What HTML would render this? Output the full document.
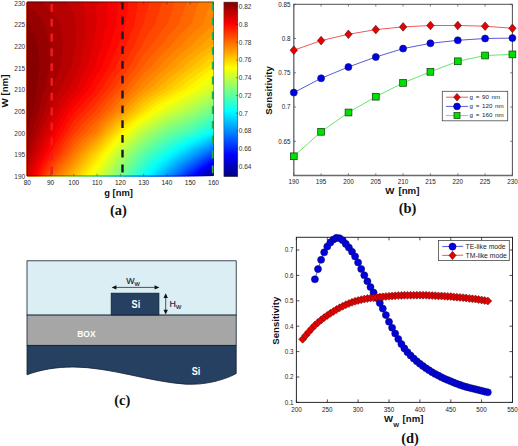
<!DOCTYPE html>
<html><head><meta charset="utf-8"><title>Figure</title>
<style>html,body{margin:0;padding:0;background:#fff}svg{display:block}</style>
</head><body>
<svg width="518" height="446" viewBox="0 0 518 446">
<rect width="518" height="446" fill="#fff"/>
<g shape-rendering="geometricPrecision">
<rect x="27.3" y="2.4" width="186.2" height="173.3" fill="#000080"/>
<path d="M27.3 175.7L32.0 175.7L36.6 175.7L41.3 175.7L45.9 175.7L50.6 175.7L55.2 175.7L59.9 175.7L64.5 175.7L69.2 175.7L73.8 175.7L78.5 175.7L83.2 175.7L87.8 175.7L92.5 175.7L97.1 175.7L101.8 175.7L106.4 175.7L111.1 175.7L115.7 175.7L120.4 175.7L125.1 175.7L129.7 175.7L134.4 175.7L139.0 175.7L143.7 175.7L148.3 175.7L153.0 175.7L157.6 175.7L162.3 175.7L166.9 175.7L171.6 175.7L176.3 175.7L180.9 175.7L185.6 175.7L190.2 175.7L194.9 175.7L199.5 175.7L204.2 175.7L208.8 175.7L213.5 175.7L213.5 175.7L213.5 171.4L213.5 167.0L213.5 162.7L213.5 158.4L213.5 154.0L213.5 149.7L213.5 145.4L213.5 141.0L213.5 136.7L213.5 132.4L213.5 128.0L213.5 123.7L213.5 119.4L213.5 115.0L213.5 110.7L213.5 106.4L213.5 102.0L213.5 97.7L213.5 93.4L213.5 89.0L213.5 84.7L213.5 80.4L213.5 76.1L213.5 71.7L213.5 67.4L213.5 63.1L213.5 58.7L213.5 54.4L213.5 50.1L213.5 45.7L213.5 41.4L213.5 37.1L213.5 32.7L213.5 28.4L213.5 24.1L213.5 19.7L213.5 15.4L213.5 11.1L213.5 6.7L213.5 2.4L208.8 2.4L204.2 2.4L199.5 2.4L194.9 2.4L190.2 2.4L185.6 2.4L180.9 2.4L176.3 2.4L171.6 2.4L166.9 2.4L162.3 2.4L157.6 2.4L153.0 2.4L148.3 2.4L143.7 2.4L139.0 2.4L134.4 2.4L129.7 2.4L125.1 2.4L120.4 2.4L115.7 2.4L111.1 2.4L106.4 2.4L101.8 2.4L97.1 2.4L92.5 2.4L87.8 2.4L83.2 2.4L78.5 2.4L73.8 2.4L69.2 2.4L64.5 2.4L59.9 2.4L55.2 2.4L50.6 2.4L45.9 2.4L41.3 2.4L36.6 2.4L32.0 2.4L27.3 2.4L27.3 6.7L27.3 11.1L27.3 15.4L27.3 19.7L27.3 24.1L27.3 28.4L27.3 32.7L27.3 37.1L27.3 41.4L27.3 45.7L27.3 50.1L27.3 54.4L27.3 58.7L27.3 63.1L27.3 67.4L27.3 71.7L27.3 76.1L27.3 80.4L27.3 84.7L27.3 89.0L27.3 93.4L27.3 97.7L27.3 102.0L27.3 106.4L27.3 110.7L27.3 115.0L27.3 119.4L27.3 123.7L27.3 128.0L27.3 132.4L27.3 136.7L27.3 141.0L27.3 145.4L27.3 149.7L27.3 154.0L27.3 158.4L27.3 162.7L27.3 167.0L27.3 171.4Z" fill="#000087" stroke="#000087" stroke-width="0.4"/>
<path d="M27.3 175.7L32.0 175.7L36.6 175.7L41.3 175.7L45.9 175.7L50.6 175.7L55.2 175.7L59.9 175.7L64.5 175.7L69.2 175.7L73.8 175.7L78.5 175.7L83.2 175.7L87.8 175.7L92.5 175.7L97.1 175.7L101.8 175.7L106.4 175.7L111.1 175.7L115.7 175.7L120.4 175.7L125.1 175.7L129.7 175.7L134.4 175.7L139.0 175.7L143.7 175.7L148.3 175.7L153.0 175.7L157.6 175.7L162.3 175.7L166.9 175.7L171.6 175.7L176.3 175.7L180.9 175.7L185.6 175.7L190.2 175.7L194.9 175.7L199.5 175.7L204.2 175.7L208.8 175.7L211.0 175.7L213.5 174.0L213.5 171.4L213.5 167.0L213.5 162.7L213.5 158.4L213.5 154.0L213.5 149.7L213.5 145.4L213.5 141.0L213.5 136.7L213.5 132.4L213.5 128.0L213.5 123.7L213.5 119.4L213.5 115.0L213.5 110.7L213.5 106.4L213.5 102.0L213.5 97.7L213.5 93.4L213.5 89.0L213.5 84.7L213.5 80.4L213.5 76.1L213.5 71.7L213.5 67.4L213.5 63.1L213.5 58.7L213.5 54.4L213.5 50.1L213.5 45.7L213.5 41.4L213.5 37.1L213.5 32.7L213.5 28.4L213.5 24.1L213.5 19.7L213.5 15.4L213.5 11.1L213.5 6.7L213.5 2.4L208.8 2.4L204.2 2.4L199.5 2.4L194.9 2.4L190.2 2.4L185.6 2.4L180.9 2.4L176.3 2.4L171.6 2.4L166.9 2.4L162.3 2.4L157.6 2.4L153.0 2.4L148.3 2.4L143.7 2.4L139.0 2.4L134.4 2.4L129.7 2.4L125.1 2.4L120.4 2.4L115.7 2.4L111.1 2.4L106.4 2.4L101.8 2.4L97.1 2.4L92.5 2.4L87.8 2.4L83.2 2.4L78.5 2.4L73.8 2.4L69.2 2.4L64.5 2.4L59.9 2.4L55.2 2.4L50.6 2.4L45.9 2.4L41.3 2.4L36.6 2.4L32.0 2.4L27.3 2.4L27.3 6.7L27.3 11.1L27.3 15.4L27.3 19.7L27.3 24.1L27.3 28.4L27.3 32.7L27.3 37.1L27.3 41.4L27.3 45.7L27.3 50.1L27.3 54.4L27.3 58.7L27.3 63.1L27.3 67.4L27.3 71.7L27.3 76.1L27.3 80.4L27.3 84.7L27.3 89.0L27.3 93.4L27.3 97.7L27.3 102.0L27.3 106.4L27.3 110.7L27.3 115.0L27.3 119.4L27.3 123.7L27.3 128.0L27.3 132.4L27.3 136.7L27.3 141.0L27.3 145.4L27.3 149.7L27.3 154.0L27.3 158.4L27.3 162.7L27.3 167.0L27.3 171.4Z" fill="#000097" stroke="#000097" stroke-width="0.4"/>
<path d="M27.3 175.7L32.0 175.7L36.6 175.7L41.3 175.7L45.9 175.7L50.6 175.7L55.2 175.7L59.9 175.7L64.5 175.7L69.2 175.7L73.8 175.7L78.5 175.7L83.2 175.7L87.8 175.7L92.5 175.7L97.1 175.7L101.8 175.7L106.4 175.7L111.1 175.7L115.7 175.7L120.4 175.7L125.1 175.7L129.7 175.7L134.4 175.7L139.0 175.7L143.7 175.7L148.3 175.7L153.0 175.7L157.6 175.7L162.3 175.7L166.9 175.7L171.6 175.7L176.3 175.7L180.9 175.7L185.6 175.7L190.2 175.7L194.9 175.7L199.5 175.7L204.2 175.7L208.5 175.7L208.8 175.5L213.5 172.2L213.5 171.4L213.5 167.0L213.5 162.7L213.5 158.4L213.5 154.0L213.5 149.7L213.5 145.4L213.5 141.0L213.5 136.7L213.5 132.4L213.5 128.0L213.5 123.7L213.5 119.4L213.5 115.0L213.5 110.7L213.5 106.4L213.5 102.0L213.5 97.7L213.5 93.4L213.5 89.0L213.5 84.7L213.5 80.4L213.5 76.1L213.5 71.7L213.5 67.4L213.5 63.1L213.5 58.7L213.5 54.4L213.5 50.1L213.5 45.7L213.5 41.4L213.5 37.1L213.5 32.7L213.5 28.4L213.5 24.1L213.5 19.7L213.5 15.4L213.5 11.1L213.5 6.7L213.5 2.4L208.8 2.4L204.2 2.4L199.5 2.4L194.9 2.4L190.2 2.4L185.6 2.4L180.9 2.4L176.3 2.4L171.6 2.4L166.9 2.4L162.3 2.4L157.6 2.4L153.0 2.4L148.3 2.4L143.7 2.4L139.0 2.4L134.4 2.4L129.7 2.4L125.1 2.4L120.4 2.4L115.7 2.4L111.1 2.4L106.4 2.4L101.8 2.4L97.1 2.4L92.5 2.4L87.8 2.4L83.2 2.4L78.5 2.4L73.8 2.4L69.2 2.4L64.5 2.4L59.9 2.4L55.2 2.4L50.6 2.4L45.9 2.4L41.3 2.4L36.6 2.4L32.0 2.4L27.3 2.4L27.3 6.7L27.3 11.1L27.3 15.4L27.3 19.7L27.3 24.1L27.3 28.4L27.3 32.7L27.3 37.1L27.3 41.4L27.3 45.7L27.3 50.1L27.3 54.4L27.3 58.7L27.3 63.1L27.3 67.4L27.3 71.7L27.3 76.1L27.3 80.4L27.3 84.7L27.3 89.0L27.3 93.4L27.3 97.7L27.3 102.0L27.3 106.4L27.3 110.7L27.3 115.0L27.3 119.4L27.3 123.7L27.3 128.0L27.3 132.4L27.3 136.7L27.3 141.0L27.3 145.4L27.3 149.7L27.3 154.0L27.3 158.4L27.3 162.7L27.3 167.0L27.3 171.4Z" fill="#0000a7" stroke="#0000a7" stroke-width="0.4"/>
<path d="M27.3 175.7L32.0 175.7L36.6 175.7L41.3 175.7L45.9 175.7L50.6 175.7L55.2 175.7L59.9 175.7L64.5 175.7L69.2 175.7L73.8 175.7L78.5 175.7L83.2 175.7L87.8 175.7L92.5 175.7L97.1 175.7L101.8 175.7L106.4 175.7L111.1 175.7L115.7 175.7L120.4 175.7L125.1 175.7L129.7 175.7L134.4 175.7L139.0 175.7L143.7 175.7L148.3 175.7L153.0 175.7L157.6 175.7L162.3 175.7L166.9 175.7L171.6 175.7L176.3 175.7L180.9 175.7L185.6 175.7L190.2 175.7L194.9 175.7L199.5 175.7L204.2 175.7L206.1 175.7L208.8 173.7L212.2 171.4L213.5 170.5L213.5 167.0L213.5 162.7L213.5 158.4L213.5 154.0L213.5 149.7L213.5 145.4L213.5 141.0L213.5 136.7L213.5 132.4L213.5 128.0L213.5 123.7L213.5 119.4L213.5 115.0L213.5 110.7L213.5 106.4L213.5 102.0L213.5 97.7L213.5 93.4L213.5 89.0L213.5 84.7L213.5 80.4L213.5 76.1L213.5 71.7L213.5 67.4L213.5 63.1L213.5 58.7L213.5 54.4L213.5 50.1L213.5 45.7L213.5 41.4L213.5 37.1L213.5 32.7L213.5 28.4L213.5 24.1L213.5 19.7L213.5 15.4L213.5 11.1L213.5 6.7L213.5 2.4L208.8 2.4L204.2 2.4L199.5 2.4L194.9 2.4L190.2 2.4L185.6 2.4L180.9 2.4L176.3 2.4L171.6 2.4L166.9 2.4L162.3 2.4L157.6 2.4L153.0 2.4L148.3 2.4L143.7 2.4L139.0 2.4L134.4 2.4L129.7 2.4L125.1 2.4L120.4 2.4L115.7 2.4L111.1 2.4L106.4 2.4L101.8 2.4L97.1 2.4L92.5 2.4L87.8 2.4L83.2 2.4L78.5 2.4L73.8 2.4L69.2 2.4L64.5 2.4L59.9 2.4L55.2 2.4L50.6 2.4L45.9 2.4L41.3 2.4L36.6 2.4L32.0 2.4L27.3 2.4L27.3 6.7L27.3 11.1L27.3 15.4L27.3 19.7L27.3 24.1L27.3 28.4L27.3 32.7L27.3 37.1L27.3 41.4L27.3 45.7L27.3 50.1L27.3 54.4L27.3 58.7L27.3 63.1L27.3 67.4L27.3 71.7L27.3 76.1L27.3 80.4L27.3 84.7L27.3 89.0L27.3 93.4L27.3 97.7L27.3 102.0L27.3 106.4L27.3 110.7L27.3 115.0L27.3 119.4L27.3 123.7L27.3 128.0L27.3 132.4L27.3 136.7L27.3 141.0L27.3 145.4L27.3 149.7L27.3 154.0L27.3 158.4L27.3 162.7L27.3 167.0L27.3 171.4Z" fill="#0000b7" stroke="#0000b7" stroke-width="0.4"/>
<path d="M27.3 175.7L32.0 175.7L36.6 175.7L41.3 175.7L45.9 175.7L50.6 175.7L55.2 175.7L59.9 175.7L64.5 175.7L69.2 175.7L73.8 175.7L78.5 175.7L83.2 175.7L87.8 175.7L92.5 175.7L97.1 175.7L101.8 175.7L106.4 175.7L111.1 175.7L115.7 175.7L120.4 175.7L125.1 175.7L129.7 175.7L134.4 175.7L139.0 175.7L143.7 175.7L148.3 175.7L153.0 175.7L157.6 175.7L162.3 175.7L166.9 175.7L171.6 175.7L176.3 175.7L180.9 175.7L185.6 175.7L190.2 175.7L194.9 175.7L199.5 175.7L203.6 175.7L204.2 175.2L208.8 171.8L209.5 171.4L213.5 168.7L213.5 167.0L213.5 162.7L213.5 158.4L213.5 154.0L213.5 149.7L213.5 145.4L213.5 141.0L213.5 136.7L213.5 132.4L213.5 128.0L213.5 123.7L213.5 119.4L213.5 115.0L213.5 110.7L213.5 106.4L213.5 102.0L213.5 97.7L213.5 93.4L213.5 89.0L213.5 84.7L213.5 80.4L213.5 76.1L213.5 71.7L213.5 67.4L213.5 63.1L213.5 58.7L213.5 54.4L213.5 50.1L213.5 45.7L213.5 41.4L213.5 37.1L213.5 32.7L213.5 28.4L213.5 24.1L213.5 19.7L213.5 15.4L213.5 11.1L213.5 6.7L213.5 2.4L208.8 2.4L204.2 2.4L199.5 2.4L194.9 2.4L190.2 2.4L185.6 2.4L180.9 2.4L176.3 2.4L171.6 2.4L166.9 2.4L162.3 2.4L157.6 2.4L153.0 2.4L148.3 2.4L143.7 2.4L139.0 2.4L134.4 2.4L129.7 2.4L125.1 2.4L120.4 2.4L115.7 2.4L111.1 2.4L106.4 2.4L101.8 2.4L97.1 2.4L92.5 2.4L87.8 2.4L83.2 2.4L78.5 2.4L73.8 2.4L69.2 2.4L64.5 2.4L59.9 2.4L55.2 2.4L50.6 2.4L45.9 2.4L41.3 2.4L36.6 2.4L32.0 2.4L27.3 2.4L27.3 6.7L27.3 11.1L27.3 15.4L27.3 19.7L27.3 24.1L27.3 28.4L27.3 32.7L27.3 37.1L27.3 41.4L27.3 45.7L27.3 50.1L27.3 54.4L27.3 58.7L27.3 63.1L27.3 67.4L27.3 71.7L27.3 76.1L27.3 80.4L27.3 84.7L27.3 89.0L27.3 93.4L27.3 97.7L27.3 102.0L27.3 106.4L27.3 110.7L27.3 115.0L27.3 119.4L27.3 123.7L27.3 128.0L27.3 132.4L27.3 136.7L27.3 141.0L27.3 145.4L27.3 149.7L27.3 154.0L27.3 158.4L27.3 162.7L27.3 167.0L27.3 171.4Z" fill="#0000c7" stroke="#0000c7" stroke-width="0.4"/>
<path d="M27.3 175.7L32.0 175.7L36.6 175.7L41.3 175.7L45.9 175.7L50.6 175.7L55.2 175.7L59.9 175.7L64.5 175.7L69.2 175.7L73.8 175.7L78.5 175.7L83.2 175.7L87.8 175.7L92.5 175.7L97.1 175.7L101.8 175.7L106.4 175.7L111.1 175.7L115.7 175.7L120.4 175.7L125.1 175.7L129.7 175.7L134.4 175.7L139.0 175.7L143.7 175.7L148.3 175.7L153.0 175.7L157.6 175.7L162.3 175.7L166.9 175.7L171.6 175.7L176.3 175.7L180.9 175.7L185.6 175.7L190.2 175.7L194.9 175.7L199.5 175.7L201.1 175.7L204.2 173.3L206.9 171.4L208.8 170.0L213.4 167.0L213.5 167.0L213.5 162.7L213.5 158.4L213.5 154.0L213.5 149.7L213.5 145.4L213.5 141.0L213.5 136.7L213.5 132.4L213.5 128.0L213.5 123.7L213.5 119.4L213.5 115.0L213.5 110.7L213.5 106.4L213.5 102.0L213.5 97.7L213.5 93.4L213.5 89.0L213.5 84.7L213.5 80.4L213.5 76.1L213.5 71.7L213.5 67.4L213.5 63.1L213.5 58.7L213.5 54.4L213.5 50.1L213.5 45.7L213.5 41.4L213.5 37.1L213.5 32.7L213.5 28.4L213.5 24.1L213.5 19.7L213.5 15.4L213.5 11.1L213.5 6.7L213.5 2.4L208.8 2.4L204.2 2.4L199.5 2.4L194.9 2.4L190.2 2.4L185.6 2.4L180.9 2.4L176.3 2.4L171.6 2.4L166.9 2.4L162.3 2.4L157.6 2.4L153.0 2.4L148.3 2.4L143.7 2.4L139.0 2.4L134.4 2.4L129.7 2.4L125.1 2.4L120.4 2.4L115.7 2.4L111.1 2.4L106.4 2.4L101.8 2.4L97.1 2.4L92.5 2.4L87.8 2.4L83.2 2.4L78.5 2.4L73.8 2.4L69.2 2.4L64.5 2.4L59.9 2.4L55.2 2.4L50.6 2.4L45.9 2.4L41.3 2.4L36.6 2.4L32.0 2.4L27.3 2.4L27.3 6.7L27.3 11.1L27.3 15.4L27.3 19.7L27.3 24.1L27.3 28.4L27.3 32.7L27.3 37.1L27.3 41.4L27.3 45.7L27.3 50.1L27.3 54.4L27.3 58.7L27.3 63.1L27.3 67.4L27.3 71.7L27.3 76.1L27.3 80.4L27.3 84.7L27.3 89.0L27.3 93.4L27.3 97.7L27.3 102.0L27.3 106.4L27.3 110.7L27.3 115.0L27.3 119.4L27.3 123.7L27.3 128.0L27.3 132.4L27.3 136.7L27.3 141.0L27.3 145.4L27.3 149.7L27.3 154.0L27.3 158.4L27.3 162.7L27.3 167.0L27.3 171.4Z" fill="#0000d7" stroke="#0000d7" stroke-width="0.4"/>
<path d="M27.3 175.7L32.0 175.7L36.6 175.7L41.3 175.7L45.9 175.7L50.6 175.7L55.2 175.7L59.9 175.7L64.5 175.7L69.2 175.7L73.8 175.7L78.5 175.7L83.2 175.7L87.8 175.7L92.5 175.7L97.1 175.7L101.8 175.7L106.4 175.7L111.1 175.7L115.7 175.7L120.4 175.7L125.1 175.7L129.7 175.7L134.4 175.7L139.0 175.7L143.7 175.7L148.3 175.7L153.0 175.7L157.6 175.7L162.3 175.7L166.9 175.7L171.6 175.7L176.3 175.7L180.9 175.7L185.6 175.7L190.2 175.7L194.9 175.7L198.6 175.7L199.5 175.0L204.2 171.4L204.3 171.4L208.8 168.2L210.6 167.0L213.5 165.3L213.5 162.7L213.5 158.4L213.5 154.0L213.5 149.7L213.5 145.4L213.5 141.0L213.5 136.7L213.5 132.4L213.5 128.0L213.5 123.7L213.5 119.4L213.5 115.0L213.5 110.7L213.5 106.4L213.5 102.0L213.5 97.7L213.5 93.4L213.5 89.0L213.5 84.7L213.5 80.4L213.5 76.1L213.5 71.7L213.5 67.4L213.5 63.1L213.5 58.7L213.5 54.4L213.5 50.1L213.5 45.7L213.5 41.4L213.5 37.1L213.5 32.7L213.5 28.4L213.5 24.1L213.5 19.7L213.5 15.4L213.5 11.1L213.5 6.7L213.5 2.4L208.8 2.4L204.2 2.4L199.5 2.4L194.9 2.4L190.2 2.4L185.6 2.4L180.9 2.4L176.3 2.4L171.6 2.4L166.9 2.4L162.3 2.4L157.6 2.4L153.0 2.4L148.3 2.4L143.7 2.4L139.0 2.4L134.4 2.4L129.7 2.4L125.1 2.4L120.4 2.4L115.7 2.4L111.1 2.4L106.4 2.4L101.8 2.4L97.1 2.4L92.5 2.4L87.8 2.4L83.2 2.4L78.5 2.4L73.8 2.4L69.2 2.4L64.5 2.4L59.9 2.4L55.2 2.4L50.6 2.4L45.9 2.4L41.3 2.4L36.6 2.4L32.0 2.4L27.3 2.4L27.3 6.7L27.3 11.1L27.3 15.4L27.3 19.7L27.3 24.1L27.3 28.4L27.3 32.7L27.3 37.1L27.3 41.4L27.3 45.7L27.3 50.1L27.3 54.4L27.3 58.7L27.3 63.1L27.3 67.4L27.3 71.7L27.3 76.1L27.3 80.4L27.3 84.7L27.3 89.0L27.3 93.4L27.3 97.7L27.3 102.0L27.3 106.4L27.3 110.7L27.3 115.0L27.3 119.4L27.3 123.7L27.3 128.0L27.3 132.4L27.3 136.7L27.3 141.0L27.3 145.4L27.3 149.7L27.3 154.0L27.3 158.4L27.3 162.7L27.3 167.0L27.3 171.4Z" fill="#0000e7" stroke="#0000e7" stroke-width="0.4"/>
<path d="M27.3 175.7L32.0 175.7L36.6 175.7L41.3 175.7L45.9 175.7L50.6 175.7L55.2 175.7L59.9 175.7L64.5 175.7L69.2 175.7L73.8 175.7L78.5 175.7L83.2 175.7L87.8 175.7L92.5 175.7L97.1 175.7L101.8 175.7L106.4 175.7L111.1 175.7L115.7 175.7L120.4 175.7L125.1 175.7L129.7 175.7L134.4 175.7L139.0 175.7L143.7 175.7L148.3 175.7L153.0 175.7L157.6 175.7L162.3 175.7L166.9 175.7L171.6 175.7L176.3 175.7L180.9 175.7L185.6 175.7L190.2 175.7L194.9 175.7L196.2 175.7L199.5 173.0L201.7 171.4L204.2 169.5L207.8 167.0L208.8 166.4L213.5 163.5L213.5 162.7L213.5 158.4L213.5 154.0L213.5 149.7L213.5 145.4L213.5 141.0L213.5 136.7L213.5 132.4L213.5 128.0L213.5 123.7L213.5 119.4L213.5 115.0L213.5 110.7L213.5 106.4L213.5 102.0L213.5 97.7L213.5 93.4L213.5 89.0L213.5 84.7L213.5 80.4L213.5 76.1L213.5 71.7L213.5 67.4L213.5 63.1L213.5 58.7L213.5 54.4L213.5 50.1L213.5 45.7L213.5 41.4L213.5 37.1L213.5 32.7L213.5 28.4L213.5 24.1L213.5 19.7L213.5 15.4L213.5 11.1L213.5 6.7L213.5 2.4L208.8 2.4L204.2 2.4L199.5 2.4L194.9 2.4L190.2 2.4L185.6 2.4L180.9 2.4L176.3 2.4L171.6 2.4L166.9 2.4L162.3 2.4L157.6 2.4L153.0 2.4L148.3 2.4L143.7 2.4L139.0 2.4L134.4 2.4L129.7 2.4L125.1 2.4L120.4 2.4L115.7 2.4L111.1 2.4L106.4 2.4L101.8 2.4L97.1 2.4L92.5 2.4L87.8 2.4L83.2 2.4L78.5 2.4L73.8 2.4L69.2 2.4L64.5 2.4L59.9 2.4L55.2 2.4L50.6 2.4L45.9 2.4L41.3 2.4L36.6 2.4L32.0 2.4L27.3 2.4L27.3 6.7L27.3 11.1L27.3 15.4L27.3 19.7L27.3 24.1L27.3 28.4L27.3 32.7L27.3 37.1L27.3 41.4L27.3 45.7L27.3 50.1L27.3 54.4L27.3 58.7L27.3 63.1L27.3 67.4L27.3 71.7L27.3 76.1L27.3 80.4L27.3 84.7L27.3 89.0L27.3 93.4L27.3 97.7L27.3 102.0L27.3 106.4L27.3 110.7L27.3 115.0L27.3 119.4L27.3 123.7L27.3 128.0L27.3 132.4L27.3 136.7L27.3 141.0L27.3 145.4L27.3 149.7L27.3 154.0L27.3 158.4L27.3 162.7L27.3 167.0L27.3 171.4Z" fill="#0000f7" stroke="#0000f7" stroke-width="0.4"/>
<path d="M27.3 175.7L32.0 175.7L36.6 175.7L41.3 175.7L45.9 175.7L50.6 175.7L55.2 175.7L59.9 175.7L64.5 175.7L69.2 175.7L73.8 175.7L78.5 175.7L83.2 175.7L87.8 175.7L92.5 175.7L97.1 175.7L101.8 175.7L106.4 175.7L111.1 175.7L115.7 175.7L120.4 175.7L125.1 175.7L129.7 175.7L134.4 175.7L139.0 175.7L143.7 175.7L148.3 175.7L153.0 175.7L157.6 175.7L162.3 175.7L166.9 175.7L171.6 175.7L176.3 175.7L180.9 175.7L185.6 175.7L190.2 175.7L193.7 175.7L194.9 174.7L199.0 171.4L199.5 171.0L204.2 167.6L205.0 167.0L208.8 164.6L211.9 162.7L213.5 161.8L213.5 158.4L213.5 154.0L213.5 149.7L213.5 145.4L213.5 141.0L213.5 136.7L213.5 132.4L213.5 128.0L213.5 123.7L213.5 119.4L213.5 115.0L213.5 110.7L213.5 106.4L213.5 102.0L213.5 97.7L213.5 93.4L213.5 89.0L213.5 84.7L213.5 80.4L213.5 76.1L213.5 71.7L213.5 67.4L213.5 63.1L213.5 58.7L213.5 54.4L213.5 50.1L213.5 45.7L213.5 41.4L213.5 37.1L213.5 32.7L213.5 28.4L213.5 24.1L213.5 19.7L213.5 15.4L213.5 11.1L213.5 6.7L213.5 2.4L208.8 2.4L204.2 2.4L199.5 2.4L194.9 2.4L190.2 2.4L185.6 2.4L180.9 2.4L176.3 2.4L171.6 2.4L166.9 2.4L162.3 2.4L157.6 2.4L153.0 2.4L148.3 2.4L143.7 2.4L139.0 2.4L134.4 2.4L129.7 2.4L125.1 2.4L120.4 2.4L115.7 2.4L111.1 2.4L106.4 2.4L101.8 2.4L97.1 2.4L92.5 2.4L87.8 2.4L83.2 2.4L78.5 2.4L73.8 2.4L69.2 2.4L64.5 2.4L59.9 2.4L55.2 2.4L50.6 2.4L45.9 2.4L41.3 2.4L36.6 2.4L32.0 2.4L27.3 2.4L27.3 6.7L27.3 11.1L27.3 15.4L27.3 19.7L27.3 24.1L27.3 28.4L27.3 32.7L27.3 37.1L27.3 41.4L27.3 45.7L27.3 50.1L27.3 54.4L27.3 58.7L27.3 63.1L27.3 67.4L27.3 71.7L27.3 76.1L27.3 80.4L27.3 84.7L27.3 89.0L27.3 93.4L27.3 97.7L27.3 102.0L27.3 106.4L27.3 110.7L27.3 115.0L27.3 119.4L27.3 123.7L27.3 128.0L27.3 132.4L27.3 136.7L27.3 141.0L27.3 145.4L27.3 149.7L27.3 154.0L27.3 158.4L27.3 162.7L27.3 167.0L27.3 171.4Z" fill="#0008ff" stroke="#0008ff" stroke-width="0.4"/>
<path d="M27.3 175.7L32.0 175.7L36.6 175.7L41.3 175.7L45.9 175.7L50.6 175.7L55.2 175.7L59.9 175.7L64.5 175.7L69.2 175.7L73.8 175.7L78.5 175.7L83.2 175.7L87.8 175.7L92.5 175.7L97.1 175.7L101.8 175.7L106.4 175.7L111.1 175.7L115.7 175.7L120.4 175.7L125.1 175.7L129.7 175.7L134.4 175.7L139.0 175.7L143.7 175.7L148.3 175.7L153.0 175.7L157.6 175.7L162.3 175.7L166.9 175.7L171.6 175.7L176.3 175.7L180.9 175.7L185.6 175.7L190.2 175.7L191.2 175.7L194.9 172.6L196.4 171.4L199.5 169.0L202.3 167.0L204.2 165.7L208.8 162.7L208.9 162.7L213.5 160.0L213.5 158.4L213.5 154.0L213.5 149.7L213.5 145.4L213.5 141.0L213.5 136.7L213.5 132.4L213.5 128.0L213.5 123.7L213.5 119.4L213.5 115.0L213.5 110.7L213.5 106.4L213.5 102.0L213.5 97.7L213.5 93.4L213.5 89.0L213.5 84.7L213.5 80.4L213.5 76.1L213.5 71.7L213.5 67.4L213.5 63.1L213.5 58.7L213.5 54.4L213.5 50.1L213.5 45.7L213.5 41.4L213.5 37.1L213.5 32.7L213.5 28.4L213.5 24.1L213.5 19.7L213.5 15.4L213.5 11.1L213.5 6.7L213.5 2.4L208.8 2.4L204.2 2.4L199.5 2.4L194.9 2.4L190.2 2.4L185.6 2.4L180.9 2.4L176.3 2.4L171.6 2.4L166.9 2.4L162.3 2.4L157.6 2.4L153.0 2.4L148.3 2.4L143.7 2.4L139.0 2.4L134.4 2.4L129.7 2.4L125.1 2.4L120.4 2.4L115.7 2.4L111.1 2.4L106.4 2.4L101.8 2.4L97.1 2.4L92.5 2.4L87.8 2.4L83.2 2.4L78.5 2.4L73.8 2.4L69.2 2.4L64.5 2.4L59.9 2.4L55.2 2.4L50.6 2.4L45.9 2.4L41.3 2.4L36.6 2.4L32.0 2.4L27.3 2.4L27.3 6.7L27.3 11.1L27.3 15.4L27.3 19.7L27.3 24.1L27.3 28.4L27.3 32.7L27.3 37.1L27.3 41.4L27.3 45.7L27.3 50.1L27.3 54.4L27.3 58.7L27.3 63.1L27.3 67.4L27.3 71.7L27.3 76.1L27.3 80.4L27.3 84.7L27.3 89.0L27.3 93.4L27.3 97.7L27.3 102.0L27.3 106.4L27.3 110.7L27.3 115.0L27.3 119.4L27.3 123.7L27.3 128.0L27.3 132.4L27.3 136.7L27.3 141.0L27.3 145.4L27.3 149.7L27.3 154.0L27.3 158.4L27.3 162.7L27.3 167.0L27.3 171.4Z" fill="#0018ff" stroke="#0018ff" stroke-width="0.4"/>
<path d="M27.3 175.7L32.0 175.7L36.6 175.7L41.3 175.7L45.9 175.7L50.6 175.7L55.2 175.7L59.9 175.7L64.5 175.7L69.2 175.7L73.8 175.7L78.5 175.7L83.2 175.7L87.8 175.7L92.5 175.7L97.1 175.7L101.8 175.7L106.4 175.7L111.1 175.7L115.7 175.7L120.4 175.7L125.1 175.7L129.7 175.7L134.4 175.7L139.0 175.7L143.7 175.7L148.3 175.7L153.0 175.7L157.6 175.7L162.3 175.7L166.9 175.7L171.6 175.7L176.3 175.7L180.9 175.7L185.6 175.7L188.6 175.7L190.2 174.4L193.8 171.4L194.9 170.5L199.5 167.0L199.5 167.0L204.2 163.8L205.9 162.7L208.8 160.9L213.4 158.4L213.5 158.3L213.5 154.0L213.5 149.7L213.5 145.4L213.5 141.0L213.5 136.7L213.5 132.4L213.5 128.0L213.5 123.7L213.5 119.4L213.5 115.0L213.5 110.7L213.5 106.4L213.5 102.0L213.5 97.7L213.5 93.4L213.5 89.0L213.5 84.7L213.5 80.4L213.5 76.1L213.5 71.7L213.5 67.4L213.5 63.1L213.5 58.7L213.5 54.4L213.5 50.1L213.5 45.7L213.5 41.4L213.5 37.1L213.5 32.7L213.5 28.4L213.5 24.1L213.5 19.7L213.5 15.4L213.5 11.1L213.5 6.7L213.5 2.4L208.8 2.4L204.2 2.4L199.5 2.4L194.9 2.4L190.2 2.4L185.6 2.4L180.9 2.4L176.3 2.4L171.6 2.4L166.9 2.4L162.3 2.4L157.6 2.4L153.0 2.4L148.3 2.4L143.7 2.4L139.0 2.4L134.4 2.4L129.7 2.4L125.1 2.4L120.4 2.4L115.7 2.4L111.1 2.4L106.4 2.4L101.8 2.4L97.1 2.4L92.5 2.4L87.8 2.4L83.2 2.4L78.5 2.4L73.8 2.4L69.2 2.4L64.5 2.4L59.9 2.4L55.2 2.4L50.6 2.4L45.9 2.4L41.3 2.4L36.6 2.4L32.0 2.4L27.3 2.4L27.3 6.7L27.3 11.1L27.3 15.4L27.3 19.7L27.3 24.1L27.3 28.4L27.3 32.7L27.3 37.1L27.3 41.4L27.3 45.7L27.3 50.1L27.3 54.4L27.3 58.7L27.3 63.1L27.3 67.4L27.3 71.7L27.3 76.1L27.3 80.4L27.3 84.7L27.3 89.0L27.3 93.4L27.3 97.7L27.3 102.0L27.3 106.4L27.3 110.7L27.3 115.0L27.3 119.4L27.3 123.7L27.3 128.0L27.3 132.4L27.3 136.7L27.3 141.0L27.3 145.4L27.3 149.7L27.3 154.0L27.3 158.4L27.3 162.7L27.3 167.0L27.3 171.4Z" fill="#0028ff" stroke="#0028ff" stroke-width="0.4"/>
<path d="M27.3 175.7L32.0 175.7L36.6 175.7L41.3 175.7L45.9 175.7L50.6 175.7L55.2 175.7L59.9 175.7L64.5 175.7L69.2 175.7L73.8 175.7L78.5 175.7L83.2 175.7L87.8 175.7L92.5 175.7L97.1 175.7L101.8 175.7L106.4 175.7L111.1 175.7L115.7 175.7L120.4 175.7L125.1 175.7L129.7 175.7L134.4 175.7L139.0 175.7L143.7 175.7L148.3 175.7L153.0 175.7L157.6 175.7L162.3 175.7L166.9 175.7L171.6 175.7L176.3 175.7L180.9 175.7L185.6 175.7L185.8 175.7L190.2 172.1L191.1 171.4L194.9 168.4L196.7 167.0L199.5 165.0L202.9 162.7L204.2 161.9L208.8 159.1L210.1 158.4L213.5 156.6L213.5 154.0L213.5 149.7L213.5 145.4L213.5 141.0L213.5 136.7L213.5 132.4L213.5 128.0L213.5 123.7L213.5 119.4L213.5 115.0L213.5 110.7L213.5 106.4L213.5 102.0L213.5 97.7L213.5 93.4L213.5 89.0L213.5 84.7L213.5 80.4L213.5 76.1L213.5 71.7L213.5 67.4L213.5 63.1L213.5 58.7L213.5 54.4L213.5 50.1L213.5 45.7L213.5 41.4L213.5 37.1L213.5 32.7L213.5 28.4L213.5 24.1L213.5 19.7L213.5 15.4L213.5 11.1L213.5 6.7L213.5 2.4L208.8 2.4L204.2 2.4L199.5 2.4L194.9 2.4L190.2 2.4L185.6 2.4L180.9 2.4L176.3 2.4L171.6 2.4L166.9 2.4L162.3 2.4L157.6 2.4L153.0 2.4L148.3 2.4L143.7 2.4L139.0 2.4L134.4 2.4L129.7 2.4L125.1 2.4L120.4 2.4L115.7 2.4L111.1 2.4L106.4 2.4L101.8 2.4L97.1 2.4L92.5 2.4L87.8 2.4L83.2 2.4L78.5 2.4L73.8 2.4L69.2 2.4L64.5 2.4L59.9 2.4L55.2 2.4L50.6 2.4L45.9 2.4L41.3 2.4L36.6 2.4L32.0 2.4L27.3 2.4L27.3 6.7L27.3 11.1L27.3 15.4L27.3 19.7L27.3 24.1L27.3 28.4L27.3 32.7L27.3 37.1L27.3 41.4L27.3 45.7L27.3 50.1L27.3 54.4L27.3 58.7L27.3 63.1L27.3 67.4L27.3 71.7L27.3 76.1L27.3 80.4L27.3 84.7L27.3 89.0L27.3 93.4L27.3 97.7L27.3 102.0L27.3 106.4L27.3 110.7L27.3 115.0L27.3 119.4L27.3 123.7L27.3 128.0L27.3 132.4L27.3 136.7L27.3 141.0L27.3 145.4L27.3 149.7L27.3 154.0L27.3 158.4L27.3 162.7L27.3 167.0L27.3 171.4Z" fill="#0038ff" stroke="#0038ff" stroke-width="0.4"/>
<path d="M27.3 175.7L32.0 175.7L36.6 175.7L41.3 175.7L45.9 175.7L50.6 175.7L55.2 175.7L59.9 175.7L64.5 175.7L69.2 175.7L73.8 175.7L78.5 175.7L83.2 175.7L87.8 175.7L92.5 175.7L97.1 175.7L101.8 175.7L106.4 175.7L111.1 175.7L115.7 175.7L120.4 175.7L125.1 175.7L129.7 175.7L134.4 175.7L139.0 175.7L143.7 175.7L148.3 175.7L153.0 175.7L157.6 175.7L162.3 175.7L166.9 175.7L171.6 175.7L176.3 175.7L180.9 175.7L183.0 175.7L185.6 173.5L188.3 171.4L190.2 169.9L193.9 167.0L194.9 166.3L199.5 163.0L199.9 162.7L204.2 160.0L206.9 158.4L208.8 157.3L213.5 154.8L213.5 154.0L213.5 149.7L213.5 145.4L213.5 141.0L213.5 136.7L213.5 132.4L213.5 128.0L213.5 123.7L213.5 119.4L213.5 115.0L213.5 110.7L213.5 106.4L213.5 102.0L213.5 97.7L213.5 93.4L213.5 89.0L213.5 84.7L213.5 80.4L213.5 76.1L213.5 71.7L213.5 67.4L213.5 63.1L213.5 58.7L213.5 54.4L213.5 50.1L213.5 45.7L213.5 41.4L213.5 37.1L213.5 32.7L213.5 28.4L213.5 24.1L213.5 19.7L213.5 15.4L213.5 11.1L213.5 6.7L213.5 2.4L208.8 2.4L204.2 2.4L199.5 2.4L194.9 2.4L190.2 2.4L185.6 2.4L180.9 2.4L176.3 2.4L171.6 2.4L166.9 2.4L162.3 2.4L157.6 2.4L153.0 2.4L148.3 2.4L143.7 2.4L139.0 2.4L134.4 2.4L129.7 2.4L125.1 2.4L120.4 2.4L115.7 2.4L111.1 2.4L106.4 2.4L101.8 2.4L97.1 2.4L92.5 2.4L87.8 2.4L83.2 2.4L78.5 2.4L73.8 2.4L69.2 2.4L64.5 2.4L59.9 2.4L55.2 2.4L50.6 2.4L45.9 2.4L41.3 2.4L36.6 2.4L32.0 2.4L27.3 2.4L27.3 6.7L27.3 11.1L27.3 15.4L27.3 19.7L27.3 24.1L27.3 28.4L27.3 32.7L27.3 37.1L27.3 41.4L27.3 45.7L27.3 50.1L27.3 54.4L27.3 58.7L27.3 63.1L27.3 67.4L27.3 71.7L27.3 76.1L27.3 80.4L27.3 84.7L27.3 89.0L27.3 93.4L27.3 97.7L27.3 102.0L27.3 106.4L27.3 110.7L27.3 115.0L27.3 119.4L27.3 123.7L27.3 128.0L27.3 132.4L27.3 136.7L27.3 141.0L27.3 145.4L27.3 149.7L27.3 154.0L27.3 158.4L27.3 162.7L27.3 167.0L27.3 171.4Z" fill="#0048ff" stroke="#0048ff" stroke-width="0.4"/>
<path d="M27.3 175.7L32.0 175.7L36.6 175.7L41.3 175.7L45.9 175.7L50.6 175.7L55.2 175.7L59.9 175.7L64.5 175.7L69.2 175.7L73.8 175.7L78.5 175.7L83.2 175.7L87.8 175.7L92.5 175.7L97.1 175.7L101.8 175.7L106.4 175.7L111.1 175.7L115.7 175.7L120.4 175.7L125.1 175.7L129.7 175.7L134.4 175.7L139.0 175.7L143.7 175.7L148.3 175.7L153.0 175.7L157.6 175.7L162.3 175.7L166.9 175.7L171.6 175.7L176.3 175.7L180.2 175.7L180.9 175.1L185.3 171.4L185.6 171.2L190.2 167.7L191.1 167.0L194.9 164.2L196.9 162.7L199.5 161.0L203.7 158.4L204.2 158.1L208.8 155.5L211.6 154.0L213.5 153.0L213.5 149.7L213.5 145.4L213.5 141.0L213.5 136.7L213.5 132.4L213.5 128.0L213.5 123.7L213.5 119.4L213.5 115.0L213.5 110.7L213.5 106.4L213.5 102.0L213.5 97.7L213.5 93.4L213.5 89.0L213.5 84.7L213.5 80.4L213.5 76.1L213.5 71.7L213.5 67.4L213.5 63.1L213.5 58.7L213.5 54.4L213.5 50.1L213.5 45.7L213.5 41.4L213.5 37.1L213.5 32.7L213.5 28.4L213.5 24.1L213.5 19.7L213.5 15.4L213.5 11.1L213.5 6.7L213.5 2.4L208.8 2.4L204.2 2.4L199.5 2.4L194.9 2.4L190.2 2.4L185.6 2.4L180.9 2.4L176.3 2.4L171.6 2.4L166.9 2.4L162.3 2.4L157.6 2.4L153.0 2.4L148.3 2.4L143.7 2.4L139.0 2.4L134.4 2.4L129.7 2.4L125.1 2.4L120.4 2.4L115.7 2.4L111.1 2.4L106.4 2.4L101.8 2.4L97.1 2.4L92.5 2.4L87.8 2.4L83.2 2.4L78.5 2.4L73.8 2.4L69.2 2.4L64.5 2.4L59.9 2.4L55.2 2.4L50.6 2.4L45.9 2.4L41.3 2.4L36.6 2.4L32.0 2.4L27.3 2.4L27.3 6.7L27.3 11.1L27.3 15.4L27.3 19.7L27.3 24.1L27.3 28.4L27.3 32.7L27.3 37.1L27.3 41.4L27.3 45.7L27.3 50.1L27.3 54.4L27.3 58.7L27.3 63.1L27.3 67.4L27.3 71.7L27.3 76.1L27.3 80.4L27.3 84.7L27.3 89.0L27.3 93.4L27.3 97.7L27.3 102.0L27.3 106.4L27.3 110.7L27.3 115.0L27.3 119.4L27.3 123.7L27.3 128.0L27.3 132.4L27.3 136.7L27.3 141.0L27.3 145.4L27.3 149.7L27.3 154.0L27.3 158.4L27.3 162.7L27.3 167.0L27.3 171.4Z" fill="#0058ff" stroke="#0058ff" stroke-width="0.4"/>
<path d="M27.3 175.7L32.0 175.7L36.6 175.7L41.3 175.7L45.9 175.7L50.6 175.7L55.2 175.7L59.9 175.7L64.5 175.7L69.2 175.7L73.8 175.7L78.5 175.7L83.2 175.7L87.8 175.7L92.5 175.7L97.1 175.7L101.8 175.7L106.4 175.7L111.1 175.7L115.7 175.7L120.4 175.7L125.1 175.7L129.7 175.7L134.4 175.7L139.0 175.7L143.7 175.7L148.3 175.7L153.0 175.7L157.6 175.7L162.3 175.7L166.9 175.7L171.6 175.7L176.3 175.7L177.4 175.7L180.9 172.6L182.3 171.4L185.6 168.8L188.0 167.0L190.2 165.5L194.0 162.7L194.9 162.1L199.5 159.0L200.5 158.4L204.2 156.2L208.1 154.0L208.8 153.6L213.5 151.1L213.5 149.7L213.5 145.4L213.5 141.0L213.5 136.7L213.5 132.4L213.5 128.0L213.5 123.7L213.5 119.4L213.5 115.0L213.5 110.7L213.5 106.4L213.5 102.0L213.5 97.7L213.5 93.4L213.5 89.0L213.5 84.7L213.5 80.4L213.5 76.1L213.5 71.7L213.5 67.4L213.5 63.1L213.5 58.7L213.5 54.4L213.5 50.1L213.5 45.7L213.5 41.4L213.5 37.1L213.5 32.7L213.5 28.4L213.5 24.1L213.5 19.7L213.5 15.4L213.5 11.1L213.5 6.7L213.5 2.4L208.8 2.4L204.2 2.4L199.5 2.4L194.9 2.4L190.2 2.4L185.6 2.4L180.9 2.4L176.3 2.4L171.6 2.4L166.9 2.4L162.3 2.4L157.6 2.4L153.0 2.4L148.3 2.4L143.7 2.4L139.0 2.4L134.4 2.4L129.7 2.4L125.1 2.4L120.4 2.4L115.7 2.4L111.1 2.4L106.4 2.4L101.8 2.4L97.1 2.4L92.5 2.4L87.8 2.4L83.2 2.4L78.5 2.4L73.8 2.4L69.2 2.4L64.5 2.4L59.9 2.4L55.2 2.4L50.6 2.4L45.9 2.4L41.3 2.4L36.6 2.4L32.0 2.4L27.3 2.4L27.3 6.7L27.3 11.1L27.3 15.4L27.3 19.7L27.3 24.1L27.3 28.4L27.3 32.7L27.3 37.1L27.3 41.4L27.3 45.7L27.3 50.1L27.3 54.4L27.3 58.7L27.3 63.1L27.3 67.4L27.3 71.7L27.3 76.1L27.3 80.4L27.3 84.7L27.3 89.0L27.3 93.4L27.3 97.7L27.3 102.0L27.3 106.4L27.3 110.7L27.3 115.0L27.3 119.4L27.3 123.7L27.3 128.0L27.3 132.4L27.3 136.7L27.3 141.0L27.3 145.4L27.3 149.7L27.3 154.0L27.3 158.4L27.3 162.7L27.3 167.0L27.3 171.4Z" fill="#0068ff" stroke="#0068ff" stroke-width="0.4"/>
<path d="M27.3 175.7L32.0 175.7L36.6 175.7L41.3 175.7L45.9 175.7L50.6 175.7L55.2 175.7L59.9 175.7L64.5 175.7L69.2 175.7L73.8 175.7L78.5 175.7L83.2 175.7L87.8 175.7L92.5 175.7L97.1 175.7L101.8 175.7L106.4 175.7L111.1 175.7L115.7 175.7L120.4 175.7L125.1 175.7L129.7 175.7L134.4 175.7L139.0 175.7L143.7 175.7L148.3 175.7L153.0 175.7L157.6 175.7L162.3 175.7L166.9 175.7L171.6 175.7L174.6 175.7L176.3 174.1L179.4 171.4L180.9 170.1L184.8 167.0L185.6 166.5L190.2 163.2L191.0 162.7L194.9 159.9L197.3 158.4L199.5 157.0L204.2 154.3L204.6 154.0L208.8 151.6L212.5 149.7L213.5 149.2L213.5 145.4L213.5 141.0L213.5 136.7L213.5 132.4L213.5 128.0L213.5 123.7L213.5 119.4L213.5 115.0L213.5 110.7L213.5 106.4L213.5 102.0L213.5 97.7L213.5 93.4L213.5 89.0L213.5 84.7L213.5 80.4L213.5 76.1L213.5 71.7L213.5 67.4L213.5 63.1L213.5 58.7L213.5 54.4L213.5 50.1L213.5 45.7L213.5 41.4L213.5 37.1L213.5 32.7L213.5 28.4L213.5 24.1L213.5 19.7L213.5 15.4L213.5 11.1L213.5 6.7L213.5 2.4L208.8 2.4L204.2 2.4L199.5 2.4L194.9 2.4L190.2 2.4L185.6 2.4L180.9 2.4L176.3 2.4L171.6 2.4L166.9 2.4L162.3 2.4L157.6 2.4L153.0 2.4L148.3 2.4L143.7 2.4L139.0 2.4L134.4 2.4L129.7 2.4L125.1 2.4L120.4 2.4L115.7 2.4L111.1 2.4L106.4 2.4L101.8 2.4L97.1 2.4L92.5 2.4L87.8 2.4L83.2 2.4L78.5 2.4L73.8 2.4L69.2 2.4L64.5 2.4L59.9 2.4L55.2 2.4L50.6 2.4L45.9 2.4L41.3 2.4L36.6 2.4L32.0 2.4L27.3 2.4L27.3 6.7L27.3 11.1L27.3 15.4L27.3 19.7L27.3 24.1L27.3 28.4L27.3 32.7L27.3 37.1L27.3 41.4L27.3 45.7L27.3 50.1L27.3 54.4L27.3 58.7L27.3 63.1L27.3 67.4L27.3 71.7L27.3 76.1L27.3 80.4L27.3 84.7L27.3 89.0L27.3 93.4L27.3 97.7L27.3 102.0L27.3 106.4L27.3 110.7L27.3 115.0L27.3 119.4L27.3 123.7L27.3 128.0L27.3 132.4L27.3 136.7L27.3 141.0L27.3 145.4L27.3 149.7L27.3 154.0L27.3 158.4L27.3 162.7L27.3 167.0L27.3 171.4Z" fill="#0078ff" stroke="#0078ff" stroke-width="0.4"/>
<path d="M27.3 175.7L32.0 175.7L36.6 175.7L41.3 175.7L45.9 175.7L50.6 175.7L55.2 175.7L59.9 175.7L64.5 175.7L69.2 175.7L73.8 175.7L78.5 175.7L83.2 175.7L87.8 175.7L92.5 175.7L97.1 175.7L101.8 175.7L106.4 175.7L111.1 175.7L115.7 175.7L120.4 175.7L125.1 175.7L129.7 175.7L134.4 175.7L139.0 175.7L143.7 175.7L148.3 175.7L153.0 175.7L157.6 175.7L162.3 175.7L166.9 175.7L171.6 175.7L171.8 175.7L176.3 171.5L176.4 171.4L180.9 167.6L181.6 167.0L185.6 164.1L187.6 162.7L190.2 161.0L194.1 158.4L194.9 157.8L199.5 155.0L201.1 154.0L204.2 152.2L208.8 149.7L208.8 149.7L213.5 147.3L213.5 145.4L213.5 141.0L213.5 136.7L213.5 132.4L213.5 128.0L213.5 123.7L213.5 119.4L213.5 115.0L213.5 110.7L213.5 106.4L213.5 102.0L213.5 97.7L213.5 93.4L213.5 89.0L213.5 84.7L213.5 80.4L213.5 76.1L213.5 71.7L213.5 67.4L213.5 63.1L213.5 58.7L213.5 54.4L213.5 50.1L213.5 45.7L213.5 41.4L213.5 37.1L213.5 32.7L213.5 28.4L213.5 24.1L213.5 19.7L213.5 15.4L213.5 11.1L213.5 6.7L213.5 2.4L208.8 2.4L204.2 2.4L199.5 2.4L194.9 2.4L190.2 2.4L185.6 2.4L180.9 2.4L176.3 2.4L171.6 2.4L166.9 2.4L162.3 2.4L157.6 2.4L153.0 2.4L148.3 2.4L143.7 2.4L139.0 2.4L134.4 2.4L129.7 2.4L125.1 2.4L120.4 2.4L115.7 2.4L111.1 2.4L106.4 2.4L101.8 2.4L97.1 2.4L92.5 2.4L87.8 2.4L83.2 2.4L78.5 2.4L73.8 2.4L69.2 2.4L64.5 2.4L59.9 2.4L55.2 2.4L50.6 2.4L45.9 2.4L41.3 2.4L36.6 2.4L32.0 2.4L27.3 2.4L27.3 6.7L27.3 11.1L27.3 15.4L27.3 19.7L27.3 24.1L27.3 28.4L27.3 32.7L27.3 37.1L27.3 41.4L27.3 45.7L27.3 50.1L27.3 54.4L27.3 58.7L27.3 63.1L27.3 67.4L27.3 71.7L27.3 76.1L27.3 80.4L27.3 84.7L27.3 89.0L27.3 93.4L27.3 97.7L27.3 102.0L27.3 106.4L27.3 110.7L27.3 115.0L27.3 119.4L27.3 123.7L27.3 128.0L27.3 132.4L27.3 136.7L27.3 141.0L27.3 145.4L27.3 149.7L27.3 154.0L27.3 158.4L27.3 162.7L27.3 167.0L27.3 171.4Z" fill="#0087ff" stroke="#0087ff" stroke-width="0.4"/>
<path d="M27.3 175.7L32.0 175.7L36.6 175.7L41.3 175.7L45.9 175.7L50.6 175.7L55.2 175.7L59.9 175.7L64.5 175.7L69.2 175.7L73.8 175.7L78.5 175.7L83.2 175.7L87.8 175.7L92.5 175.7L97.1 175.7L101.8 175.7L106.4 175.7L111.1 175.7L115.7 175.7L120.4 175.7L125.1 175.7L129.7 175.7L134.4 175.7L139.0 175.7L143.7 175.7L148.3 175.7L153.0 175.7L157.6 175.7L162.3 175.7L166.9 175.7L169.1 175.7L171.6 173.1L173.4 171.4L176.3 168.8L178.4 167.0L180.9 165.1L184.2 162.7L185.6 161.8L190.2 158.8L190.8 158.4L194.9 155.7L197.7 154.0L199.5 152.9L204.2 150.2L205.0 149.7L208.8 147.7L213.5 145.5L213.5 145.4L213.5 141.0L213.5 136.7L213.5 132.4L213.5 128.0L213.5 123.7L213.5 119.4L213.5 115.0L213.5 110.7L213.5 106.4L213.5 102.0L213.5 97.7L213.5 93.4L213.5 89.0L213.5 84.7L213.5 80.4L213.5 76.1L213.5 71.7L213.5 67.4L213.5 63.1L213.5 58.7L213.5 54.4L213.5 50.1L213.5 45.7L213.5 41.4L213.5 37.1L213.5 32.7L213.5 28.4L213.5 24.1L213.5 19.7L213.5 15.4L213.5 11.1L213.5 6.7L213.5 2.4L208.8 2.4L204.2 2.4L199.5 2.4L194.9 2.4L190.2 2.4L185.6 2.4L180.9 2.4L176.3 2.4L171.6 2.4L166.9 2.4L162.3 2.4L157.6 2.4L153.0 2.4L148.3 2.4L143.7 2.4L139.0 2.4L134.4 2.4L129.7 2.4L125.1 2.4L120.4 2.4L115.7 2.4L111.1 2.4L106.4 2.4L101.8 2.4L97.1 2.4L92.5 2.4L87.8 2.4L83.2 2.4L78.5 2.4L73.8 2.4L69.2 2.4L64.5 2.4L59.9 2.4L55.2 2.4L50.6 2.4L45.9 2.4L41.3 2.4L36.6 2.4L32.0 2.4L27.3 2.4L27.3 6.7L27.3 11.1L27.3 15.4L27.3 19.7L27.3 24.1L27.3 28.4L27.3 32.7L27.3 37.1L27.3 41.4L27.3 45.7L27.3 50.1L27.3 54.4L27.3 58.7L27.3 63.1L27.3 67.4L27.3 71.7L27.3 76.1L27.3 80.4L27.3 84.7L27.3 89.0L27.3 93.4L27.3 97.7L27.3 102.0L27.3 106.4L27.3 110.7L27.3 115.0L27.3 119.4L27.3 123.7L27.3 128.0L27.3 132.4L27.3 136.7L27.3 141.0L27.3 145.4L27.3 149.7L27.3 154.0L27.3 158.4L27.3 162.7L27.3 167.0L27.3 171.4Z" fill="#0097ff" stroke="#0097ff" stroke-width="0.4"/>
<path d="M27.3 175.7L32.0 175.7L36.6 175.7L41.3 175.7L45.9 175.7L50.6 175.7L55.2 175.7L59.9 175.7L64.5 175.7L69.2 175.7L73.8 175.7L78.5 175.7L83.2 175.7L87.8 175.7L92.5 175.7L97.1 175.7L101.8 175.7L106.4 175.7L111.1 175.7L115.7 175.7L120.4 175.7L125.1 175.7L129.7 175.7L134.4 175.7L139.0 175.7L143.7 175.7L148.3 175.7L153.0 175.7L157.6 175.7L162.3 175.7L166.2 175.7L166.9 175.0L170.4 171.4L171.6 170.2L175.2 167.0L176.3 166.2L180.7 162.7L180.9 162.6L185.6 159.4L187.2 158.4L190.2 156.6L194.2 154.0L194.9 153.6L199.5 150.7L201.3 149.7L204.2 148.1L208.8 145.7L209.6 145.4L213.5 143.6L213.5 141.0L213.5 136.7L213.5 132.4L213.5 128.0L213.5 123.7L213.5 119.4L213.5 115.0L213.5 110.7L213.5 106.4L213.5 102.0L213.5 97.7L213.5 93.4L213.5 89.0L213.5 84.7L213.5 80.4L213.5 76.1L213.5 71.7L213.5 67.4L213.5 63.1L213.5 58.7L213.5 54.4L213.5 50.1L213.5 45.7L213.5 41.4L213.5 37.1L213.5 32.7L213.5 28.4L213.5 24.1L213.5 19.7L213.5 15.4L213.5 11.1L213.5 6.7L213.5 2.4L208.8 2.4L204.2 2.4L199.5 2.4L194.9 2.4L190.2 2.4L185.6 2.4L180.9 2.4L176.3 2.4L171.6 2.4L166.9 2.4L162.3 2.4L157.6 2.4L153.0 2.4L148.3 2.4L143.7 2.4L139.0 2.4L134.4 2.4L129.7 2.4L125.1 2.4L120.4 2.4L115.7 2.4L111.1 2.4L106.4 2.4L101.8 2.4L97.1 2.4L92.5 2.4L87.8 2.4L83.2 2.4L78.5 2.4L73.8 2.4L69.2 2.4L64.5 2.4L59.9 2.4L55.2 2.4L50.6 2.4L45.9 2.4L41.3 2.4L36.6 2.4L32.0 2.4L27.3 2.4L27.3 6.7L27.3 11.1L27.3 15.4L27.3 19.7L27.3 24.1L27.3 28.4L27.3 32.7L27.3 37.1L27.3 41.4L27.3 45.7L27.3 50.1L27.3 54.4L27.3 58.7L27.3 63.1L27.3 67.4L27.3 71.7L27.3 76.1L27.3 80.4L27.3 84.7L27.3 89.0L27.3 93.4L27.3 97.7L27.3 102.0L27.3 106.4L27.3 110.7L27.3 115.0L27.3 119.4L27.3 123.7L27.3 128.0L27.3 132.4L27.3 136.7L27.3 141.0L27.3 145.4L27.3 149.7L27.3 154.0L27.3 158.4L27.3 162.7L27.3 167.0L27.3 171.4Z" fill="#00a7ff" stroke="#00a7ff" stroke-width="0.4"/>
<path d="M27.3 175.7L32.0 175.7L36.6 175.7L41.3 175.7L45.9 175.7L50.6 175.7L55.2 175.7L59.9 175.7L64.5 175.7L69.2 175.7L73.8 175.7L78.5 175.7L83.2 175.7L87.8 175.7L92.5 175.7L97.1 175.7L101.8 175.7L106.4 175.7L111.1 175.7L115.7 175.7L120.4 175.7L125.1 175.7L129.7 175.7L134.4 175.7L139.0 175.7L143.7 175.7L148.3 175.7L153.0 175.7L157.6 175.7L162.3 175.7L162.9 175.7L166.9 171.9L167.5 171.4L171.6 167.4L172.0 167.0L176.3 163.5L177.3 162.7L180.9 160.1L183.5 158.4L185.6 157.0L190.2 154.4L190.7 154.0L194.9 151.3L197.5 149.7L199.5 148.5L204.2 146.0L205.5 145.4L208.8 143.8L213.5 141.7L213.5 141.0L213.5 136.7L213.5 132.4L213.5 128.0L213.5 123.7L213.5 119.4L213.5 115.0L213.5 110.7L213.5 106.4L213.5 102.0L213.5 97.7L213.5 93.4L213.5 89.0L213.5 84.7L213.5 80.4L213.5 76.1L213.5 71.7L213.5 67.4L213.5 63.1L213.5 58.7L213.5 54.4L213.5 50.1L213.5 45.7L213.5 41.4L213.5 37.1L213.5 32.7L213.5 28.4L213.5 24.1L213.5 19.7L213.5 15.4L213.5 11.1L213.5 6.7L213.5 2.4L208.8 2.4L204.2 2.4L199.5 2.4L194.9 2.4L190.2 2.4L185.6 2.4L180.9 2.4L176.3 2.4L171.6 2.4L166.9 2.4L162.3 2.4L157.6 2.4L153.0 2.4L148.3 2.4L143.7 2.4L139.0 2.4L134.4 2.4L129.7 2.4L125.1 2.4L120.4 2.4L115.7 2.4L111.1 2.4L106.4 2.4L101.8 2.4L97.1 2.4L92.5 2.4L87.8 2.4L83.2 2.4L78.5 2.4L73.8 2.4L69.2 2.4L64.5 2.4L59.9 2.4L55.2 2.4L50.6 2.4L45.9 2.4L41.3 2.4L36.6 2.4L32.0 2.4L27.3 2.4L27.3 6.7L27.3 11.1L27.3 15.4L27.3 19.7L27.3 24.1L27.3 28.4L27.3 32.7L27.3 37.1L27.3 41.4L27.3 45.7L27.3 50.1L27.3 54.4L27.3 58.7L27.3 63.1L27.3 67.4L27.3 71.7L27.3 76.1L27.3 80.4L27.3 84.7L27.3 89.0L27.3 93.4L27.3 97.7L27.3 102.0L27.3 106.4L27.3 110.7L27.3 115.0L27.3 119.4L27.3 123.7L27.3 128.0L27.3 132.4L27.3 136.7L27.3 141.0L27.3 145.4L27.3 149.7L27.3 154.0L27.3 158.4L27.3 162.7L27.3 167.0L27.3 171.4Z" fill="#00b7ff" stroke="#00b7ff" stroke-width="0.4"/>
<path d="M27.3 175.7L32.0 175.7L36.6 175.7L41.3 175.7L45.9 175.7L50.6 175.7L55.2 175.7L59.9 175.7L64.5 175.7L69.2 175.7L73.8 175.7L78.5 175.7L83.2 175.7L87.8 175.7L92.5 175.7L97.1 175.7L101.8 175.7L106.4 175.7L111.1 175.7L115.7 175.7L120.4 175.7L125.1 175.7L129.7 175.7L134.4 175.7L139.0 175.7L143.7 175.7L148.3 175.7L153.0 175.7L157.6 175.7L159.6 175.7L162.3 173.0L164.0 171.4L166.9 168.8L168.8 167.0L171.6 164.5L173.8 162.7L176.3 160.8L179.7 158.4L180.9 157.6L185.6 154.7L186.7 154.0L190.2 152.0L193.7 149.7L194.9 149.0L199.5 146.4L201.4 145.4L204.2 144.0L208.8 141.8L210.5 141.0L213.5 139.8L213.5 136.7L213.5 132.4L213.5 128.0L213.5 123.7L213.5 119.4L213.5 115.0L213.5 110.7L213.5 106.4L213.5 102.0L213.5 97.7L213.5 93.4L213.5 89.0L213.5 84.7L213.5 80.4L213.5 76.1L213.5 71.7L213.5 67.4L213.5 63.1L213.5 58.7L213.5 54.4L213.5 50.1L213.5 45.7L213.5 41.4L213.5 37.1L213.5 32.7L213.5 28.4L213.5 24.1L213.5 19.7L213.5 15.4L213.5 11.1L213.5 6.7L213.5 2.4L208.8 2.4L204.2 2.4L199.5 2.4L194.9 2.4L190.2 2.4L185.6 2.4L180.9 2.4L176.3 2.4L171.6 2.4L166.9 2.4L162.3 2.4L157.6 2.4L153.0 2.4L148.3 2.4L143.7 2.4L139.0 2.4L134.4 2.4L129.7 2.4L125.1 2.4L120.4 2.4L115.7 2.4L111.1 2.4L106.4 2.4L101.8 2.4L97.1 2.4L92.5 2.4L87.8 2.4L83.2 2.4L78.5 2.4L73.8 2.4L69.2 2.4L64.5 2.4L59.9 2.4L55.2 2.4L50.6 2.4L45.9 2.4L41.3 2.4L36.6 2.4L32.0 2.4L27.3 2.4L27.3 6.7L27.3 11.1L27.3 15.4L27.3 19.7L27.3 24.1L27.3 28.4L27.3 32.7L27.3 37.1L27.3 41.4L27.3 45.7L27.3 50.1L27.3 54.4L27.3 58.7L27.3 63.1L27.3 67.4L27.3 71.7L27.3 76.1L27.3 80.4L27.3 84.7L27.3 89.0L27.3 93.4L27.3 97.7L27.3 102.0L27.3 106.4L27.3 110.7L27.3 115.0L27.3 119.4L27.3 123.7L27.3 128.0L27.3 132.4L27.3 136.7L27.3 141.0L27.3 145.4L27.3 149.7L27.3 154.0L27.3 158.4L27.3 162.7L27.3 167.0L27.3 171.4Z" fill="#00c7ff" stroke="#00c7ff" stroke-width="0.4"/>
<path d="M27.3 175.7L32.0 175.7L36.6 175.7L41.3 175.7L45.9 175.7L50.6 175.7L55.2 175.7L59.9 175.7L64.5 175.7L69.2 175.7L73.8 175.7L78.5 175.7L83.2 175.7L87.8 175.7L92.5 175.7L97.1 175.7L101.8 175.7L106.4 175.7L111.1 175.7L115.7 175.7L120.4 175.7L125.1 175.7L129.7 175.7L134.4 175.7L139.0 175.7L143.7 175.7L148.3 175.7L153.0 175.7L156.4 175.7L157.6 174.3L160.5 171.4L162.3 169.7L165.4 167.0L166.9 165.8L170.4 162.7L171.6 161.7L176.0 158.4L176.3 158.2L180.9 155.1L182.6 154.0L185.6 152.2L189.9 149.7L190.2 149.5L194.9 146.7L197.3 145.4L199.5 144.2L204.2 141.9L206.0 141.0L208.8 139.8L213.5 137.9L213.5 136.7L213.5 132.4L213.5 128.0L213.5 123.7L213.5 119.4L213.5 115.0L213.5 110.7L213.5 106.4L213.5 102.0L213.5 97.7L213.5 93.4L213.5 89.0L213.5 84.7L213.5 80.4L213.5 76.1L213.5 71.7L213.5 67.4L213.5 63.1L213.5 58.7L213.5 54.4L213.5 50.1L213.5 45.7L213.5 41.4L213.5 37.1L213.5 32.7L213.5 28.4L213.5 24.1L213.5 19.7L213.5 15.4L213.5 11.1L213.5 6.7L213.5 2.4L208.8 2.4L204.2 2.4L199.5 2.4L194.9 2.4L190.2 2.4L185.6 2.4L180.9 2.4L176.3 2.4L171.6 2.4L166.9 2.4L162.3 2.4L157.6 2.4L153.0 2.4L148.3 2.4L143.7 2.4L139.0 2.4L134.4 2.4L129.7 2.4L125.1 2.4L120.4 2.4L115.7 2.4L111.1 2.4L106.4 2.4L101.8 2.4L97.1 2.4L92.5 2.4L87.8 2.4L83.2 2.4L78.5 2.4L73.8 2.4L69.2 2.4L64.5 2.4L59.9 2.4L55.2 2.4L50.6 2.4L45.9 2.4L41.3 2.4L36.6 2.4L32.0 2.4L27.3 2.4L27.3 6.7L27.3 11.1L27.3 15.4L27.3 19.7L27.3 24.1L27.3 28.4L27.3 32.7L27.3 37.1L27.3 41.4L27.3 45.7L27.3 50.1L27.3 54.4L27.3 58.7L27.3 63.1L27.3 67.4L27.3 71.7L27.3 76.1L27.3 80.4L27.3 84.7L27.3 89.0L27.3 93.4L27.3 97.7L27.3 102.0L27.3 106.4L27.3 110.7L27.3 115.0L27.3 119.4L27.3 123.7L27.3 128.0L27.3 132.4L27.3 136.7L27.3 141.0L27.3 145.4L27.3 149.7L27.3 154.0L27.3 158.4L27.3 162.7L27.3 167.0L27.3 171.4Z" fill="#00d7ff" stroke="#00d7ff" stroke-width="0.4"/>
<path d="M27.3 175.7L32.0 175.7L36.6 175.7L41.3 175.7L45.9 175.7L50.6 175.7L55.2 175.7L59.9 175.7L64.5 175.7L69.2 175.7L73.8 175.7L78.5 175.7L83.2 175.7L87.8 175.7L92.5 175.7L97.1 175.7L101.8 175.7L106.4 175.7L111.1 175.7L115.7 175.7L120.4 175.7L125.1 175.7L129.7 175.7L134.4 175.7L139.0 175.7L143.7 175.7L148.3 175.7L153.0 175.7L153.1 175.7L157.0 171.4L157.6 170.7L161.6 167.0L162.3 166.4L166.9 162.7L166.9 162.7L171.6 158.8L172.2 158.4L176.3 155.5L178.5 154.0L180.9 152.4L185.4 149.7L185.6 149.6L190.2 147.1L193.2 145.4L194.9 144.4L199.5 142.0L201.5 141.0L204.2 139.8L208.8 137.8L211.7 136.7L213.5 136.0L213.5 132.4L213.5 128.0L213.5 123.7L213.5 119.4L213.5 115.0L213.5 110.7L213.5 106.4L213.5 102.0L213.5 97.7L213.5 93.4L213.5 89.0L213.5 84.7L213.5 80.4L213.5 76.1L213.5 71.7L213.5 67.4L213.5 63.1L213.5 58.7L213.5 54.4L213.5 50.1L213.5 45.7L213.5 41.4L213.5 37.1L213.5 32.7L213.5 28.4L213.5 24.1L213.5 19.7L213.5 15.4L213.5 11.1L213.5 6.7L213.5 2.4L208.8 2.4L204.2 2.4L199.5 2.4L194.9 2.4L190.2 2.4L185.6 2.4L180.9 2.4L176.3 2.4L171.6 2.4L166.9 2.4L162.3 2.4L157.6 2.4L153.0 2.4L148.3 2.4L143.7 2.4L139.0 2.4L134.4 2.4L129.7 2.4L125.1 2.4L120.4 2.4L115.7 2.4L111.1 2.4L106.4 2.4L101.8 2.4L97.1 2.4L92.5 2.4L87.8 2.4L83.2 2.4L78.5 2.4L73.8 2.4L69.2 2.4L64.5 2.4L59.9 2.4L55.2 2.4L50.6 2.4L45.9 2.4L41.3 2.4L36.6 2.4L32.0 2.4L27.3 2.4L27.3 6.7L27.3 11.1L27.3 15.4L27.3 19.7L27.3 24.1L27.3 28.4L27.3 32.7L27.3 37.1L27.3 41.4L27.3 45.7L27.3 50.1L27.3 54.4L27.3 58.7L27.3 63.1L27.3 67.4L27.3 71.7L27.3 76.1L27.3 80.4L27.3 84.7L27.3 89.0L27.3 93.4L27.3 97.7L27.3 102.0L27.3 106.4L27.3 110.7L27.3 115.0L27.3 119.4L27.3 123.7L27.3 128.0L27.3 132.4L27.3 136.7L27.3 141.0L27.3 145.4L27.3 149.7L27.3 154.0L27.3 158.4L27.3 162.7L27.3 167.0L27.3 171.4Z" fill="#00e7ff" stroke="#00e7ff" stroke-width="0.4"/>
<path d="M27.3 175.7L32.0 175.7L36.6 175.7L41.3 175.7L45.9 175.7L50.6 175.7L55.2 175.7L59.9 175.7L64.5 175.7L69.2 175.7L73.8 175.7L78.5 175.7L83.2 175.7L87.8 175.7L92.5 175.7L97.1 175.7L101.8 175.7L106.4 175.7L111.1 175.7L115.7 175.7L120.4 175.7L125.1 175.7L129.7 175.7L134.4 175.7L139.0 175.7L143.7 175.7L148.3 175.7L149.9 175.7L153.0 172.0L153.5 171.4L157.6 167.2L157.8 167.0L162.3 163.1L162.8 162.7L166.9 159.6L168.5 158.4L171.6 156.0L174.4 154.0L176.3 152.7L180.9 149.7L180.9 149.7L185.6 147.0L188.8 145.4L190.2 144.7L194.9 142.1L197.0 141.0L199.5 139.8L204.2 137.8L206.7 136.7L208.8 135.9L213.5 134.1L213.5 132.4L213.5 128.0L213.5 123.7L213.5 119.4L213.5 115.0L213.5 110.7L213.5 106.4L213.5 102.0L213.5 97.7L213.5 93.4L213.5 89.0L213.5 84.7L213.5 80.4L213.5 76.1L213.5 71.7L213.5 67.4L213.5 63.1L213.5 58.7L213.5 54.4L213.5 50.1L213.5 45.7L213.5 41.4L213.5 37.1L213.5 32.7L213.5 28.4L213.5 24.1L213.5 19.7L213.5 15.4L213.5 11.1L213.5 6.7L213.5 2.4L208.8 2.4L204.2 2.4L199.5 2.4L194.9 2.4L190.2 2.4L185.6 2.4L180.9 2.4L176.3 2.4L171.6 2.4L166.9 2.4L162.3 2.4L157.6 2.4L153.0 2.4L148.3 2.4L143.7 2.4L139.0 2.4L134.4 2.4L129.7 2.4L125.1 2.4L120.4 2.4L115.7 2.4L111.1 2.4L106.4 2.4L101.8 2.4L97.1 2.4L92.5 2.4L87.8 2.4L83.2 2.4L78.5 2.4L73.8 2.4L69.2 2.4L64.5 2.4L59.9 2.4L55.2 2.4L50.6 2.4L45.9 2.4L41.3 2.4L36.6 2.4L32.0 2.4L27.3 2.4L27.3 6.7L27.3 11.1L27.3 15.4L27.3 19.7L27.3 24.1L27.3 28.4L27.3 32.7L27.3 37.1L27.3 41.4L27.3 45.7L27.3 50.1L27.3 54.4L27.3 58.7L27.3 63.1L27.3 67.4L27.3 71.7L27.3 76.1L27.3 80.4L27.3 84.7L27.3 89.0L27.3 93.4L27.3 97.7L27.3 102.0L27.3 106.4L27.3 110.7L27.3 115.0L27.3 119.4L27.3 123.7L27.3 128.0L27.3 132.4L27.3 136.7L27.3 141.0L27.3 145.4L27.3 149.7L27.3 154.0L27.3 158.4L27.3 162.7L27.3 167.0L27.3 171.4Z" fill="#00f7ff" stroke="#00f7ff" stroke-width="0.4"/>
<path d="M27.3 175.7L32.0 175.7L36.6 175.7L41.3 175.7L45.9 175.7L50.6 175.7L55.2 175.7L59.9 175.7L64.5 175.7L69.2 175.7L73.8 175.7L78.5 175.7L83.2 175.7L87.8 175.7L92.5 175.7L97.1 175.7L101.8 175.7L106.4 175.7L111.1 175.7L115.7 175.7L120.4 175.7L125.1 175.7L129.7 175.7L134.4 175.7L139.0 175.7L143.7 175.7L146.6 175.7L148.3 173.4L150.0 171.4L153.0 168.1L154.0 167.0L157.6 163.6L158.7 162.7L162.3 159.8L164.3 158.4L166.9 156.6L170.3 154.0L171.6 153.0L176.3 149.8L176.4 149.7L180.9 146.9L183.8 145.4L185.6 144.5L190.2 142.3L192.5 141.0L194.9 139.8L199.5 137.7L201.7 136.7L204.2 135.7L208.8 133.9L213.2 132.4L213.5 132.2L213.5 128.0L213.5 123.7L213.5 119.4L213.5 115.0L213.5 110.7L213.5 106.4L213.5 102.0L213.5 97.7L213.5 93.4L213.5 89.0L213.5 84.7L213.5 80.4L213.5 76.1L213.5 71.7L213.5 67.4L213.5 63.1L213.5 58.7L213.5 54.4L213.5 50.1L213.5 45.7L213.5 41.4L213.5 37.1L213.5 32.7L213.5 28.4L213.5 24.1L213.5 19.7L213.5 15.4L213.5 11.1L213.5 6.7L213.5 2.4L208.8 2.4L204.2 2.4L199.5 2.4L194.9 2.4L190.2 2.4L185.6 2.4L180.9 2.4L176.3 2.4L171.6 2.4L166.9 2.4L162.3 2.4L157.6 2.4L153.0 2.4L148.3 2.4L143.7 2.4L139.0 2.4L134.4 2.4L129.7 2.4L125.1 2.4L120.4 2.4L115.7 2.4L111.1 2.4L106.4 2.4L101.8 2.4L97.1 2.4L92.5 2.4L87.8 2.4L83.2 2.4L78.5 2.4L73.8 2.4L69.2 2.4L64.5 2.4L59.9 2.4L55.2 2.4L50.6 2.4L45.9 2.4L41.3 2.4L36.6 2.4L32.0 2.4L27.3 2.4L27.3 6.7L27.3 11.1L27.3 15.4L27.3 19.7L27.3 24.1L27.3 28.4L27.3 32.7L27.3 37.1L27.3 41.4L27.3 45.7L27.3 50.1L27.3 54.4L27.3 58.7L27.3 63.1L27.3 67.4L27.3 71.7L27.3 76.1L27.3 80.4L27.3 84.7L27.3 89.0L27.3 93.4L27.3 97.7L27.3 102.0L27.3 106.4L27.3 110.7L27.3 115.0L27.3 119.4L27.3 123.7L27.3 128.0L27.3 132.4L27.3 136.7L27.3 141.0L27.3 145.4L27.3 149.7L27.3 154.0L27.3 158.4L27.3 162.7L27.3 167.0L27.3 171.4Z" fill="#08fff7" stroke="#08fff7" stroke-width="0.4"/>
<path d="M27.3 175.7L32.0 175.7L36.6 175.7L41.3 175.7L45.9 175.7L50.6 175.7L55.2 175.7L59.9 175.7L64.5 175.7L69.2 175.7L73.8 175.7L78.5 175.7L83.2 175.7L87.8 175.7L92.5 175.7L97.1 175.7L101.8 175.7L106.4 175.7L111.1 175.7L115.7 175.7L120.4 175.7L125.1 175.7L129.7 175.7L134.4 175.7L139.0 175.7L143.3 175.7L143.7 175.2L146.5 171.4L148.3 169.2L150.2 167.0L153.0 164.2L154.6 162.7L157.6 160.0L159.8 158.4L162.3 156.5L166.0 154.0L166.9 153.4L171.6 149.9L171.8 149.7L176.3 146.8L178.7 145.4L180.9 144.2L185.6 141.9L187.4 141.0L190.2 139.9L194.9 137.6L196.7 136.7L199.5 135.5L204.2 133.6L207.6 132.4L208.8 131.7L213.5 129.1L213.5 128.0L213.5 123.7L213.5 119.4L213.5 115.0L213.5 110.7L213.5 106.4L213.5 102.0L213.5 97.7L213.5 93.4L213.5 89.0L213.5 84.7L213.5 80.4L213.5 76.1L213.5 71.7L213.5 67.4L213.5 63.1L213.5 58.7L213.5 54.4L213.5 50.1L213.5 45.7L213.5 41.4L213.5 37.1L213.5 32.7L213.5 28.4L213.5 24.1L213.5 19.7L213.5 15.4L213.5 11.1L213.5 6.7L213.5 2.4L208.8 2.4L204.2 2.4L199.5 2.4L194.9 2.4L190.2 2.4L185.6 2.4L180.9 2.4L176.3 2.4L171.6 2.4L166.9 2.4L162.3 2.4L157.6 2.4L153.0 2.4L148.3 2.4L143.7 2.4L139.0 2.4L134.4 2.4L129.7 2.4L125.1 2.4L120.4 2.4L115.7 2.4L111.1 2.4L106.4 2.4L101.8 2.4L97.1 2.4L92.5 2.4L87.8 2.4L83.2 2.4L78.5 2.4L73.8 2.4L69.2 2.4L64.5 2.4L59.9 2.4L55.2 2.4L50.6 2.4L45.9 2.4L41.3 2.4L36.6 2.4L32.0 2.4L27.3 2.4L27.3 6.7L27.3 11.1L27.3 15.4L27.3 19.7L27.3 24.1L27.3 28.4L27.3 32.7L27.3 37.1L27.3 41.4L27.3 45.7L27.3 50.1L27.3 54.4L27.3 58.7L27.3 63.1L27.3 67.4L27.3 71.7L27.3 76.1L27.3 80.4L27.3 84.7L27.3 89.0L27.3 93.4L27.3 97.7L27.3 102.0L27.3 106.4L27.3 110.7L27.3 115.0L27.3 119.4L27.3 123.7L27.3 128.0L27.3 132.4L27.3 136.7L27.3 141.0L27.3 145.4L27.3 149.7L27.3 154.0L27.3 158.4L27.3 162.7L27.3 167.0L27.3 171.4Z" fill="#18ffe7" stroke="#18ffe7" stroke-width="0.4"/>
<path d="M27.3 175.7L32.0 175.7L36.6 175.7L41.3 175.7L45.9 175.7L50.6 175.7L55.2 175.7L59.9 175.7L64.5 175.7L69.2 175.7L73.8 175.7L78.5 175.7L83.2 175.7L87.8 175.7L92.5 175.7L97.1 175.7L101.8 175.7L106.4 175.7L111.1 175.7L115.7 175.7L120.4 175.7L125.1 175.7L129.7 175.7L134.4 175.7L139.0 175.7L139.8 175.7L143.0 171.4L143.7 170.5L146.4 167.0L148.3 164.9L150.5 162.7L153.0 160.3L155.2 158.4L157.6 156.5L161.1 154.0L162.3 153.2L166.9 150.0L167.3 149.7L171.6 146.7L173.7 145.4L176.3 143.9L180.9 141.4L181.8 141.0L185.6 139.3L190.2 137.4L191.7 136.7L194.9 135.3L199.5 133.3L201.9 132.4L204.2 131.1L208.8 128.5L209.7 128.0L213.5 126.0L213.5 123.7L213.5 119.4L213.5 115.0L213.5 110.7L213.5 106.4L213.5 102.0L213.5 97.7L213.5 93.4L213.5 89.0L213.5 84.7L213.5 80.4L213.5 76.1L213.5 71.7L213.5 67.4L213.5 63.1L213.5 58.7L213.5 54.4L213.5 50.1L213.5 45.7L213.5 41.4L213.5 37.1L213.5 32.7L213.5 28.4L213.5 24.1L213.5 19.7L213.5 15.4L213.5 11.1L213.5 6.7L213.5 2.4L208.8 2.4L204.2 2.4L199.5 2.4L194.9 2.4L190.2 2.4L185.6 2.4L180.9 2.4L176.3 2.4L171.6 2.4L166.9 2.4L162.3 2.4L157.6 2.4L153.0 2.4L148.3 2.4L143.7 2.4L139.0 2.4L134.4 2.4L129.7 2.4L125.1 2.4L120.4 2.4L115.7 2.4L111.1 2.4L106.4 2.4L101.8 2.4L97.1 2.4L92.5 2.4L87.8 2.4L83.2 2.4L78.5 2.4L73.8 2.4L69.2 2.4L64.5 2.4L59.9 2.4L55.2 2.4L50.6 2.4L45.9 2.4L41.3 2.4L36.6 2.4L32.0 2.4L27.3 2.4L27.3 6.7L27.3 11.1L27.3 15.4L27.3 19.7L27.3 24.1L27.3 28.4L27.3 32.7L27.3 37.1L27.3 41.4L27.3 45.7L27.3 50.1L27.3 54.4L27.3 58.7L27.3 63.1L27.3 67.4L27.3 71.7L27.3 76.1L27.3 80.4L27.3 84.7L27.3 89.0L27.3 93.4L27.3 97.7L27.3 102.0L27.3 106.4L27.3 110.7L27.3 115.0L27.3 119.4L27.3 123.7L27.3 128.0L27.3 132.4L27.3 136.7L27.3 141.0L27.3 145.4L27.3 149.7L27.3 154.0L27.3 158.4L27.3 162.7L27.3 167.0L27.3 171.4Z" fill="#28ffd7" stroke="#28ffd7" stroke-width="0.4"/>
<path d="M27.3 175.7L32.0 175.7L36.6 175.7L41.3 175.7L45.9 175.7L50.6 175.7L55.2 175.7L59.9 175.7L64.5 175.7L69.2 175.7L73.8 175.7L78.5 175.7L83.2 175.7L87.8 175.7L92.5 175.7L97.1 175.7L101.8 175.7L106.4 175.7L111.1 175.7L115.7 175.7L120.4 175.7L125.1 175.7L129.7 175.7L134.4 175.7L136.2 175.7L139.0 171.9L139.4 171.4L142.7 167.0L143.7 165.8L146.3 162.7L148.3 160.6L150.7 158.4L153.0 156.4L156.1 154.0L157.6 152.9L162.3 149.7L162.3 149.7L166.9 146.5L168.7 145.4L171.6 143.5L176.1 141.0L176.3 140.9L180.9 138.7L185.6 136.7L185.7 136.7L190.2 135.0L194.9 133.0L196.3 132.4L199.5 130.5L204.0 128.0L204.2 127.9L208.8 125.4L212.0 123.7L213.5 122.9L213.5 119.4L213.5 115.0L213.5 110.7L213.5 106.4L213.5 102.0L213.5 97.7L213.5 93.4L213.5 89.0L213.5 84.7L213.5 80.4L213.5 76.1L213.5 71.7L213.5 67.4L213.5 63.1L213.5 58.7L213.5 54.4L213.5 50.1L213.5 45.7L213.5 41.4L213.5 37.1L213.5 32.7L213.5 28.4L213.5 24.1L213.5 19.7L213.5 15.4L213.5 11.1L213.5 6.7L213.5 2.4L208.8 2.4L204.2 2.4L199.5 2.4L194.9 2.4L190.2 2.4L185.6 2.4L180.9 2.4L176.3 2.4L171.6 2.4L166.9 2.4L162.3 2.4L157.6 2.4L153.0 2.4L148.3 2.4L143.7 2.4L139.0 2.4L134.4 2.4L129.7 2.4L125.1 2.4L120.4 2.4L115.7 2.4L111.1 2.4L106.4 2.4L101.8 2.4L97.1 2.4L92.5 2.4L87.8 2.4L83.2 2.4L78.5 2.4L73.8 2.4L69.2 2.4L64.5 2.4L59.9 2.4L55.2 2.4L50.6 2.4L45.9 2.4L41.3 2.4L36.6 2.4L32.0 2.4L27.3 2.4L27.3 6.7L27.3 11.1L27.3 15.4L27.3 19.7L27.3 24.1L27.3 28.4L27.3 32.7L27.3 37.1L27.3 41.4L27.3 45.7L27.3 50.1L27.3 54.4L27.3 58.7L27.3 63.1L27.3 67.4L27.3 71.7L27.3 76.1L27.3 80.4L27.3 84.7L27.3 89.0L27.3 93.4L27.3 97.7L27.3 102.0L27.3 106.4L27.3 110.7L27.3 115.0L27.3 119.4L27.3 123.7L27.3 128.0L27.3 132.4L27.3 136.7L27.3 141.0L27.3 145.4L27.3 149.7L27.3 154.0L27.3 158.4L27.3 162.7L27.3 167.0L27.3 171.4Z" fill="#38ffc7" stroke="#38ffc7" stroke-width="0.4"/>
<path d="M27.3 175.7L32.0 175.7L36.6 175.7L41.3 175.7L45.9 175.7L50.6 175.7L55.2 175.7L59.9 175.7L64.5 175.7L69.2 175.7L73.8 175.7L78.5 175.7L83.2 175.7L87.8 175.7L92.5 175.7L97.1 175.7L101.8 175.7L106.4 175.7L111.1 175.7L115.7 175.7L120.4 175.7L125.1 175.7L129.7 175.7L132.7 175.7L134.4 173.3L135.8 171.4L139.0 167.0L139.0 167.0L142.4 162.7L143.7 161.0L146.2 158.4L148.3 156.4L151.1 154.0L153.0 152.7L157.2 149.7L157.6 149.4L162.3 146.2L163.5 145.4L166.9 143.1L170.4 141.0L171.6 140.4L176.3 138.0L179.1 136.7L180.9 136.0L185.6 134.2L190.2 132.6L190.7 132.4L194.9 130.0L198.2 128.0L199.5 127.3L204.2 124.8L206.1 123.7L208.8 122.3L213.5 119.8L213.5 119.4L213.5 115.0L213.5 110.7L213.5 106.4L213.5 102.0L213.5 97.7L213.5 93.4L213.5 89.0L213.5 84.7L213.5 80.4L213.5 76.1L213.5 71.7L213.5 67.4L213.5 63.1L213.5 58.7L213.5 54.4L213.5 50.1L213.5 45.7L213.5 41.4L213.5 37.1L213.5 32.7L213.5 28.4L213.5 24.1L213.5 19.7L213.5 15.4L213.5 11.1L213.5 6.7L213.5 2.4L208.8 2.4L204.2 2.4L199.5 2.4L194.9 2.4L190.2 2.4L185.6 2.4L180.9 2.4L176.3 2.4L171.6 2.4L166.9 2.4L162.3 2.4L157.6 2.4L153.0 2.4L148.3 2.4L143.7 2.4L139.0 2.4L134.4 2.4L129.7 2.4L125.1 2.4L120.4 2.4L115.7 2.4L111.1 2.4L106.4 2.4L101.8 2.4L97.1 2.4L92.5 2.4L87.8 2.4L83.2 2.4L78.5 2.4L73.8 2.4L69.2 2.4L64.5 2.4L59.9 2.4L55.2 2.4L50.6 2.4L45.9 2.4L41.3 2.4L36.6 2.4L32.0 2.4L27.3 2.4L27.3 6.7L27.3 11.1L27.3 15.4L27.3 19.7L27.3 24.1L27.3 28.4L27.3 32.7L27.3 37.1L27.3 41.4L27.3 45.7L27.3 50.1L27.3 54.4L27.3 58.7L27.3 63.1L27.3 67.4L27.3 71.7L27.3 76.1L27.3 80.4L27.3 84.7L27.3 89.0L27.3 93.4L27.3 97.7L27.3 102.0L27.3 106.4L27.3 110.7L27.3 115.0L27.3 119.4L27.3 123.7L27.3 128.0L27.3 132.4L27.3 136.7L27.3 141.0L27.3 145.4L27.3 149.7L27.3 154.0L27.3 158.4L27.3 162.7L27.3 167.0L27.3 171.4Z" fill="#48ffb7" stroke="#48ffb7" stroke-width="0.4"/>
<path d="M27.3 175.7L32.0 175.7L36.6 175.7L41.3 175.7L45.9 175.7L50.6 175.7L55.2 175.7L59.9 175.7L64.5 175.7L69.2 175.7L73.8 175.7L78.5 175.7L83.2 175.7L87.8 175.7L92.5 175.7L97.1 175.7L101.8 175.7L106.4 175.7L111.1 175.7L115.7 175.7L120.4 175.7L125.1 175.7L129.2 175.7L129.7 174.9L132.2 171.4L134.4 168.3L135.3 167.0L138.6 162.7L139.0 162.1L142.0 158.4L143.7 156.3L146.1 154.0L148.3 152.4L152.1 149.7L153.0 149.1L157.6 145.8L158.3 145.4L162.3 142.7L164.8 141.0L166.9 139.7L171.6 137.2L172.6 136.7L176.3 135.1L180.9 133.2L183.2 132.4L185.6 131.4L190.2 129.4L192.5 128.0L194.9 126.7L199.5 124.1L200.3 123.7L204.2 121.6L208.4 119.4L208.8 119.1L213.5 116.8L213.5 115.0L213.5 110.7L213.5 106.4L213.5 102.0L213.5 97.7L213.5 93.4L213.5 89.0L213.5 84.7L213.5 80.4L213.5 76.1L213.5 71.7L213.5 67.4L213.5 63.1L213.5 58.7L213.5 54.4L213.5 50.1L213.5 45.7L213.5 41.4L213.5 37.1L213.5 32.7L213.5 28.4L213.5 24.1L213.5 19.7L213.5 15.4L213.5 11.1L213.5 6.7L213.5 2.4L208.8 2.4L204.2 2.4L199.5 2.4L194.9 2.4L190.2 2.4L185.6 2.4L180.9 2.4L176.3 2.4L171.6 2.4L166.9 2.4L162.3 2.4L157.6 2.4L153.0 2.4L148.3 2.4L143.7 2.4L139.0 2.4L134.4 2.4L129.7 2.4L125.1 2.4L120.4 2.4L115.7 2.4L111.1 2.4L106.4 2.4L101.8 2.4L97.1 2.4L92.5 2.4L87.8 2.4L83.2 2.4L78.5 2.4L73.8 2.4L69.2 2.4L64.5 2.4L59.9 2.4L55.2 2.4L50.6 2.4L45.9 2.4L41.3 2.4L36.6 2.4L32.0 2.4L27.3 2.4L27.3 6.7L27.3 11.1L27.3 15.4L27.3 19.7L27.3 24.1L27.3 28.4L27.3 32.7L27.3 37.1L27.3 41.4L27.3 45.7L27.3 50.1L27.3 54.4L27.3 58.7L27.3 63.1L27.3 67.4L27.3 71.7L27.3 76.1L27.3 80.4L27.3 84.7L27.3 89.0L27.3 93.4L27.3 97.7L27.3 102.0L27.3 106.4L27.3 110.7L27.3 115.0L27.3 119.4L27.3 123.7L27.3 128.0L27.3 132.4L27.3 136.7L27.3 141.0L27.3 145.4L27.3 149.7L27.3 154.0L27.3 158.4L27.3 162.7L27.3 167.0L27.3 171.4Z" fill="#58ffa7" stroke="#58ffa7" stroke-width="0.4"/>
<path d="M27.3 175.7L32.0 175.7L36.6 175.7L41.3 175.7L45.9 175.7L50.6 175.7L55.2 175.7L59.9 175.7L64.5 175.7L69.2 175.7L73.8 175.7L78.5 175.7L83.2 175.7L87.8 175.7L92.5 175.7L97.1 175.7L101.8 175.7L106.4 175.7L111.1 175.7L115.7 175.7L120.4 175.7L125.1 175.7L125.6 175.7L128.6 171.4L129.7 169.7L131.6 167.0L134.4 163.3L134.8 162.7L138.2 158.4L139.0 157.3L141.6 154.0L143.7 152.1L147.0 149.7L148.3 148.7L153.0 145.5L153.1 145.4L157.6 142.3L159.5 141.0L162.3 139.2L166.2 136.7L166.9 136.2L171.6 134.0L175.6 132.4L176.3 132.1L180.9 130.1L185.6 128.1L185.6 128.0L190.2 126.0L194.4 123.7L194.9 123.4L199.5 120.9L202.4 119.4L204.2 118.4L208.8 116.0L210.8 115.0L213.5 113.7L213.5 110.7L213.5 106.4L213.5 102.0L213.5 97.7L213.5 93.4L213.5 89.0L213.5 84.7L213.5 80.4L213.5 76.1L213.5 71.7L213.5 67.4L213.5 63.1L213.5 58.7L213.5 54.4L213.5 50.1L213.5 45.7L213.5 41.4L213.5 37.1L213.5 32.7L213.5 28.4L213.5 24.1L213.5 19.7L213.5 15.4L213.5 11.1L213.5 6.7L213.5 2.4L208.8 2.4L204.2 2.4L199.5 2.4L194.9 2.4L190.2 2.4L185.6 2.4L180.9 2.4L176.3 2.4L171.6 2.4L166.9 2.4L162.3 2.4L157.6 2.4L153.0 2.4L148.3 2.4L143.7 2.4L139.0 2.4L134.4 2.4L129.7 2.4L125.1 2.4L120.4 2.4L115.7 2.4L111.1 2.4L106.4 2.4L101.8 2.4L97.1 2.4L92.5 2.4L87.8 2.4L83.2 2.4L78.5 2.4L73.8 2.4L69.2 2.4L64.5 2.4L59.9 2.4L55.2 2.4L50.6 2.4L45.9 2.4L41.3 2.4L36.6 2.4L32.0 2.4L27.3 2.4L27.3 6.7L27.3 11.1L27.3 15.4L27.3 19.7L27.3 24.1L27.3 28.4L27.3 32.7L27.3 37.1L27.3 41.4L27.3 45.7L27.3 50.1L27.3 54.4L27.3 58.7L27.3 63.1L27.3 67.4L27.3 71.7L27.3 76.1L27.3 80.4L27.3 84.7L27.3 89.0L27.3 93.4L27.3 97.7L27.3 102.0L27.3 106.4L27.3 110.7L27.3 115.0L27.3 119.4L27.3 123.7L27.3 128.0L27.3 132.4L27.3 136.7L27.3 141.0L27.3 145.4L27.3 149.7L27.3 154.0L27.3 158.4L27.3 162.7L27.3 167.0L27.3 171.4Z" fill="#68ff97" stroke="#68ff97" stroke-width="0.4"/>
<path d="M27.3 175.7L32.0 175.7L36.6 175.7L41.3 175.7L45.9 175.7L50.6 175.7L55.2 175.7L59.9 175.7L64.5 175.7L69.2 175.7L73.8 175.7L78.5 175.7L83.2 175.7L87.8 175.7L92.5 175.7L97.1 175.7L101.8 175.7L106.4 175.7L111.1 175.7L115.7 175.7L120.4 175.7L122.1 175.7L125.0 171.4L125.1 171.2L127.9 167.0L129.7 164.6L131.1 162.7L134.3 158.4L134.4 158.3L137.7 154.0L139.0 152.8L142.3 149.7L143.7 148.4L147.9 145.4L148.3 145.1L153.0 141.9L154.2 141.0L157.6 138.8L160.8 136.7L162.3 135.7L166.9 132.8L167.9 132.4L171.6 130.8L176.3 128.8L178.0 128.0L180.9 126.8L185.6 124.8L188.0 123.7L190.2 122.7L194.9 120.2L196.3 119.4L199.5 117.7L204.2 115.2L204.6 115.0L208.8 112.9L213.3 110.7L213.5 110.6L213.5 106.4L213.5 102.0L213.5 97.7L213.5 93.4L213.5 89.0L213.5 84.7L213.5 80.4L213.5 76.1L213.5 71.7L213.5 67.4L213.5 63.1L213.5 58.7L213.5 54.4L213.5 50.1L213.5 45.7L213.5 41.4L213.5 37.1L213.5 32.7L213.5 28.4L213.5 24.1L213.5 19.7L213.5 15.4L213.5 11.1L213.5 6.7L213.5 2.4L208.8 2.4L204.2 2.4L199.5 2.4L194.9 2.4L190.2 2.4L185.6 2.4L180.9 2.4L176.3 2.4L171.6 2.4L166.9 2.4L162.3 2.4L157.6 2.4L153.0 2.4L148.3 2.4L143.7 2.4L139.0 2.4L134.4 2.4L129.7 2.4L125.1 2.4L120.4 2.4L115.7 2.4L111.1 2.4L106.4 2.4L101.8 2.4L97.1 2.4L92.5 2.4L87.8 2.4L83.2 2.4L78.5 2.4L73.8 2.4L69.2 2.4L64.5 2.4L59.9 2.4L55.2 2.4L50.6 2.4L45.9 2.4L41.3 2.4L36.6 2.4L32.0 2.4L27.3 2.4L27.3 6.7L27.3 11.1L27.3 15.4L27.3 19.7L27.3 24.1L27.3 28.4L27.3 32.7L27.3 37.1L27.3 41.4L27.3 45.7L27.3 50.1L27.3 54.4L27.3 58.7L27.3 63.1L27.3 67.4L27.3 71.7L27.3 76.1L27.3 80.4L27.3 84.7L27.3 89.0L27.3 93.4L27.3 97.7L27.3 102.0L27.3 106.4L27.3 110.7L27.3 115.0L27.3 119.4L27.3 123.7L27.3 128.0L27.3 132.4L27.3 136.7L27.3 141.0L27.3 145.4L27.3 149.7L27.3 154.0L27.3 158.4L27.3 162.7L27.3 167.0L27.3 171.4Z" fill="#78ff87" stroke="#78ff87" stroke-width="0.4"/>
<path d="M27.3 175.7L32.0 175.7L36.6 175.7L41.3 175.7L45.9 175.7L50.6 175.7L55.2 175.7L59.9 175.7L64.5 175.7L69.2 175.7L73.8 175.7L78.5 175.7L83.2 175.7L87.8 175.7L92.5 175.7L97.1 175.7L101.8 175.7L106.4 175.7L111.1 175.7L115.7 175.7L118.5 175.7L120.4 172.8L121.3 171.4L124.3 167.0L125.1 165.9L127.3 162.7L129.7 159.4L130.5 158.4L133.8 154.0L134.4 153.5L138.3 149.7L139.0 149.1L142.9 145.4L143.7 144.7L148.3 141.4L148.9 141.0L153.0 138.3L155.4 136.7L157.6 135.2L162.1 132.4L162.3 132.3L166.9 129.5L170.4 128.0L171.6 127.5L176.3 125.5L180.4 123.7L180.9 123.5L185.6 121.5L190.2 119.4L190.3 119.4L194.9 116.9L198.4 115.0L199.5 114.4L204.2 112.1L206.9 110.7L208.8 109.6L213.5 107.0L213.5 106.4L213.5 102.0L213.5 97.7L213.5 93.4L213.5 89.0L213.5 84.7L213.5 80.4L213.5 76.1L213.5 71.7L213.5 67.4L213.5 63.1L213.5 58.7L213.5 54.4L213.5 50.1L213.5 45.7L213.5 41.4L213.5 37.1L213.5 32.7L213.5 28.4L213.5 24.1L213.5 19.7L213.5 15.4L213.5 11.1L213.5 6.7L213.5 2.4L208.8 2.4L204.2 2.4L199.5 2.4L194.9 2.4L190.2 2.4L185.6 2.4L180.9 2.4L176.3 2.4L171.6 2.4L166.9 2.4L162.3 2.4L157.6 2.4L153.0 2.4L148.3 2.4L143.7 2.4L139.0 2.4L134.4 2.4L129.7 2.4L125.1 2.4L120.4 2.4L115.7 2.4L111.1 2.4L106.4 2.4L101.8 2.4L97.1 2.4L92.5 2.4L87.8 2.4L83.2 2.4L78.5 2.4L73.8 2.4L69.2 2.4L64.5 2.4L59.9 2.4L55.2 2.4L50.6 2.4L45.9 2.4L41.3 2.4L36.6 2.4L32.0 2.4L27.3 2.4L27.3 6.7L27.3 11.1L27.3 15.4L27.3 19.7L27.3 24.1L27.3 28.4L27.3 32.7L27.3 37.1L27.3 41.4L27.3 45.7L27.3 50.1L27.3 54.4L27.3 58.7L27.3 63.1L27.3 67.4L27.3 71.7L27.3 76.1L27.3 80.4L27.3 84.7L27.3 89.0L27.3 93.4L27.3 97.7L27.3 102.0L27.3 106.4L27.3 110.7L27.3 115.0L27.3 119.4L27.3 123.7L27.3 128.0L27.3 132.4L27.3 136.7L27.3 141.0L27.3 145.4L27.3 149.7L27.3 154.0L27.3 158.4L27.3 162.7L27.3 167.0L27.3 171.4Z" fill="#87ff78" stroke="#87ff78" stroke-width="0.4"/>
<path d="M27.3 175.7L32.0 175.7L36.6 175.7L41.3 175.7L45.9 175.7L50.6 175.7L55.2 175.7L59.9 175.7L64.5 175.7L69.2 175.7L73.8 175.7L78.5 175.7L83.2 175.7L87.8 175.7L92.5 175.7L97.1 175.7L101.8 175.7L106.4 175.7L111.1 175.7L114.9 175.7L115.7 174.5L117.8 171.4L120.4 167.3L120.6 167.0L123.5 162.7L125.1 160.6L126.6 158.4L129.7 154.2L129.9 154.0L134.4 149.7L134.4 149.7L139.0 145.4L139.0 145.3L143.6 141.0L143.7 141.0L148.3 137.8L149.9 136.7L153.0 134.7L156.5 132.4L157.6 131.7L162.3 129.0L163.9 128.0L166.9 126.2L171.6 124.2L172.8 123.7L176.3 122.2L180.9 120.2L182.8 119.4L185.6 118.2L190.2 116.1L192.2 115.0L194.9 113.6L199.5 111.2L200.5 110.7L204.2 108.6L208.1 106.4L208.8 106.0L213.5 103.4L213.5 102.0L213.5 97.7L213.5 93.4L213.5 89.0L213.5 84.7L213.5 80.4L213.5 76.1L213.5 71.7L213.5 67.4L213.5 63.1L213.5 58.7L213.5 54.4L213.5 50.1L213.5 45.7L213.5 41.4L213.5 37.1L213.5 32.7L213.5 28.4L213.5 24.1L213.5 19.7L213.5 15.4L213.5 11.1L213.5 6.7L213.5 2.4L208.8 2.4L204.2 2.4L199.5 2.4L194.9 2.4L190.2 2.4L185.6 2.4L180.9 2.4L176.3 2.4L171.6 2.4L166.9 2.4L162.3 2.4L157.6 2.4L153.0 2.4L148.3 2.4L143.7 2.4L139.0 2.4L134.4 2.4L129.7 2.4L125.1 2.4L120.4 2.4L115.7 2.4L111.1 2.4L106.4 2.4L101.8 2.4L97.1 2.4L92.5 2.4L87.8 2.4L83.2 2.4L78.5 2.4L73.8 2.4L69.2 2.4L64.5 2.4L59.9 2.4L55.2 2.4L50.6 2.4L45.9 2.4L41.3 2.4L36.6 2.4L32.0 2.4L27.3 2.4L27.3 6.7L27.3 11.1L27.3 15.4L27.3 19.7L27.3 24.1L27.3 28.4L27.3 32.7L27.3 37.1L27.3 41.4L27.3 45.7L27.3 50.1L27.3 54.4L27.3 58.7L27.3 63.1L27.3 67.4L27.3 71.7L27.3 76.1L27.3 80.4L27.3 84.7L27.3 89.0L27.3 93.4L27.3 97.7L27.3 102.0L27.3 106.4L27.3 110.7L27.3 115.0L27.3 119.4L27.3 123.7L27.3 128.0L27.3 132.4L27.3 136.7L27.3 141.0L27.3 145.4L27.3 149.7L27.3 154.0L27.3 158.4L27.3 162.7L27.3 167.0L27.3 171.4Z" fill="#97ff68" stroke="#97ff68" stroke-width="0.4"/>
<path d="M27.3 175.7L32.0 175.7L36.6 175.7L41.3 175.7L45.9 175.7L50.6 175.7L55.2 175.7L59.9 175.7L64.5 175.7L69.2 175.7L73.8 175.7L78.5 175.7L83.2 175.7L87.8 175.7L92.5 175.7L97.1 175.7L101.8 175.7L106.4 175.7L111.1 175.7L111.4 175.7L114.3 171.4L115.7 169.1L117.1 167.0L119.8 162.7L120.4 161.8L122.8 158.4L125.1 155.2L125.9 154.0L129.7 150.4L130.4 149.7L134.4 145.9L135.0 145.4L139.0 141.6L139.6 141.0L143.7 137.3L144.5 136.7L148.3 134.1L151.0 132.4L153.0 131.2L157.6 128.5L158.4 128.0L162.3 125.7L165.7 123.7L166.9 123.0L171.6 121.0L175.2 119.4L176.3 118.9L180.9 116.9L185.1 115.0L185.6 114.8L190.2 112.8L194.2 110.7L194.9 110.3L199.5 107.6L201.6 106.4L204.2 104.9L208.8 102.4L209.4 102.0L213.5 99.9L213.5 97.7L213.5 93.4L213.5 89.0L213.5 84.7L213.5 80.4L213.5 76.1L213.5 71.7L213.5 67.4L213.5 63.1L213.5 58.7L213.5 54.4L213.5 50.1L213.5 45.7L213.5 41.4L213.5 37.1L213.5 32.7L213.5 28.4L213.5 24.1L213.5 19.7L213.5 15.4L213.5 11.1L213.5 6.7L213.5 2.4L208.8 2.4L204.2 2.4L199.5 2.4L194.9 2.4L190.2 2.4L185.6 2.4L180.9 2.4L176.3 2.4L171.6 2.4L166.9 2.4L162.3 2.4L157.6 2.4L153.0 2.4L148.3 2.4L143.7 2.4L139.0 2.4L134.4 2.4L129.7 2.4L125.1 2.4L120.4 2.4L115.7 2.4L111.1 2.4L106.4 2.4L101.8 2.4L97.1 2.4L92.5 2.4L87.8 2.4L83.2 2.4L78.5 2.4L73.8 2.4L69.2 2.4L64.5 2.4L59.9 2.4L55.2 2.4L50.6 2.4L45.9 2.4L41.3 2.4L36.6 2.4L32.0 2.4L27.3 2.4L27.3 6.7L27.3 11.1L27.3 15.4L27.3 19.7L27.3 24.1L27.3 28.4L27.3 32.7L27.3 37.1L27.3 41.4L27.3 45.7L27.3 50.1L27.3 54.4L27.3 58.7L27.3 63.1L27.3 67.4L27.3 71.7L27.3 76.1L27.3 80.4L27.3 84.7L27.3 89.0L27.3 93.4L27.3 97.7L27.3 102.0L27.3 106.4L27.3 110.7L27.3 115.0L27.3 119.4L27.3 123.7L27.3 128.0L27.3 132.4L27.3 136.7L27.3 141.0L27.3 145.4L27.3 149.7L27.3 154.0L27.3 158.4L27.3 162.7L27.3 167.0L27.3 171.4Z" fill="#a7ff58" stroke="#a7ff58" stroke-width="0.4"/>
<path d="M27.3 175.7L32.0 175.7L36.6 175.7L41.3 175.7L45.9 175.7L50.6 175.7L55.2 175.7L59.9 175.7L64.5 175.7L69.2 175.7L73.8 175.7L78.5 175.7L83.2 175.7L87.8 175.7L92.5 175.7L97.1 175.7L101.8 175.7L106.4 175.7L107.8 175.7L110.7 171.4L111.1 170.8L113.6 167.0L115.7 163.7L116.4 162.7L119.1 158.4L120.4 156.3L122.0 154.0L125.1 151.1L126.5 149.7L129.7 146.6L131.0 145.4L134.4 142.2L135.6 141.0L139.0 137.8L140.2 136.7L143.7 133.6L145.4 132.4L148.3 130.7L152.8 128.0L153.0 127.9L157.6 125.2L160.2 123.7L162.3 122.5L166.9 119.7L167.7 119.4L171.6 117.7L176.3 115.6L177.6 115.0L180.9 113.6L185.6 111.5L187.4 110.7L190.2 109.3L194.9 106.5L195.1 106.4L199.5 103.9L202.8 102.0L204.2 101.3L208.8 98.7L210.8 97.7L213.5 96.3L213.5 93.4L213.5 89.0L213.5 84.7L213.5 80.4L213.5 76.1L213.5 71.7L213.5 67.4L213.5 63.1L213.5 58.7L213.5 54.4L213.5 50.1L213.5 45.7L213.5 41.4L213.5 37.1L213.5 32.7L213.5 28.4L213.5 24.1L213.5 19.7L213.5 15.4L213.5 11.1L213.5 6.7L213.5 2.4L208.8 2.4L204.2 2.4L199.5 2.4L194.9 2.4L190.2 2.4L185.6 2.4L180.9 2.4L176.3 2.4L171.6 2.4L166.9 2.4L162.3 2.4L157.6 2.4L153.0 2.4L148.3 2.4L143.7 2.4L139.0 2.4L134.4 2.4L129.7 2.4L125.1 2.4L120.4 2.4L115.7 2.4L111.1 2.4L106.4 2.4L101.8 2.4L97.1 2.4L92.5 2.4L87.8 2.4L83.2 2.4L78.5 2.4L73.8 2.4L69.2 2.4L64.5 2.4L59.9 2.4L55.2 2.4L50.6 2.4L45.9 2.4L41.3 2.4L36.6 2.4L32.0 2.4L27.3 2.4L27.3 6.7L27.3 11.1L27.3 15.4L27.3 19.7L27.3 24.1L27.3 28.4L27.3 32.7L27.3 37.1L27.3 41.4L27.3 45.7L27.3 50.1L27.3 54.4L27.3 58.7L27.3 63.1L27.3 67.4L27.3 71.7L27.3 76.1L27.3 80.4L27.3 84.7L27.3 89.0L27.3 93.4L27.3 97.7L27.3 102.0L27.3 106.4L27.3 110.7L27.3 115.0L27.3 119.4L27.3 123.7L27.3 128.0L27.3 132.4L27.3 136.7L27.3 141.0L27.3 145.4L27.3 149.7L27.3 154.0L27.3 158.4L27.3 162.7L27.3 167.0L27.3 171.4Z" fill="#b7ff48" stroke="#b7ff48" stroke-width="0.4"/>
<path d="M27.3 175.7L32.0 175.7L36.6 175.7L41.3 175.7L45.9 175.7L50.6 175.7L55.2 175.7L59.9 175.7L64.5 175.7L69.2 175.7L73.8 175.7L78.5 175.7L83.2 175.7L87.8 175.7L92.5 175.7L97.1 175.7L101.8 175.7L104.2 175.7L106.4 172.5L107.2 171.4L110.1 167.0L111.1 165.5L112.9 162.7L115.7 158.4L115.7 158.3L118.4 154.0L120.4 151.8L122.5 149.7L125.1 147.2L127.0 145.4L129.7 142.8L131.5 141.0L134.4 138.4L136.2 136.7L139.0 134.1L140.9 132.4L143.7 130.2L147.3 128.0L148.3 127.4L153.0 124.7L154.6 123.7L157.6 121.9L162.0 119.4L162.3 119.2L166.9 116.4L170.2 115.0L171.6 114.4L176.3 112.4L180.0 110.7L180.9 110.2L185.6 107.9L188.4 106.4L190.2 105.5L194.9 102.8L196.1 102.0L199.5 100.1L204.0 97.7L204.2 97.6L208.8 95.1L212.2 93.4L213.5 92.7L213.5 89.0L213.5 84.7L213.5 80.4L213.5 76.1L213.5 71.7L213.5 67.4L213.5 63.1L213.5 58.7L213.5 54.4L213.5 50.1L213.5 45.7L213.5 41.4L213.5 37.1L213.5 32.7L213.5 28.4L213.5 24.1L213.5 19.7L213.5 15.4L213.5 11.1L213.5 6.7L213.5 2.4L208.8 2.4L204.2 2.4L199.5 2.4L194.9 2.4L190.2 2.4L185.6 2.4L180.9 2.4L176.3 2.4L171.6 2.4L166.9 2.4L162.3 2.4L157.6 2.4L153.0 2.4L148.3 2.4L143.7 2.4L139.0 2.4L134.4 2.4L129.7 2.4L125.1 2.4L120.4 2.4L115.7 2.4L111.1 2.4L106.4 2.4L101.8 2.4L97.1 2.4L92.5 2.4L87.8 2.4L83.2 2.4L78.5 2.4L73.8 2.4L69.2 2.4L64.5 2.4L59.9 2.4L55.2 2.4L50.6 2.4L45.9 2.4L41.3 2.4L36.6 2.4L32.0 2.4L27.3 2.4L27.3 6.7L27.3 11.1L27.3 15.4L27.3 19.7L27.3 24.1L27.3 28.4L27.3 32.7L27.3 37.1L27.3 41.4L27.3 45.7L27.3 50.1L27.3 54.4L27.3 58.7L27.3 63.1L27.3 67.4L27.3 71.7L27.3 76.1L27.3 80.4L27.3 84.7L27.3 89.0L27.3 93.4L27.3 97.7L27.3 102.0L27.3 106.4L27.3 110.7L27.3 115.0L27.3 119.4L27.3 123.7L27.3 128.0L27.3 132.4L27.3 136.7L27.3 141.0L27.3 145.4L27.3 149.7L27.3 154.0L27.3 158.4L27.3 162.7L27.3 167.0L27.3 171.4Z" fill="#c7ff38" stroke="#c7ff38" stroke-width="0.4"/>
<path d="M27.3 175.7L32.0 175.7L36.6 175.7L41.3 175.7L45.9 175.7L50.6 175.7L55.2 175.7L59.9 175.7L64.5 175.7L69.2 175.7L73.8 175.7L78.5 175.7L83.2 175.7L87.8 175.7L92.5 175.7L97.1 175.7L100.6 175.7L101.8 174.1L103.6 171.4L106.4 167.2L106.6 167.0L109.4 162.7L111.1 160.2L112.3 158.4L115.0 154.0L115.7 153.2L118.8 149.7L120.4 147.9L123.0 145.4L125.1 143.4L127.5 141.0L129.7 139.0L132.1 136.7L134.4 134.6L136.8 132.4L139.0 130.6L142.2 128.0L143.7 126.9L148.3 124.2L149.1 123.7L153.0 121.4L156.5 119.4L157.6 118.7L162.3 115.9L163.8 115.0L166.9 113.2L171.6 111.1L172.6 110.7L176.3 108.8L180.9 106.5L181.1 106.4L185.6 104.1L189.4 102.0L190.2 101.6L194.9 99.0L197.2 97.7L199.5 96.4L204.2 93.9L205.2 93.4L208.8 91.5L213.5 89.1L213.5 89.0L213.5 84.7L213.5 80.4L213.5 76.1L213.5 71.7L213.5 67.4L213.5 63.1L213.5 58.7L213.5 54.4L213.5 50.1L213.5 45.7L213.5 41.4L213.5 37.1L213.5 32.7L213.5 28.4L213.5 24.1L213.5 19.7L213.5 15.4L213.5 11.1L213.5 6.7L213.5 2.4L208.8 2.4L204.2 2.4L199.5 2.4L194.9 2.4L190.2 2.4L185.6 2.4L180.9 2.4L176.3 2.4L171.6 2.4L166.9 2.4L162.3 2.4L157.6 2.4L153.0 2.4L148.3 2.4L143.7 2.4L139.0 2.4L134.4 2.4L129.7 2.4L125.1 2.4L120.4 2.4L115.7 2.4L111.1 2.4L106.4 2.4L101.8 2.4L97.1 2.4L92.5 2.4L87.8 2.4L83.2 2.4L78.5 2.4L73.8 2.4L69.2 2.4L64.5 2.4L59.9 2.4L55.2 2.4L50.6 2.4L45.9 2.4L41.3 2.4L36.6 2.4L32.0 2.4L27.3 2.4L27.3 6.7L27.3 11.1L27.3 15.4L27.3 19.7L27.3 24.1L27.3 28.4L27.3 32.7L27.3 37.1L27.3 41.4L27.3 45.7L27.3 50.1L27.3 54.4L27.3 58.7L27.3 63.1L27.3 67.4L27.3 71.7L27.3 76.1L27.3 80.4L27.3 84.7L27.3 89.0L27.3 93.4L27.3 97.7L27.3 102.0L27.3 106.4L27.3 110.7L27.3 115.0L27.3 119.4L27.3 123.7L27.3 128.0L27.3 132.4L27.3 136.7L27.3 141.0L27.3 145.4L27.3 149.7L27.3 154.0L27.3 158.4L27.3 162.7L27.3 167.0L27.3 171.4Z" fill="#d7ff28" stroke="#d7ff28" stroke-width="0.4"/>
<path d="M27.3 175.7L32.0 175.7L36.6 175.7L41.3 175.7L45.9 175.7L50.6 175.7L55.2 175.7L59.9 175.7L64.5 175.7L69.2 175.7L73.8 175.7L78.5 175.7L83.2 175.7L87.8 175.7L92.5 175.7L97.1 175.7L97.1 175.6L100.1 171.4L101.8 168.9L103.1 167.0L106.0 162.7L106.4 162.0L108.8 158.4L111.1 154.9L111.6 154.0L115.4 149.7L115.7 149.3L119.2 145.4L120.4 144.0L123.5 141.0L125.1 139.5L128.0 136.7L129.7 135.2L132.7 132.4L134.4 131.0L138.1 128.0L139.0 127.3L143.6 123.7L143.7 123.7L148.3 120.9L150.9 119.4L153.0 118.2L157.6 115.4L158.3 115.0L162.3 112.7L165.6 110.7L166.9 109.8L171.6 107.4L173.7 106.4L176.3 105.1L180.9 102.7L182.1 102.0L185.6 100.3L190.2 97.8L190.4 97.7L194.9 95.2L198.3 93.4L199.5 92.7L204.2 90.3L206.5 89.1L208.8 87.3L212.4 84.7L213.5 84.0L213.5 80.4L213.5 76.1L213.5 71.7L213.5 67.4L213.5 63.1L213.5 58.7L213.5 54.4L213.5 50.1L213.5 45.7L213.5 41.4L213.5 37.1L213.5 32.7L213.5 28.4L213.5 24.1L213.5 19.7L213.5 15.4L213.5 11.1L213.5 6.7L213.5 2.4L208.8 2.4L204.2 2.4L199.5 2.4L194.9 2.4L190.2 2.4L185.6 2.4L180.9 2.4L176.3 2.4L171.6 2.4L166.9 2.4L162.3 2.4L157.6 2.4L153.0 2.4L148.3 2.4L143.7 2.4L139.0 2.4L134.4 2.4L129.7 2.4L125.1 2.4L120.4 2.4L115.7 2.4L111.1 2.4L106.4 2.4L101.8 2.4L97.1 2.4L92.5 2.4L87.8 2.4L83.2 2.4L78.5 2.4L73.8 2.4L69.2 2.4L64.5 2.4L59.9 2.4L55.2 2.4L50.6 2.4L45.9 2.4L41.3 2.4L36.6 2.4L32.0 2.4L27.3 2.4L27.3 6.7L27.3 11.1L27.3 15.4L27.3 19.7L27.3 24.1L27.3 28.4L27.3 32.7L27.3 37.1L27.3 41.4L27.3 45.7L27.3 50.1L27.3 54.4L27.3 58.7L27.3 63.1L27.3 67.4L27.3 71.7L27.3 76.1L27.3 80.4L27.3 84.7L27.3 89.0L27.3 93.4L27.3 97.7L27.3 102.0L27.3 106.4L27.3 110.7L27.3 115.0L27.3 119.4L27.3 123.7L27.3 128.0L27.3 132.4L27.3 136.7L27.3 141.0L27.3 145.4L27.3 149.7L27.3 154.0L27.3 158.4L27.3 162.7L27.3 167.0L27.3 171.4Z" fill="#e7ff18" stroke="#e7ff18" stroke-width="0.4"/>
<path d="M27.3 175.7L32.0 175.7L36.6 175.7L41.3 175.7L45.9 175.7L50.6 175.7L55.2 175.7L59.9 175.7L64.5 175.7L69.2 175.7L73.8 175.7L78.5 175.7L83.2 175.7L87.8 175.7L92.5 175.7L93.2 175.7L96.5 171.4L97.1 170.6L99.6 167.0L101.8 163.8L102.5 162.7L105.4 158.4L106.4 156.8L108.2 154.0L111.1 150.8L112.0 149.7L115.7 145.4L115.8 145.4L119.6 141.0L120.4 140.1L124.0 136.7L125.1 135.7L128.6 132.4L129.7 131.5L133.9 128.0L134.4 127.7L139.0 124.0L139.4 123.7L143.7 120.4L145.4 119.4L148.3 117.7L152.8 115.0L153.0 114.9L157.6 112.2L160.1 110.7L162.3 109.2L166.5 106.4L166.9 106.1L171.6 103.7L174.8 102.0L176.3 101.3L180.9 98.9L183.2 97.7L185.6 96.4L190.2 94.0L191.3 93.4L194.9 91.4L199.4 89.0L199.5 89.0L204.2 85.4L205.2 84.7L208.8 82.0L211.2 80.4L213.5 78.7L213.5 76.1L213.5 71.7L213.5 67.4L213.5 63.1L213.5 58.7L213.5 54.4L213.5 50.1L213.5 45.7L213.5 41.4L213.5 37.1L213.5 32.7L213.5 28.4L213.5 24.1L213.5 19.7L213.5 15.4L213.5 11.1L213.5 6.7L213.5 2.4L208.8 2.4L204.2 2.4L199.5 2.4L194.9 2.4L190.2 2.4L185.6 2.4L180.9 2.4L176.3 2.4L171.6 2.4L166.9 2.4L162.3 2.4L157.6 2.4L153.0 2.4L148.3 2.4L143.7 2.4L139.0 2.4L134.4 2.4L129.7 2.4L125.1 2.4L120.4 2.4L115.7 2.4L111.1 2.4L106.4 2.4L101.8 2.4L97.1 2.4L92.5 2.4L87.8 2.4L83.2 2.4L78.5 2.4L73.8 2.4L69.2 2.4L64.5 2.4L59.9 2.4L55.2 2.4L50.6 2.4L45.9 2.4L41.3 2.4L36.6 2.4L32.0 2.4L27.3 2.4L27.3 6.7L27.3 11.1L27.3 15.4L27.3 19.7L27.3 24.1L27.3 28.4L27.3 32.7L27.3 37.1L27.3 41.4L27.3 45.7L27.3 50.1L27.3 54.4L27.3 58.7L27.3 63.1L27.3 67.4L27.3 71.7L27.3 76.1L27.3 80.4L27.3 84.7L27.3 89.0L27.3 93.4L27.3 97.7L27.3 102.0L27.3 106.4L27.3 110.7L27.3 115.0L27.3 119.4L27.3 123.7L27.3 128.0L27.3 132.4L27.3 136.7L27.3 141.0L27.3 145.4L27.3 149.7L27.3 154.0L27.3 158.4L27.3 162.7L27.3 167.0L27.3 171.4Z" fill="#f7ff08" stroke="#f7ff08" stroke-width="0.4"/>
<path d="M27.3 175.7L32.0 175.7L36.6 175.7L41.3 175.7L45.9 175.7L50.6 175.7L55.2 175.7L59.9 175.7L64.5 175.7L69.2 175.7L73.8 175.7L78.5 175.7L83.2 175.7L87.8 175.7L89.4 175.7L92.5 171.7L92.7 171.4L96.0 167.0L97.1 165.5L99.1 162.7L101.8 158.7L102.0 158.4L104.8 154.0L106.4 152.2L108.6 149.7L111.1 146.9L112.4 145.4L115.7 141.6L116.2 141.0L120.0 136.7L120.4 136.3L124.5 132.4L125.1 131.9L129.7 128.1L129.8 128.0L134.4 124.4L135.2 123.7L139.0 120.7L140.7 119.4L143.7 117.1L147.2 115.0L148.3 114.4L153.0 111.6L154.6 110.7L157.6 108.5L160.7 106.4L162.3 105.3L166.9 102.3L167.5 102.0L171.6 100.0L175.9 97.7L176.3 97.5L180.9 95.1L184.2 93.4L185.6 92.6L190.2 90.2L192.3 89.0L194.9 87.0L197.9 84.7L199.5 83.5L203.7 80.4L204.2 80.0L208.8 76.7L209.8 76.1L213.5 73.5L213.5 71.7L213.5 67.4L213.5 63.1L213.5 58.7L213.5 54.4L213.5 50.1L213.5 45.7L213.5 41.4L213.5 37.1L213.5 32.7L213.5 28.4L213.5 24.1L213.5 19.7L213.5 15.4L213.5 11.1L213.5 6.7L213.5 2.4L208.8 2.4L204.2 2.4L199.5 2.4L194.9 2.4L190.2 2.4L185.6 2.4L180.9 2.4L176.3 2.4L171.6 2.4L166.9 2.4L162.3 2.4L157.6 2.4L153.0 2.4L148.3 2.4L143.7 2.4L139.0 2.4L134.4 2.4L129.7 2.4L125.1 2.4L120.4 2.4L115.7 2.4L111.1 2.4L106.4 2.4L101.8 2.4L97.1 2.4L92.5 2.4L87.8 2.4L83.2 2.4L78.5 2.4L73.8 2.4L69.2 2.4L64.5 2.4L59.9 2.4L55.2 2.4L50.6 2.4L45.9 2.4L41.3 2.4L36.6 2.4L32.0 2.4L27.3 2.4L27.3 6.7L27.3 11.1L27.3 15.4L27.3 19.7L27.3 24.1L27.3 28.4L27.3 32.7L27.3 37.1L27.3 41.4L27.3 45.7L27.3 50.1L27.3 54.4L27.3 58.7L27.3 63.1L27.3 67.4L27.3 71.7L27.3 76.1L27.3 80.4L27.3 84.7L27.3 89.0L27.3 93.4L27.3 97.7L27.3 102.0L27.3 106.4L27.3 110.7L27.3 115.0L27.3 119.4L27.3 123.7L27.3 128.0L27.3 132.4L27.3 136.7L27.3 141.0L27.3 145.4L27.3 149.7L27.3 154.0L27.3 158.4L27.3 162.7L27.3 167.0L27.3 171.4Z" fill="#fff700" stroke="#fff700" stroke-width="0.4"/>
<path d="M27.3 175.7L32.0 175.7L36.6 175.7L41.3 175.7L45.9 175.7L50.6 175.7L55.2 175.7L59.9 175.7L64.5 175.7L69.2 175.7L73.8 175.7L78.5 175.7L83.2 175.7L85.6 175.7L87.8 172.8L88.9 171.4L92.2 167.0L92.5 166.7L95.5 162.7L97.1 160.5L98.6 158.4L101.5 154.0L101.8 153.7L105.2 149.7L106.4 148.3L109.0 145.4L111.1 143.0L112.8 141.0L115.7 137.7L116.6 136.7L120.4 132.4L120.4 132.4L125.1 128.5L125.6 128.0L129.7 124.7L131.0 123.7L134.4 121.0L136.5 119.4L139.0 117.4L142.1 115.0L143.7 113.9L148.3 111.1L149.1 110.7L153.0 107.8L154.9 106.4L157.6 104.5L161.4 102.0L162.3 101.5L166.9 98.6L168.7 97.7L171.6 96.2L176.3 93.8L177.0 93.4L180.9 91.3L185.2 89.0L185.6 88.7L190.2 85.0L190.6 84.7L194.9 81.4L196.2 80.4L199.5 78.0L202.2 76.1L204.2 74.6L208.4 71.7L208.8 71.4L213.5 68.3L213.5 67.4L213.5 63.1L213.5 58.7L213.5 54.4L213.5 50.1L213.5 45.7L213.5 41.4L213.5 37.1L213.5 32.7L213.5 28.4L213.5 24.1L213.5 19.7L213.5 15.4L213.5 11.1L213.5 6.7L213.5 2.4L208.8 2.4L204.2 2.4L199.5 2.4L194.9 2.4L190.2 2.4L185.6 2.4L180.9 2.4L176.3 2.4L171.6 2.4L166.9 2.4L162.3 2.4L157.6 2.4L153.0 2.4L148.3 2.4L143.7 2.4L139.0 2.4L134.4 2.4L129.7 2.4L125.1 2.4L120.4 2.4L115.7 2.4L111.1 2.4L106.4 2.4L101.8 2.4L97.1 2.4L92.5 2.4L87.8 2.4L83.2 2.4L78.5 2.4L73.8 2.4L69.2 2.4L64.5 2.4L59.9 2.4L55.2 2.4L50.6 2.4L45.9 2.4L41.3 2.4L36.6 2.4L32.0 2.4L27.3 2.4L27.3 6.7L27.3 11.1L27.3 15.4L27.3 19.7L27.3 24.1L27.3 28.4L27.3 32.7L27.3 37.1L27.3 41.4L27.3 45.7L27.3 50.1L27.3 54.4L27.3 58.7L27.3 63.1L27.3 67.4L27.3 71.7L27.3 76.1L27.3 80.4L27.3 84.7L27.3 89.0L27.3 93.4L27.3 97.7L27.3 102.0L27.3 106.4L27.3 110.7L27.3 115.0L27.3 119.4L27.3 123.7L27.3 128.0L27.3 132.4L27.3 136.7L27.3 141.0L27.3 145.4L27.3 149.7L27.3 154.0L27.3 158.4L27.3 162.7L27.3 167.0L27.3 171.4Z" fill="#ffe700" stroke="#ffe700" stroke-width="0.4"/>
<path d="M27.3 175.7L32.0 175.7L36.6 175.7L41.3 175.7L45.9 175.7L50.6 175.7L55.2 175.7L59.9 175.7L64.5 175.7L69.2 175.7L73.8 175.7L78.5 175.7L81.8 175.7L83.2 173.9L85.1 171.4L87.8 167.8L88.4 167.0L91.7 162.7L92.5 161.6L94.9 158.4L97.1 155.4L98.1 154.0L101.8 149.8L101.8 149.7L105.6 145.4L106.4 144.4L109.4 141.0L111.1 139.1L113.2 136.7L115.7 133.8L117.0 132.4L120.4 128.9L121.5 128.0L125.1 125.1L126.8 123.7L129.7 121.4L132.2 119.4L134.4 117.7L137.8 115.0L139.0 114.1L143.6 110.7L143.7 110.6L148.3 107.0L149.2 106.4L153.0 103.7L155.4 102.0L157.6 100.6L162.2 97.7L162.3 97.6L166.9 94.9L169.9 93.4L171.6 92.5L176.3 90.0L178.1 89.0L180.9 86.7L183.3 84.7L185.6 82.9L188.8 80.4L190.2 79.3L194.6 76.1L194.9 75.8L199.5 72.5L200.6 71.7L204.2 69.2L206.9 67.4L208.8 65.8L212.5 63.1L213.5 62.3L213.5 58.7L213.5 54.4L213.5 50.1L213.5 45.7L213.5 41.4L213.5 37.1L213.5 32.7L213.5 28.4L213.5 24.1L213.5 19.7L213.5 15.4L213.5 11.1L213.5 6.7L213.5 2.4L208.8 2.4L204.2 2.4L199.5 2.4L194.9 2.4L190.2 2.4L185.6 2.4L180.9 2.4L176.3 2.4L171.6 2.4L166.9 2.4L162.3 2.4L157.6 2.4L153.0 2.4L148.3 2.4L143.7 2.4L139.0 2.4L134.4 2.4L129.7 2.4L125.1 2.4L120.4 2.4L115.7 2.4L111.1 2.4L106.4 2.4L101.8 2.4L97.1 2.4L92.5 2.4L87.8 2.4L83.2 2.4L78.5 2.4L73.8 2.4L69.2 2.4L64.5 2.4L59.9 2.4L55.2 2.4L50.6 2.4L45.9 2.4L41.3 2.4L36.6 2.4L32.0 2.4L27.3 2.4L27.3 6.7L27.3 11.1L27.3 15.4L27.3 19.7L27.3 24.1L27.3 28.4L27.3 32.7L27.3 37.1L27.3 41.4L27.3 45.7L27.3 50.1L27.3 54.4L27.3 58.7L27.3 63.1L27.3 67.4L27.3 71.7L27.3 76.1L27.3 80.4L27.3 84.7L27.3 89.0L27.3 93.4L27.3 97.7L27.3 102.0L27.3 106.4L27.3 110.7L27.3 115.0L27.3 119.4L27.3 123.7L27.3 128.0L27.3 132.4L27.3 136.7L27.3 141.0L27.3 145.4L27.3 149.7L27.3 154.0L27.3 158.4L27.3 162.7L27.3 167.0L27.3 171.4Z" fill="#ffd700" stroke="#ffd700" stroke-width="0.4"/>
<path d="M27.3 175.7L32.0 175.7L36.6 175.7L41.3 175.7L45.9 175.7L50.6 175.7L55.2 175.7L59.9 175.7L64.5 175.7L69.2 175.7L73.8 175.7L78.0 175.7L78.5 175.0L81.3 171.4L83.2 168.9L84.6 167.0L87.8 162.8L87.9 162.7L91.2 158.4L92.5 156.6L94.4 154.0L97.1 151.2L98.5 149.7L101.8 145.9L102.2 145.4L106.0 141.0L106.4 140.6L109.8 136.7L111.1 135.2L113.6 132.4L115.7 130.0L117.7 128.0L120.4 125.5L122.6 123.7L125.1 121.7L128.0 119.4L129.7 118.0L133.5 115.0L134.4 114.4L139.0 110.8L139.2 110.7L143.5 106.4L143.7 106.2L148.3 102.8L149.3 102.0L153.0 99.6L155.8 97.7L157.6 96.6L162.3 93.8L163.0 93.4L166.9 91.2L171.0 89.0L171.6 88.5L176.1 84.7L176.3 84.5L180.9 80.7L181.4 80.4L185.6 77.1L186.9 76.1L190.2 73.6L192.8 71.7L194.9 70.2L198.9 67.4L199.5 66.9L204.2 63.1L204.2 63.0L208.8 59.5L209.9 58.7L213.5 56.1L213.5 54.4L213.5 50.1L213.5 45.7L213.5 41.4L213.5 37.1L213.5 32.7L213.5 28.4L213.5 24.1L213.5 19.7L213.5 15.4L213.5 11.1L213.5 6.7L213.5 2.4L208.8 2.4L204.2 2.4L199.5 2.4L194.9 2.4L190.2 2.4L185.6 2.4L180.9 2.4L176.3 2.4L171.6 2.4L166.9 2.4L162.3 2.4L157.6 2.4L153.0 2.4L148.3 2.4L143.7 2.4L139.0 2.4L134.4 2.4L129.7 2.4L125.1 2.4L120.4 2.4L115.7 2.4L111.1 2.4L106.4 2.4L101.8 2.4L97.1 2.4L92.5 2.4L87.8 2.4L83.2 2.4L78.5 2.4L73.8 2.4L69.2 2.4L64.5 2.4L59.9 2.4L55.2 2.4L50.6 2.4L45.9 2.4L41.3 2.4L36.6 2.4L32.0 2.4L27.3 2.4L27.3 6.7L27.3 11.1L27.3 15.4L27.3 19.7L27.3 24.1L27.3 28.4L27.3 32.7L27.3 37.1L27.3 41.4L27.3 45.7L27.3 50.1L27.3 54.4L27.3 58.7L27.3 63.1L27.3 67.4L27.3 71.7L27.3 76.1L27.3 80.4L27.3 84.7L27.3 89.0L27.3 93.4L27.3 97.7L27.3 102.0L27.3 106.4L27.3 110.7L27.3 115.0L27.3 119.4L27.3 123.7L27.3 128.0L27.3 132.4L27.3 136.7L27.3 141.0L27.3 145.4L27.3 149.7L27.3 154.0L27.3 158.4L27.3 162.7L27.3 167.0L27.3 171.4Z" fill="#ffc700" stroke="#ffc700" stroke-width="0.4"/>
<path d="M27.3 175.7L32.0 175.7L36.6 175.7L41.3 175.7L45.9 175.7L50.6 175.7L55.2 175.7L59.9 175.7L64.5 175.7L69.2 175.7L73.8 175.7L74.2 175.7L77.5 171.4L78.5 170.1L80.8 167.0L83.2 163.9L84.1 162.7L87.4 158.4L87.8 157.8L90.6 154.0L92.5 152.0L94.7 149.7L97.1 147.3L98.8 145.4L101.8 142.0L102.6 141.0L106.4 136.7L106.4 136.7L110.2 132.4L111.1 131.3L114.0 128.0L115.7 126.3L118.5 123.7L120.4 122.0L123.7 119.4L125.1 118.3L129.2 115.0L129.7 114.6L134.4 111.1L134.8 110.7L138.9 106.4L139.0 106.2L143.4 102.0L143.7 101.8L148.3 98.5L149.5 97.7L153.0 95.4L156.3 93.4L157.6 92.6L162.3 89.9L163.9 89.0L166.9 86.3L168.8 84.7L171.6 82.3L173.9 80.4L176.3 78.5L179.3 76.1L180.9 74.8L185.0 71.7L185.6 71.3L190.2 67.9L190.9 67.4L194.9 63.9L195.9 63.1L199.5 60.1L201.2 58.7L204.2 56.5L207.0 54.4L208.8 53.1L213.3 50.1L213.5 50.0L213.5 45.7L213.5 41.4L213.5 37.1L213.5 32.7L213.5 28.4L213.5 24.1L213.5 19.7L213.5 15.4L213.5 11.1L213.5 6.7L213.5 2.4L208.8 2.4L204.2 2.4L199.5 2.4L194.9 2.4L190.2 2.4L185.6 2.4L180.9 2.4L176.3 2.4L171.6 2.4L166.9 2.4L162.3 2.4L157.6 2.4L153.0 2.4L148.3 2.4L143.7 2.4L139.0 2.4L134.4 2.4L129.7 2.4L125.1 2.4L120.4 2.4L115.7 2.4L111.1 2.4L106.4 2.4L101.8 2.4L97.1 2.4L92.5 2.4L87.8 2.4L83.2 2.4L78.5 2.4L73.8 2.4L69.2 2.4L64.5 2.4L59.9 2.4L55.2 2.4L50.6 2.4L45.9 2.4L41.3 2.4L36.6 2.4L32.0 2.4L27.3 2.4L27.3 6.7L27.3 11.1L27.3 15.4L27.3 19.7L27.3 24.1L27.3 28.4L27.3 32.7L27.3 37.1L27.3 41.4L27.3 45.7L27.3 50.1L27.3 54.4L27.3 58.7L27.3 63.1L27.3 67.4L27.3 71.7L27.3 76.1L27.3 80.4L27.3 84.7L27.3 89.0L27.3 93.4L27.3 97.7L27.3 102.0L27.3 106.4L27.3 110.7L27.3 115.0L27.3 119.4L27.3 123.7L27.3 128.0L27.3 132.4L27.3 136.7L27.3 141.0L27.3 145.4L27.3 149.7L27.3 154.0L27.3 158.4L27.3 162.7L27.3 167.0L27.3 171.4Z" fill="#ffb700" stroke="#ffb700" stroke-width="0.4"/>
<path d="M27.3 175.7L32.0 175.7L36.6 175.7L41.3 175.7L45.9 175.7L50.6 175.7L55.2 175.7L59.9 175.7L64.5 175.7L69.2 175.7L70.4 175.7L73.7 171.4L73.8 171.2L77.0 167.0L78.5 165.1L80.3 162.7L83.2 158.9L83.6 158.4L86.9 154.0L87.8 152.9L90.7 149.7L92.5 147.9L95.0 145.4L97.1 143.4L99.2 141.0L101.8 138.1L103.0 136.7L106.4 132.8L106.8 132.4L110.4 128.0L111.1 127.3L114.5 123.7L115.7 122.6L119.4 119.4L120.4 118.6L124.9 115.0L125.1 114.9L129.7 111.3L130.4 110.7L134.3 106.4L134.4 106.3L138.5 102.0L139.0 101.5L143.3 97.7L143.7 97.4L148.3 94.2L149.7 93.4L153.0 91.3L156.9 89.0L157.6 88.3L161.5 84.7L162.3 84.0L166.5 80.4L166.9 80.0L171.6 76.1L171.6 76.1L176.3 72.4L177.1 71.7L180.9 68.8L182.9 67.4L185.6 64.9L187.5 63.1L190.2 60.7L192.6 58.7L194.9 56.8L198.0 54.4L199.5 53.2L203.9 50.1L204.2 49.9L208.8 46.7L210.4 45.7L213.5 42.9L213.5 41.4L213.5 37.1L213.5 32.7L213.5 28.4L213.5 24.1L213.5 19.7L213.5 15.4L213.5 11.1L213.5 6.7L213.5 2.4L208.8 2.4L204.2 2.4L199.5 2.4L194.9 2.4L190.2 2.4L185.6 2.4L180.9 2.4L176.3 2.4L171.6 2.4L166.9 2.4L162.3 2.4L157.6 2.4L153.0 2.4L148.3 2.4L143.7 2.4L139.0 2.4L134.4 2.4L129.7 2.4L125.1 2.4L120.4 2.4L115.7 2.4L111.1 2.4L106.4 2.4L101.8 2.4L97.1 2.4L92.5 2.4L87.8 2.4L83.2 2.4L78.5 2.4L73.8 2.4L69.2 2.4L64.5 2.4L59.9 2.4L55.2 2.4L50.6 2.4L45.9 2.4L41.3 2.4L36.6 2.4L32.0 2.4L27.3 2.4L27.3 6.7L27.3 11.1L27.3 15.4L27.3 19.7L27.3 24.1L27.3 28.4L27.3 32.7L27.3 37.1L27.3 41.4L27.3 45.7L27.3 50.1L27.3 54.4L27.3 58.7L27.3 63.1L27.3 67.4L27.3 71.7L27.3 76.1L27.3 80.4L27.3 84.7L27.3 89.0L27.3 93.4L27.3 97.7L27.3 102.0L27.3 106.4L27.3 110.7L27.3 115.0L27.3 119.4L27.3 123.7L27.3 128.0L27.3 132.4L27.3 136.7L27.3 141.0L27.3 145.4L27.3 149.7L27.3 154.0L27.3 158.4L27.3 162.7L27.3 167.0L27.3 171.4Z" fill="#ffa700" stroke="#ffa700" stroke-width="0.4"/>
<path d="M27.3 175.7L32.0 175.7L36.6 175.7L41.3 175.7L45.9 175.7L50.6 175.7L55.2 175.7L59.9 175.7L64.5 175.7L66.5 175.7L69.2 172.3L69.9 171.4L73.2 167.0L73.8 166.2L76.5 162.7L78.5 160.1L79.8 158.4L83.1 154.0L83.2 154.0L86.7 149.7L87.8 148.5L90.8 145.4L92.5 143.7L95.4 141.0L97.1 139.6L99.6 136.7L101.8 134.2L103.4 132.4L106.4 128.4L106.7 128.0L110.6 123.7L111.1 123.2L115.1 119.4L115.7 118.8L120.4 115.2L120.5 115.0L125.1 111.5L126.1 110.7L129.6 106.4L129.7 106.3L133.6 102.0L134.4 101.3L138.1 97.7L139.0 96.9L143.1 93.4L143.7 92.9L148.3 90.0L149.9 89.0L153.0 86.0L154.3 84.7L157.6 81.6L159.0 80.4L162.3 77.5L164.0 76.1L166.9 73.6L169.3 71.7L171.6 69.9L174.8 67.4L176.3 65.9L179.2 63.1L180.9 61.4L183.9 58.7L185.6 57.3L189.0 54.4L190.2 53.4L194.5 50.1L194.9 49.8L199.5 46.4L200.6 45.7L204.2 42.2L205.0 41.4L208.8 37.9L209.7 37.1L213.5 33.8L213.5 32.7L213.5 28.4L213.5 24.1L213.5 19.7L213.5 15.4L213.5 11.1L213.5 6.7L213.5 2.4L208.8 2.4L204.2 2.4L199.5 2.4L194.9 2.4L190.2 2.4L185.6 2.4L180.9 2.4L176.3 2.4L171.6 2.4L166.9 2.4L162.3 2.4L157.6 2.4L153.0 2.4L148.3 2.4L143.7 2.4L139.0 2.4L134.4 2.4L129.7 2.4L125.1 2.4L120.4 2.4L115.7 2.4L111.1 2.4L106.4 2.4L101.8 2.4L97.1 2.4L92.5 2.4L87.8 2.4L83.2 2.4L78.5 2.4L73.8 2.4L69.2 2.4L64.5 2.4L59.9 2.4L55.2 2.4L50.6 2.4L45.9 2.4L41.3 2.4L36.6 2.4L32.0 2.4L27.3 2.4L27.3 6.7L27.3 11.1L27.3 15.4L27.3 19.7L27.3 24.1L27.3 28.4L27.3 32.7L27.3 37.1L27.3 41.4L27.3 45.7L27.3 50.1L27.3 54.4L27.3 58.7L27.3 63.1L27.3 67.4L27.3 71.7L27.3 76.1L27.3 80.4L27.3 84.7L27.3 89.0L27.3 93.4L27.3 97.7L27.3 102.0L27.3 106.4L27.3 110.7L27.3 115.0L27.3 119.4L27.3 123.7L27.3 128.0L27.3 132.4L27.3 136.7L27.3 141.0L27.3 145.4L27.3 149.7L27.3 154.0L27.3 158.4L27.3 162.7L27.3 167.0L27.3 171.4Z" fill="#ff9700" stroke="#ff9700" stroke-width="0.4"/>
<path d="M27.3 175.7L32.0 175.7L36.6 175.7L41.3 175.7L45.9 175.7L50.6 175.7L55.2 175.7L59.9 175.7L62.7 175.7L64.5 173.3L66.1 171.4L69.2 167.4L69.4 167.0L72.8 162.7L73.8 161.3L76.0 158.4L78.5 155.1L79.3 154.0L82.7 149.7L83.2 149.2L86.5 145.4L87.8 144.0L90.9 141.0L92.5 139.6L95.8 136.7L97.1 135.7L100.0 132.4L101.8 129.8L103.1 128.0L106.4 123.9L106.6 123.7L110.8 119.4L111.1 119.1L115.7 115.1L115.8 115.0L120.4 111.7L121.7 110.7L125.0 106.4L125.1 106.4L128.8 102.0L129.7 101.0L132.9 97.7L134.4 96.3L137.6 93.4L139.0 92.2L143.0 89.0L143.7 88.2L147.1 84.7L148.3 83.5L151.6 80.4L153.0 79.1L156.3 76.1L157.6 74.9L161.4 71.7L162.3 71.0L166.7 67.4L166.9 67.2L170.8 63.1L171.6 62.2L175.2 58.7L176.3 57.7L179.9 54.4L180.9 53.5L185.1 50.1L185.6 49.7L190.2 46.1L190.7 45.7L194.8 41.4L194.9 41.3L199.2 37.1L199.5 36.7L203.9 32.7L204.2 32.5L208.8 28.5L209.0 28.4L213.5 24.8L213.5 24.1L213.5 19.7L213.5 15.4L213.5 11.1L213.5 6.7L213.5 2.4L208.8 2.4L204.2 2.4L199.5 2.4L194.9 2.4L190.2 2.4L185.6 2.4L180.9 2.4L176.3 2.4L171.6 2.4L166.9 2.4L162.3 2.4L157.6 2.4L153.0 2.4L148.3 2.4L143.7 2.4L139.0 2.4L134.4 2.4L129.7 2.4L125.1 2.4L120.4 2.4L115.7 2.4L111.1 2.4L106.4 2.4L101.8 2.4L97.1 2.4L92.5 2.4L87.8 2.4L83.2 2.4L78.5 2.4L73.8 2.4L69.2 2.4L64.5 2.4L59.9 2.4L55.2 2.4L50.6 2.4L45.9 2.4L41.3 2.4L36.6 2.4L32.0 2.4L27.3 2.4L27.3 6.7L27.3 11.1L27.3 15.4L27.3 19.7L27.3 24.1L27.3 28.4L27.3 32.7L27.3 37.1L27.3 41.4L27.3 45.7L27.3 50.1L27.3 54.4L27.3 58.7L27.3 63.1L27.3 67.4L27.3 71.7L27.3 76.1L27.3 80.4L27.3 84.7L27.3 89.0L27.3 93.4L27.3 97.7L27.3 102.0L27.3 106.4L27.3 110.7L27.3 115.0L27.3 119.4L27.3 123.7L27.3 128.0L27.3 132.4L27.3 136.7L27.3 141.0L27.3 145.4L27.3 149.7L27.3 154.0L27.3 158.4L27.3 162.7L27.3 167.0L27.3 171.4Z" fill="#ff8700" stroke="#ff8700" stroke-width="0.4"/>
<path d="M27.3 175.7L32.0 175.7L36.6 175.7L41.3 175.7L45.9 175.7L50.6 175.7L55.2 175.7L58.9 175.7L59.9 174.4L62.3 171.4L64.5 168.5L65.7 167.0L69.0 162.7L69.2 162.4L72.3 158.4L73.8 156.3L75.6 154.0L78.5 150.0L78.7 149.7L82.3 145.4L83.2 144.4L86.3 141.0L87.8 139.6L90.9 136.7L92.5 135.4L96.3 132.4L97.1 131.5L99.4 128.0L101.8 124.8L102.7 123.7L106.4 119.5L106.5 119.4L111.1 115.1L111.1 115.0L115.7 111.4L116.7 110.7L120.4 106.4L120.4 106.4L123.9 102.0L125.1 100.7L127.8 97.7L129.7 95.7L132.2 93.4L134.4 91.4L137.1 89.1L139.0 86.6L140.5 84.7L143.7 80.8L144.1 80.4L148.3 76.4L148.7 76.1L153.0 72.2L153.5 71.7L157.6 68.2L158.6 67.4L162.3 63.2L162.4 63.1L166.5 58.7L166.9 58.2L170.8 54.4L171.6 53.7L175.6 50.1L176.3 49.5L180.8 45.7L180.9 45.6L184.6 41.4L185.6 40.3L188.6 37.1L190.2 35.4L193.0 32.7L194.9 30.9L197.6 28.4L199.5 26.7L202.6 24.1L204.2 19.7L204.2 19.7L205.7 15.4L207.2 11.1L208.7 6.7L208.8 6.3L210.2 2.4L208.8 2.4L204.2 2.4L199.5 2.4L194.9 2.4L190.2 2.4L185.6 2.4L180.9 2.4L176.3 2.4L171.6 2.4L166.9 2.4L162.3 2.4L157.6 2.4L153.0 2.4L148.3 2.4L143.7 2.4L139.0 2.4L134.4 2.4L129.7 2.4L125.1 2.4L120.4 2.4L115.7 2.4L111.1 2.4L106.4 2.4L101.8 2.4L97.1 2.4L92.5 2.4L87.8 2.4L83.2 2.4L78.5 2.4L73.8 2.4L69.2 2.4L64.5 2.4L59.9 2.4L55.2 2.4L50.6 2.4L45.9 2.4L41.3 2.4L36.6 2.4L32.0 2.4L27.3 2.4L27.3 6.7L27.3 11.1L27.3 15.4L27.3 19.7L27.3 24.1L27.3 28.4L27.3 32.7L27.3 37.1L27.3 41.4L27.3 45.7L27.3 50.1L27.3 54.4L27.3 58.7L27.3 63.1L27.3 67.4L27.3 71.7L27.3 76.1L27.3 80.4L27.3 84.7L27.3 89.0L27.3 93.4L27.3 97.7L27.3 102.0L27.3 106.4L27.3 110.7L27.3 115.0L27.3 119.4L27.3 123.7L27.3 128.0L27.3 132.4L27.3 136.7L27.3 141.0L27.3 145.4L27.3 149.7L27.3 154.0L27.3 158.4L27.3 162.7L27.3 167.0L27.3 171.4Z" fill="#ff7800" stroke="#ff7800" stroke-width="0.4"/>
<path d="M27.3 175.7L32.0 175.7L36.6 175.7L41.3 175.7L45.9 175.7L50.6 175.7L55.0 175.7L55.2 175.4L58.5 171.4L59.9 169.6L61.9 167.0L64.5 163.6L65.2 162.7L68.5 158.4L69.2 157.5L71.8 154.0L73.8 150.9L74.7 149.7L78.0 145.4L78.5 144.8L81.8 141.0L83.2 139.6L86.1 136.7L87.8 135.1L91.1 132.4L92.5 130.8L95.1 128.0L97.1 126.0L98.7 123.7L101.8 119.9L102.2 119.4L106.4 115.0L106.4 115.0L111.1 111.0L111.5 110.7L115.1 106.4L115.7 105.6L118.8 102.0L120.4 100.3L122.6 97.7L125.1 95.1L126.7 93.4L129.7 90.5L131.3 89.0L134.4 84.9L134.5 84.7L137.9 80.4L139.0 79.0L141.5 76.1L143.7 73.5L145.6 71.7L148.3 69.3L150.5 67.4L153.0 64.2L153.9 63.1L157.6 58.8L157.7 58.7L161.7 54.4L162.3 53.8L166.1 50.1L166.9 49.3L170.9 45.7L171.6 44.8L174.3 41.4L176.3 39.1L178.0 37.1L180.9 33.9L182.0 32.7L185.6 29.1L186.2 28.4L190.2 24.6L190.8 24.1L192.4 19.7L193.9 15.4L194.9 12.7L195.5 11.1L197.0 6.7L198.5 2.4L194.9 2.4L190.2 2.4L185.6 2.4L180.9 2.4L176.3 2.4L171.6 2.4L166.9 2.4L162.3 2.4L157.6 2.4L153.0 2.4L148.3 2.4L143.7 2.4L139.0 2.4L134.4 2.4L129.7 2.4L125.1 2.4L120.4 2.4L115.7 2.4L111.1 2.4L106.4 2.4L101.8 2.4L97.1 2.4L92.5 2.4L87.8 2.4L83.2 2.4L78.5 2.4L73.8 2.4L69.2 2.4L64.5 2.4L59.9 2.4L55.2 2.4L50.6 2.4L45.9 2.4L41.3 2.4L36.6 2.4L32.0 2.4L27.3 2.4L27.3 6.7L27.3 11.1L27.3 15.4L27.3 19.7L27.3 24.1L27.3 28.4L27.3 32.7L27.3 37.1L27.3 41.4L27.3 45.7L27.3 50.1L27.3 54.4L27.3 58.7L27.3 63.1L27.3 67.4L27.3 71.7L27.3 76.1L27.3 80.4L27.3 84.7L27.3 89.0L27.3 93.4L27.3 97.7L27.3 102.0L27.3 106.4L27.3 110.7L27.3 115.0L27.3 119.4L27.3 123.7L27.3 128.0L27.3 132.4L27.3 136.7L27.3 141.0L27.3 145.4L27.3 149.7L27.3 154.0L27.3 158.4L27.3 162.7L27.3 167.0L27.3 171.4Z" fill="#ff6800" stroke="#ff6800" stroke-width="0.4"/>
<path d="M27.3 175.7L32.0 175.7L36.6 175.7L41.3 175.7L45.9 175.7L50.6 175.7L51.2 175.7L54.7 171.4L55.2 170.6L58.1 167.0L59.9 164.7L61.5 162.7L64.5 158.7L64.8 158.4L68.1 154.0L69.2 152.3L70.9 149.7L73.8 145.4L73.8 145.3L77.2 141.0L78.5 139.6L81.2 136.7L83.2 134.8L85.8 132.4L87.8 130.0L89.6 128.0L92.5 125.0L93.7 123.7L97.1 120.4L97.9 119.4L101.7 115.0L101.8 114.9L106.2 110.7L106.4 110.5L109.7 106.4L111.1 104.7L113.3 102.0L115.7 99.3L117.2 97.7L120.4 94.3L121.2 93.4L125.1 89.4L125.4 89.0L128.5 84.7L129.7 83.1L131.7 80.4L134.4 77.0L135.2 76.1L138.8 71.7L139.0 71.4L142.6 67.4L143.7 65.5L145.5 63.1L148.3 59.4L148.9 58.7L152.6 54.4L153.0 54.0L156.6 50.1L157.6 49.0L161.0 45.7L162.3 43.9L164.1 41.4L166.9 37.7L167.4 37.1L171.0 32.7L171.6 32.0L174.8 28.4L176.3 26.9L179.0 24.1L180.5 19.7L180.9 18.5L182.0 15.4L183.5 11.1L185.1 6.7L185.6 5.4L186.7 2.4L185.6 2.4L180.9 2.4L176.3 2.4L171.6 2.4L166.9 2.4L162.3 2.4L157.6 2.4L153.0 2.4L148.3 2.4L143.7 2.4L139.0 2.4L134.4 2.4L129.7 2.4L125.1 2.4L120.4 2.4L115.7 2.4L111.1 2.4L106.4 2.4L101.8 2.4L97.1 2.4L92.5 2.4L87.8 2.4L83.2 2.4L78.5 2.4L73.8 2.4L69.2 2.4L64.5 2.4L59.9 2.4L55.2 2.4L50.6 2.4L45.9 2.4L41.3 2.4L36.6 2.4L32.0 2.4L27.3 2.4L27.3 6.7L27.3 11.1L27.3 15.4L27.3 19.7L27.3 24.1L27.3 28.4L27.3 32.7L27.3 37.1L27.3 41.4L27.3 45.7L27.3 50.1L27.3 54.4L27.3 58.7L27.3 63.1L27.3 67.4L27.3 71.7L27.3 76.1L27.3 80.4L27.3 84.7L27.3 89.0L27.3 93.4L27.3 97.7L27.3 102.0L27.3 106.4L27.3 110.7L27.3 115.0L27.3 119.4L27.3 123.7L27.3 128.0L27.3 132.4L27.3 136.7L27.3 141.0L27.3 145.4L27.3 149.7L27.3 154.0L27.3 158.4L27.3 162.7L27.3 167.0L27.3 171.4Z" fill="#ff5800" stroke="#ff5800" stroke-width="0.4"/>
<path d="M27.3 175.7L32.0 175.7L36.6 175.7L41.3 175.7L45.9 175.7L48.3 175.7L50.6 171.7L50.8 171.4L54.3 167.0L55.2 165.8L57.7 162.7L59.9 159.9L61.1 158.4L64.4 154.0L64.5 153.8L67.0 149.7L69.2 146.4L69.9 145.4L72.8 141.0L73.8 139.6L76.3 136.7L78.5 134.4L80.5 132.4L83.2 129.2L84.2 128.0L87.8 124.0L88.1 123.7L92.3 119.4L92.5 119.2L96.9 115.0L97.1 114.9L101.0 110.7L101.8 109.7L104.3 106.4L106.4 103.7L107.8 102.0L111.1 98.1L111.5 97.7L115.4 93.4L115.7 93.0L119.5 89.0L120.4 87.8L122.5 84.7L125.1 81.1L125.6 80.4L128.8 76.1L129.7 74.9L132.3 71.7L134.4 69.2L135.9 67.4L138.3 63.1L139.0 61.8L140.8 58.7L143.5 54.4L143.7 54.1L147.1 50.1L148.3 48.7L151.0 45.7L153.0 42.6L153.8 41.4L156.8 37.1L157.6 35.8L160.0 32.7L162.3 29.7L163.4 28.4L166.9 24.2L167.1 24.1L168.5 19.7L170.0 15.4L171.4 11.1L171.6 10.6L172.9 6.7L174.4 2.4L171.6 2.4L166.9 2.4L162.3 2.4L157.6 2.4L153.0 2.4L148.3 2.4L143.7 2.4L139.0 2.4L134.4 2.4L129.7 2.4L125.1 2.4L120.4 2.4L115.7 2.4L111.1 2.4L106.4 2.4L101.8 2.4L97.1 2.4L92.5 2.4L87.8 2.4L83.2 2.4L78.5 2.4L73.8 2.4L69.2 2.4L64.5 2.4L59.9 2.4L55.2 2.4L50.6 2.4L45.9 2.4L41.3 2.4L36.6 2.4L32.0 2.4L27.3 2.4L27.3 6.7L27.3 11.1L27.3 15.4L27.3 19.7L27.3 24.1L27.3 28.4L27.3 32.7L27.3 37.1L27.3 41.4L27.3 45.7L27.3 50.1L27.3 54.4L27.3 58.7L27.3 63.1L27.3 67.4L27.3 71.7L27.3 76.1L27.3 80.4L27.3 84.7L27.3 89.0L27.3 93.4L27.3 97.7L27.3 102.0L27.3 106.4L27.3 110.7L27.3 115.0L27.3 119.4L27.3 123.7L27.3 128.0L27.3 132.4L27.3 136.7L27.3 141.0L27.3 145.4L27.3 149.7L27.3 154.0L27.3 158.4L27.3 162.7L27.3 167.0L27.3 171.4Z" fill="#ff4800" stroke="#ff4800" stroke-width="0.4"/>
<path d="M27.3 175.7L32.0 175.7L36.6 175.7L41.3 175.7L45.7 175.7L45.9 175.2L48.0 171.4L50.5 167.0L50.6 166.9L53.9 162.7L55.2 161.1L57.3 158.4L59.9 155.1L60.7 154.0L63.2 149.7L64.5 147.6L65.9 145.4L68.8 141.0L69.2 140.4L71.8 136.7L73.8 133.9L75.3 132.4L78.5 128.3L78.7 128.0L82.4 123.7L83.2 122.8L86.4 119.4L87.8 117.9L90.7 115.0L92.5 113.4L95.5 110.7L97.1 108.8L98.9 106.4L101.8 102.6L102.3 102.0L105.8 97.7L106.4 96.9L109.5 93.4L111.1 91.6L113.5 89.1L115.7 85.6L116.3 84.7L119.4 80.4L120.4 79.0L122.5 76.1L125.1 72.6L125.8 71.7L129.2 67.4L129.7 66.4L131.4 63.1L133.7 58.7L134.4 57.6L136.2 54.4L138.8 50.1L139.0 49.8L141.6 45.7L143.6 41.4L143.7 41.1L146.1 37.1L148.3 33.6L148.9 32.7L151.9 28.4L153.0 26.9L155.2 24.1L156.4 19.7L157.6 15.7L157.7 15.4L159.1 11.1L160.5 6.7L161.9 2.4L157.6 2.4L153.0 2.4L148.3 2.4L143.7 2.4L139.0 2.4L134.4 2.4L129.7 2.4L125.1 2.4L120.4 2.4L115.7 2.4L111.1 2.4L106.4 2.4L101.8 2.4L97.1 2.4L92.5 2.4L87.8 2.4L83.2 2.4L78.5 2.4L73.8 2.4L69.2 2.4L64.5 2.4L59.9 2.4L55.2 2.4L50.6 2.4L45.9 2.4L41.3 2.4L36.6 2.4L32.0 2.4L27.3 2.4L27.3 6.7L27.3 11.1L27.3 15.4L27.3 19.7L27.3 24.1L27.3 28.4L27.3 32.7L27.3 37.1L27.3 41.4L27.3 45.7L27.3 50.1L27.3 54.4L27.3 58.7L27.3 63.1L27.3 67.4L27.3 71.7L27.3 76.1L27.3 80.4L27.3 84.7L27.3 89.0L27.3 93.4L27.3 97.7L27.3 102.0L27.3 106.4L27.3 110.7L27.3 115.0L27.3 119.4L27.3 123.7L27.3 128.0L27.3 132.4L27.3 136.7L27.3 141.0L27.3 145.4L27.3 149.7L27.3 154.0L27.3 158.4L27.3 162.7L27.3 167.0L27.3 171.4Z" fill="#ff3800" stroke="#ff3800" stroke-width="0.4"/>
<path d="M27.3 175.7L32.0 175.7L36.6 175.7L41.3 175.7L43.0 175.7L45.2 171.4L45.9 170.0L47.6 167.0L50.2 162.7L50.6 162.2L53.6 158.4L55.2 156.3L57.0 154.0L59.4 149.7L59.9 148.9L62.0 145.4L64.5 141.4L64.8 141.0L67.7 136.7L69.2 134.5L70.7 132.4L73.3 128.0L73.8 127.2L76.7 123.7L78.5 121.6L80.4 119.4L83.2 116.5L84.5 115.0L87.8 111.8L89.0 110.7L92.5 106.8L92.9 106.4L96.7 102.0L97.1 101.5L100.1 97.7L101.8 95.6L103.6 93.4L106.4 90.2L107.4 89.0L110.1 84.7L111.1 83.2L113.0 80.4L115.7 76.4L116.0 76.1L119.2 71.7L120.4 70.2L122.5 67.4L124.5 63.1L125.1 61.9L126.6 58.7L128.9 54.4L129.7 52.9L131.3 50.1L133.8 45.7L134.4 44.4L135.5 41.4L137.3 37.1L139.0 33.2L139.2 32.7L141.2 28.4L143.3 24.1L143.7 22.2L144.3 19.7L145.4 15.4L146.6 11.1L147.8 6.7L148.3 4.8L149.0 2.4L148.3 2.4L143.7 2.4L139.0 2.4L134.4 2.4L129.7 2.4L125.1 2.4L120.4 2.4L115.7 2.4L111.1 2.4L106.4 2.4L101.8 2.4L97.1 2.4L92.5 2.4L87.8 2.4L83.2 2.4L78.5 2.4L73.8 2.4L69.2 2.4L64.5 2.4L59.9 2.4L55.2 2.4L50.6 2.4L45.9 2.4L41.3 2.4L36.6 2.4L32.0 2.4L27.3 2.4L27.3 6.7L27.3 11.1L27.3 15.4L27.3 19.7L27.3 24.1L27.3 28.4L27.3 32.7L27.3 37.1L27.3 41.4L27.3 45.7L27.3 50.1L27.3 54.4L27.3 58.7L27.3 63.1L27.3 67.4L27.3 71.7L27.3 76.1L27.3 80.4L27.3 84.7L27.3 89.0L27.3 93.4L27.3 97.7L27.3 102.0L27.3 106.4L27.3 110.7L27.3 115.0L27.3 119.4L27.3 123.7L27.3 128.0L27.3 132.4L27.3 136.7L27.3 141.0L27.3 145.4L27.3 149.7L27.3 154.0L27.3 158.4L27.3 162.7L27.3 167.0L27.3 171.4Z" fill="#ff2800" stroke="#ff2800" stroke-width="0.4"/>
<path d="M27.3 175.7L32.0 175.7L36.6 175.7L40.3 175.7L41.3 173.7L42.4 171.4L44.6 167.0L45.9 164.8L47.1 162.7L49.9 158.4L50.6 157.4L53.2 154.0L55.2 150.4L55.6 149.7L58.1 145.4L59.9 142.4L60.7 141.0L63.5 136.7L64.5 135.2L66.5 132.4L68.9 128.0L69.2 127.6L71.6 123.7L73.8 120.2L74.5 119.4L78.3 115.0L78.5 114.9L82.5 110.7L83.2 110.0L86.4 106.4L87.8 104.8L90.3 102.0L92.5 99.5L94.1 97.7L97.1 94.2L97.8 93.4L101.4 89.0L101.8 88.3L103.9 84.7L106.4 80.5L106.5 80.4L109.4 76.1L111.1 73.5L112.4 71.7L115.6 67.4L115.7 67.0L117.5 63.1L119.5 58.7L120.4 56.9L121.6 54.4L123.7 50.1L125.1 47.5L126.0 45.7L127.5 41.4L129.1 37.1L129.7 35.4L130.7 32.7L132.5 28.4L134.3 24.1L134.4 23.9L135.0 19.7L135.7 15.4L136.4 11.1L137.1 6.7L137.9 2.4L134.4 2.4L129.7 2.4L125.1 2.4L120.4 2.4L115.7 2.4L111.1 2.4L106.4 2.4L101.8 2.4L97.1 2.4L92.5 2.4L87.8 2.4L83.2 2.4L78.5 2.4L73.8 2.4L69.2 2.4L64.5 2.4L59.9 2.4L55.2 2.4L50.6 2.4L45.9 2.4L41.3 2.4L36.6 2.4L32.0 2.4L27.3 2.4L27.3 6.7L27.3 11.1L27.3 15.4L27.3 19.7L27.3 24.1L27.3 28.4L27.3 32.7L27.3 37.1L27.3 41.4L27.3 45.7L27.3 50.1L27.3 54.4L27.3 58.7L27.3 63.1L27.3 67.4L27.3 71.7L27.3 76.1L27.3 80.4L27.3 84.7L27.3 89.0L27.3 93.4L27.3 97.7L27.3 102.0L27.3 106.4L27.3 110.7L27.3 115.0L27.3 119.4L27.3 123.7L27.3 128.0L27.3 132.4L27.3 136.7L27.3 141.0L27.3 145.4L27.3 149.7L27.3 154.0L27.3 158.4L27.3 162.7L27.3 167.0L27.3 171.4Z" fill="#ff1800" stroke="#ff1800" stroke-width="0.4"/>
<path d="M27.3 175.7L32.0 175.7L36.6 175.7L37.7 175.7L39.6 171.4L41.3 167.9L41.7 167.0L44.0 162.7L45.9 159.5L46.7 158.4L49.6 154.0L50.6 152.0L51.8 149.7L54.2 145.4L55.2 143.5L56.7 141.0L59.4 136.7L59.9 135.9L62.2 132.4L64.5 128.0L64.5 128.0L67.0 123.7L69.2 120.1L69.7 119.4L72.5 115.0L73.8 113.1L76.0 110.7L78.5 108.0L80.0 106.4L83.2 102.8L83.9 102.0L87.7 97.7L87.8 97.6L91.5 93.4L92.5 92.2L95.2 89.0L97.1 85.6L97.6 84.7L100.1 80.4L101.8 77.6L102.7 76.1L105.5 71.7L106.4 70.4L108.5 67.4L110.2 63.1L111.1 60.8L112.0 58.7L113.9 54.4L115.7 50.4L115.9 50.1L118.1 45.7L119.4 41.4L120.4 38.5L120.8 37.1L122.3 32.7L123.8 28.4L125.1 24.9L125.4 24.1L125.9 19.7L126.4 15.4L126.9 11.1L127.5 6.7L128.0 2.4L125.1 2.4L120.4 2.4L115.7 2.4L111.1 2.4L106.4 2.4L101.8 2.4L97.1 2.4L92.5 2.4L87.8 2.4L83.2 2.4L78.5 2.4L73.8 2.4L69.2 2.4L64.5 2.4L59.9 2.4L55.2 2.4L50.6 2.4L45.9 2.4L41.3 2.4L36.6 2.4L32.0 2.4L27.3 2.4L27.3 6.7L27.3 11.1L27.3 15.4L27.3 19.7L27.3 24.1L27.3 28.4L27.3 32.7L27.3 37.1L27.3 41.4L27.3 45.7L27.3 50.1L27.3 54.4L27.3 58.7L27.3 63.1L27.3 67.4L27.3 71.7L27.3 76.1L27.3 80.4L27.3 84.7L27.3 89.0L27.3 93.4L27.3 97.7L27.3 102.0L27.3 106.4L27.3 110.7L27.3 115.0L27.3 119.4L27.3 123.7L27.3 128.0L27.3 132.4L27.3 136.7L27.3 141.0L27.3 145.4L27.3 149.7L27.3 154.0L27.3 158.4L27.3 162.7L27.3 167.0L27.3 171.4Z" fill="#ff0800" stroke="#ff0800" stroke-width="0.4"/>
<path d="M27.3 175.7L32.0 175.7L35.0 175.7L36.6 171.8L36.8 171.4L38.7 167.0L40.9 162.7L41.3 162.1L43.4 158.4L45.9 154.3L46.1 154.0L48.1 149.7L50.3 145.4L50.6 144.8L52.7 141.0L55.2 136.7L55.2 136.7L57.9 132.4L59.9 128.4L60.1 128.0L62.4 123.7L64.5 120.0L64.9 119.4L67.6 115.0L69.2 112.6L70.5 110.7L73.6 106.4L73.8 106.0L77.5 102.0L78.5 100.9L81.3 97.7L83.2 95.6L85.2 93.4L87.8 90.3L88.9 89.0L91.1 84.7L92.5 82.3L93.5 80.4L96.0 76.1L97.1 74.3L98.7 71.7L101.4 67.4L101.8 66.3L102.9 63.1L104.5 58.7L106.1 54.4L106.4 53.6L107.9 50.1L109.8 45.7L110.9 41.4L111.1 40.7L112.1 37.1L113.3 32.7L114.7 28.4L115.7 25.1L116.1 24.1L116.4 19.7L116.7 15.4L117.1 11.1L117.5 6.7L117.9 2.4L115.7 2.4L111.1 2.4L106.4 2.4L101.8 2.4L97.1 2.4L92.5 2.4L87.8 2.4L83.2 2.4L78.5 2.4L73.8 2.4L69.2 2.4L64.5 2.4L59.9 2.4L55.2 2.4L50.6 2.4L45.9 2.4L41.3 2.4L36.6 2.4L32.0 2.4L27.3 2.4L27.3 6.7L27.3 11.1L27.3 15.4L27.3 19.7L27.3 24.1L27.3 28.4L27.3 32.7L27.3 37.1L27.3 41.4L27.3 45.7L27.3 50.1L27.3 54.4L27.3 58.7L27.3 63.1L27.3 67.4L27.3 71.7L27.3 76.1L27.3 80.4L27.3 84.7L27.3 89.0L27.3 93.4L27.3 97.7L27.3 102.0L27.3 106.4L27.3 110.7L27.3 115.0L27.3 119.4L27.3 123.7L27.3 128.0L27.3 132.4L27.3 136.7L27.3 141.0L27.3 145.4L27.3 149.7L27.3 154.0L27.3 158.4L27.3 162.7L27.3 167.0L27.3 171.4Z" fill="#f70000" stroke="#f70000" stroke-width="0.4"/>
<path d="M27.3 175.7L32.0 175.7L32.3 175.7L34.0 171.4L35.8 167.0L36.6 165.3L37.8 162.7L40.1 158.4L41.3 156.3L42.6 154.0L44.5 149.7L45.9 146.5L46.5 145.4L48.6 141.0L50.6 137.5L51.1 136.7L53.6 132.4L55.2 129.0L55.7 128.0L57.9 123.7L59.9 120.0L60.2 119.4L62.7 115.0L64.5 112.1L65.4 110.7L68.1 106.4L69.2 104.8L71.2 102.0L73.8 98.9L75.0 97.7L78.5 93.7L78.8 93.4L82.6 89.1L83.2 87.9L84.6 84.7L86.8 80.4L87.8 78.4L89.1 76.1L91.5 71.7L92.5 70.2L94.2 67.4L95.5 63.1L96.9 58.7L97.1 58.2L98.4 54.4L99.9 50.1L101.5 45.7L101.8 44.4L102.4 41.4L103.3 37.1L104.3 32.7L105.3 28.4L106.4 24.1L106.4 24.1L106.5 19.7L106.6 15.4L106.7 11.1L106.8 6.7L106.8 2.4L106.4 2.4L101.8 2.4L97.1 2.4L92.5 2.4L87.8 2.4L83.2 2.4L78.5 2.4L73.8 2.4L69.2 2.4L64.5 2.4L59.9 2.4L55.2 2.4L50.6 2.4L45.9 2.4L41.3 2.4L36.6 2.4L32.0 2.4L27.3 2.4L27.3 6.7L27.3 11.1L27.3 15.4L27.3 19.7L27.3 24.1L27.3 28.4L27.3 32.7L27.3 37.1L27.3 41.4L27.3 45.7L27.3 50.1L27.3 54.4L27.3 58.7L27.3 63.1L27.3 67.4L27.3 71.7L27.3 76.1L27.3 80.4L27.3 84.7L27.3 89.0L27.3 93.4L27.3 97.7L27.3 102.0L27.3 106.4L27.3 110.7L27.3 115.0L27.3 119.4L27.3 123.7L27.3 128.0L27.3 132.4L27.3 136.7L27.3 141.0L27.3 145.4L27.3 149.7L27.3 154.0L27.3 158.4L27.3 162.7L27.3 167.0L27.3 171.4Z" fill="#e70000" stroke="#e70000" stroke-width="0.4"/>
<path d="M27.3 175.7L29.7 175.7L31.2 171.4L32.0 169.3L32.9 167.0L34.7 162.7L36.6 158.7L36.8 158.4L39.1 154.0L40.8 149.7L41.3 148.6L42.7 145.4L44.7 141.0L45.9 138.5L46.9 136.7L49.3 132.4L50.6 129.6L51.3 128.0L53.3 123.7L55.2 119.9L55.5 119.4L57.8 115.0L59.9 111.5L60.4 110.7L62.6 106.4L64.5 103.1L65.2 102.0L68.4 97.7L69.2 96.8L72.3 93.4L73.8 91.9L76.3 89.1L78.1 84.7L78.5 83.9L80.1 80.4L82.1 76.1L83.2 74.0L84.3 71.7L86.7 67.4L87.8 63.1L87.8 63.0L89.0 58.7L90.2 54.4L91.5 50.1L92.5 47.2L93.0 45.7L93.6 41.4L94.3 37.1L95.1 32.7L95.9 28.4L96.8 24.1L96.6 19.7L96.4 15.4L96.1 11.1L95.9 6.7L95.6 2.4L92.5 2.4L87.8 2.4L83.2 2.4L78.5 2.4L73.8 2.4L69.2 2.4L64.5 2.4L59.9 2.4L55.2 2.4L50.6 2.4L45.9 2.4L41.3 2.4L36.6 2.4L32.0 2.4L27.3 2.4L27.3 6.7L27.3 11.1L27.3 15.4L27.3 19.7L27.3 24.1L27.3 28.4L27.3 32.7L27.3 37.1L27.3 41.4L27.3 45.7L27.3 50.1L27.3 54.4L27.3 58.7L27.3 63.1L27.3 67.4L27.3 71.7L27.3 76.1L27.3 80.4L27.3 84.7L27.3 89.0L27.3 93.4L27.3 97.7L27.3 102.0L27.3 106.4L27.3 110.7L27.3 115.0L27.3 119.4L27.3 123.7L27.3 128.0L27.3 132.4L27.3 136.7L27.3 141.0L27.3 145.4L27.3 149.7L27.3 154.0L27.3 158.4L27.3 162.7L27.3 167.0L27.3 171.4Z" fill="#d70000" stroke="#d70000" stroke-width="0.4"/>
<path d="M27.3 171.4L27.3 174.7L28.4 171.4L29.9 167.0L31.6 162.7L32.0 161.9L33.5 158.4L35.6 154.0L36.6 151.3L37.2 149.7L38.9 145.4L40.7 141.0L41.3 139.8L42.7 136.7L44.9 132.4L45.9 129.9L46.7 128.0L48.6 123.7L50.6 119.8L50.8 119.4L53.0 115.0L55.2 110.8L55.3 110.7L57.1 106.4L59.3 102.0L59.9 100.9L61.8 97.7L64.5 93.9L65.0 93.4L68.9 89.0L69.2 88.4L70.9 84.7L73.2 80.4L73.8 79.1L75.1 76.1L77.1 71.7L78.5 68.8L79.2 67.4L80.1 63.1L81.0 58.7L82.0 54.4L83.0 50.1L83.2 49.5L84.1 45.7L84.5 41.4L84.9 37.1L85.4 32.7L85.9 28.4L86.4 24.1L85.8 19.7L85.2 15.4L84.5 11.1L83.8 6.7L83.2 3.2L83.0 2.4L78.5 2.4L73.8 2.4L69.2 2.4L64.5 2.4L59.9 2.4L55.2 2.4L50.6 2.4L45.9 2.4L41.3 2.4L36.6 2.4L32.0 2.4L27.3 2.4L27.3 6.7L27.3 11.1L27.3 15.4L27.3 19.7L27.3 24.1L27.3 28.4L27.3 32.7L27.3 37.1L27.3 41.4L27.3 45.7L27.3 50.1L27.3 54.4L27.3 58.7L27.3 63.1L27.3 67.4L27.3 71.7L27.3 76.1L27.3 80.4L27.3 84.7L27.3 89.0L27.3 93.4L27.3 97.7L27.3 102.0L27.3 106.4L27.3 110.7L27.3 115.0L27.3 119.4L27.3 123.7L27.3 128.0L27.3 132.4L27.3 136.7L27.3 141.0L27.3 145.4L27.3 149.7L27.3 154.0L27.3 158.4L27.3 162.7L27.3 167.0Z" fill="#c70000" stroke="#c70000" stroke-width="0.4"/>
<path d="M27.3 162.7L27.3 166.1L28.5 162.7L30.2 158.4L32.0 154.5L32.2 154.0L33.6 149.7L35.1 145.4L36.6 141.3L36.7 141.0L38.5 136.7L40.6 132.4L41.3 130.3L42.1 128.0L43.8 123.7L45.7 119.4L45.9 118.9L47.8 115.0L50.2 110.7L50.6 109.5L51.6 106.4L53.3 102.0L55.2 97.8L55.3 97.7L57.7 93.4L59.9 90.1L60.7 89.0L62.3 84.7L64.1 80.4L64.5 79.5L66.1 76.1L68.3 71.7L69.2 70.2L70.8 67.4L71.7 63.1L72.6 58.7L73.6 54.4L73.8 53.6L74.5 50.1L75.3 45.7L75.4 41.4L75.6 37.1L75.7 32.7L75.8 28.4L76.0 24.1L75.0 19.7L74.0 15.4L73.8 14.7L72.0 11.1L69.5 6.7L69.2 6.2L66.4 2.4L64.5 2.4L59.9 2.4L55.2 2.4L50.6 2.4L45.9 2.4L41.3 2.4L36.6 2.4L32.0 2.4L27.3 2.4L27.3 6.7L27.3 11.1L27.3 15.4L27.3 19.7L27.3 24.1L27.3 28.4L27.3 32.7L27.3 37.1L27.3 41.4L27.3 45.7L27.3 50.1L27.3 54.4L27.3 58.7L27.3 63.1L27.3 67.4L27.3 71.7L27.3 76.1L27.3 80.4L27.3 84.7L27.3 89.0L27.3 93.4L27.3 97.7L27.3 102.0L27.3 106.4L27.3 110.7L27.3 115.0L27.3 119.4L27.3 123.7L27.3 128.0L27.3 132.4L27.3 136.7L27.3 141.0L27.3 145.4L27.3 149.7L27.3 154.0L27.3 158.4Z" fill="#b70000" stroke="#b70000" stroke-width="0.4"/>
<path d="M27.3 154.0L27.3 157.4L28.7 154.0L29.9 149.7L31.3 145.4L32.0 143.3L32.8 141.0L34.4 136.7L36.2 132.4L36.6 130.9L37.5 128.0L39.0 123.7L40.6 119.4L41.3 117.7L42.4 115.0L44.5 110.7L45.7 106.4L45.9 105.5L47.0 102.0L48.6 97.7L50.4 93.4L50.6 92.9L52.5 89.0L53.7 84.7L55.1 80.4L55.2 80.1L56.7 76.1L58.4 71.7L59.9 68.2L60.2 67.4L60.7 63.1L61.1 58.7L61.6 54.4L62.1 50.1L62.7 45.7L62.3 41.4L61.9 37.1L61.4 32.7L60.8 28.4L60.2 24.1L59.9 23.6L57.3 19.7L55.2 17.0L53.9 15.4L50.6 11.7L50.1 11.1L46.8 6.7L45.9 5.7L43.1 2.4L41.3 2.4L36.6 2.4L32.0 2.4L27.3 2.4L27.3 6.7L27.3 11.1L27.3 15.4L27.3 19.7L27.3 24.1L27.3 28.4L27.3 32.7L27.3 37.1L27.3 41.4L27.3 45.7L27.3 50.1L27.3 54.4L27.3 58.7L27.3 63.1L27.3 67.4L27.3 71.7L27.3 76.1L27.3 80.4L27.3 84.7L27.3 89.0L27.3 93.4L27.3 97.7L27.3 102.0L27.3 106.4L27.3 110.7L27.3 115.0L27.3 119.4L27.3 123.7L27.3 128.0L27.3 132.4L27.3 136.7L27.3 141.0L27.3 145.4L27.3 149.7Z" fill="#a70000" stroke="#a70000" stroke-width="0.4"/>
<path d="M27.3 145.4L27.3 146.0L27.5 145.4L28.8 141.0L30.2 136.7L31.8 132.4L32.0 131.7L32.9 128.0L34.1 123.7L35.5 119.4L36.6 116.2L37.0 115.0L38.7 110.7L39.6 106.4L40.6 102.0L41.3 99.4L41.7 97.7L43.0 93.4L44.5 89.0L45.3 84.7L45.9 81.8L46.2 80.4L47.3 76.1L48.4 71.7L49.7 67.4L49.7 63.1L49.6 58.7L49.6 54.4L49.6 50.1L49.6 45.7L48.6 41.4L47.6 37.1L46.6 32.7L45.9 30.1L45.5 28.4L44.2 24.1L41.3 20.0L41.1 19.7L37.6 15.4L36.6 14.2L33.9 11.1L32.0 9.0L29.7 6.7L27.3 4.3L27.3 6.7L27.3 11.1L27.3 15.4L27.3 19.7L27.3 24.1L27.3 28.4L27.3 32.7L27.3 37.1L27.3 41.4L27.3 45.7L27.3 50.1L27.3 54.4L27.3 58.7L27.3 63.1L27.3 67.4L27.3 71.7L27.3 76.1L27.3 80.4L27.3 84.7L27.3 89.0L27.3 93.4L27.3 97.7L27.3 102.0L27.3 106.4L27.3 110.7L27.3 115.0L27.3 119.4L27.3 123.7L27.3 128.0L27.3 132.4L27.3 136.7L27.3 141.0Z" fill="#970000" stroke="#970000" stroke-width="0.4"/>
<path d="M27.3 132.4L27.3 132.7L27.4 132.4L28.3 128.0L29.3 123.7L30.4 119.4L31.6 115.0L32.0 114.0L33.0 110.7L33.6 106.4L34.2 102.0L34.8 97.7L35.6 93.4L36.5 89.0L36.6 88.3L37.0 84.7L37.5 80.4L38.0 76.1L38.7 71.7L39.3 67.4L39.0 63.1L38.7 58.7L38.3 54.4L37.9 50.1L37.4 45.7L36.6 42.9L36.1 41.4L34.7 37.1L33.3 32.7L32.0 29.2L31.7 28.4L30.0 24.1L27.3 21.0L27.3 24.1L27.3 28.4L27.3 32.7L27.3 37.1L27.3 41.4L27.3 45.7L27.3 50.1L27.3 54.4L27.3 58.7L27.3 63.1L27.3 67.4L27.3 71.7L27.3 76.1L27.3 80.4L27.3 84.7L27.3 89.0L27.3 93.4L27.3 97.7L27.3 102.0L27.3 106.4L27.3 110.7L27.3 115.0L27.3 119.4L27.3 123.7L27.3 128.0Z" fill="#870000" stroke="#870000" stroke-width="0.4"/>
</g>
<line x1="51.7" y1="2.4" x2="51.7" y2="175.7" stroke="#f21c1c" stroke-width="2.4" stroke-dasharray="7.8 7" stroke-dashoffset="13.2"/>
<line x1="122.5" y1="2.4" x2="122.5" y2="175.7" stroke="#1c1828" stroke-width="2.4" stroke-dasharray="7.8 7" stroke-dashoffset="0.6"/>
<line x1="212.8" y1="2.4" x2="212.8" y2="175.7" stroke="#28b050" stroke-width="2.0" stroke-dasharray="7.8 7" stroke-dashoffset="14.6"/>
<rect x="27.3" y="2.4" width="186.2" height="173.3" fill="none" stroke="#000" stroke-opacity="0.45" stroke-width="0.6"/>
<line x1="27.3" y1="175.7" x2="27.3" y2="173.9" stroke="#222" stroke-width="0.5"/>
<line x1="27.3" y1="2.4" x2="27.3" y2="4.2" stroke="#222" stroke-width="0.5"/>
<text x="27.3" y="184.9" text-anchor="middle" style="font-family:'Liberation Sans',Arial,sans-serif;font-size:6.5px" fill="#222">80</text>
<line x1="50.6" y1="175.7" x2="50.6" y2="173.9" stroke="#222" stroke-width="0.5"/>
<line x1="50.6" y1="2.4" x2="50.6" y2="4.2" stroke="#222" stroke-width="0.5"/>
<text x="50.6" y="184.9" text-anchor="middle" style="font-family:'Liberation Sans',Arial,sans-serif;font-size:6.5px" fill="#222">90</text>
<line x1="73.8" y1="175.7" x2="73.8" y2="173.9" stroke="#222" stroke-width="0.5"/>
<line x1="73.8" y1="2.4" x2="73.8" y2="4.2" stroke="#222" stroke-width="0.5"/>
<text x="73.8" y="184.9" text-anchor="middle" style="font-family:'Liberation Sans',Arial,sans-serif;font-size:6.5px" fill="#222">100</text>
<line x1="97.1" y1="175.7" x2="97.1" y2="173.9" stroke="#222" stroke-width="0.5"/>
<line x1="97.1" y1="2.4" x2="97.1" y2="4.2" stroke="#222" stroke-width="0.5"/>
<text x="97.1" y="184.9" text-anchor="middle" style="font-family:'Liberation Sans',Arial,sans-serif;font-size:6.5px" fill="#222">110</text>
<line x1="120.4" y1="175.7" x2="120.4" y2="173.9" stroke="#222" stroke-width="0.5"/>
<line x1="120.4" y1="2.4" x2="120.4" y2="4.2" stroke="#222" stroke-width="0.5"/>
<text x="120.4" y="184.9" text-anchor="middle" style="font-family:'Liberation Sans',Arial,sans-serif;font-size:6.5px" fill="#222">120</text>
<line x1="143.7" y1="175.7" x2="143.7" y2="173.9" stroke="#222" stroke-width="0.5"/>
<line x1="143.7" y1="2.4" x2="143.7" y2="4.2" stroke="#222" stroke-width="0.5"/>
<text x="143.7" y="184.9" text-anchor="middle" style="font-family:'Liberation Sans',Arial,sans-serif;font-size:6.5px" fill="#222">130</text>
<line x1="166.9" y1="175.7" x2="166.9" y2="173.9" stroke="#222" stroke-width="0.5"/>
<line x1="166.9" y1="2.4" x2="166.9" y2="4.2" stroke="#222" stroke-width="0.5"/>
<text x="166.9" y="184.9" text-anchor="middle" style="font-family:'Liberation Sans',Arial,sans-serif;font-size:6.5px" fill="#222">140</text>
<line x1="190.2" y1="175.7" x2="190.2" y2="173.9" stroke="#222" stroke-width="0.5"/>
<line x1="190.2" y1="2.4" x2="190.2" y2="4.2" stroke="#222" stroke-width="0.5"/>
<text x="190.2" y="184.9" text-anchor="middle" style="font-family:'Liberation Sans',Arial,sans-serif;font-size:6.5px" fill="#222">150</text>
<line x1="213.5" y1="175.7" x2="213.5" y2="173.9" stroke="#222" stroke-width="0.5"/>
<line x1="213.5" y1="2.4" x2="213.5" y2="4.2" stroke="#222" stroke-width="0.5"/>
<text x="213.5" y="184.9" text-anchor="middle" style="font-family:'Liberation Sans',Arial,sans-serif;font-size:6.5px" fill="#222">160</text>
<text x="25.2" y="179.0" text-anchor="end" style="font-family:'Liberation Sans',Arial,sans-serif;font-size:6.5px" fill="#333">190</text>
<text x="25.2" y="157.3" text-anchor="end" style="font-family:'Liberation Sans',Arial,sans-serif;font-size:6.5px" fill="#333">195</text>
<text x="25.2" y="135.7" text-anchor="end" style="font-family:'Liberation Sans',Arial,sans-serif;font-size:6.5px" fill="#333">200</text>
<text x="25.2" y="114.0" text-anchor="end" style="font-family:'Liberation Sans',Arial,sans-serif;font-size:6.5px" fill="#333">205</text>
<text x="25.2" y="92.3" text-anchor="end" style="font-family:'Liberation Sans',Arial,sans-serif;font-size:6.5px" fill="#333">210</text>
<text x="25.2" y="70.7" text-anchor="end" style="font-family:'Liberation Sans',Arial,sans-serif;font-size:6.5px" fill="#333">215</text>
<text x="25.2" y="49.0" text-anchor="end" style="font-family:'Liberation Sans',Arial,sans-serif;font-size:6.5px" fill="#333">220</text>
<text x="25.2" y="27.4" text-anchor="end" style="font-family:'Liberation Sans',Arial,sans-serif;font-size:6.5px" fill="#333">225</text>
<text x="25.2" y="5.7" text-anchor="end" style="font-family:'Liberation Sans',Arial,sans-serif;font-size:6.5px" fill="#333">230</text>
<text x="118.6" y="196" text-anchor="middle" style="font-family:'Liberation Sans',Arial,sans-serif;font-size:9.4px;font-weight:bold" fill="#111">g [nm]</text>
<text transform="translate(8.3,91) rotate(-90)" text-anchor="middle" style="font-family:'Liberation Sans',Arial,sans-serif;font-size:9.7px;font-weight:bold" fill="#111">W [nm]</text>
<text x="118.5" y="215.4" text-anchor="middle" style="font-family:'Liberation Serif','Times New Roman',serif;font-size:14.5px;font-weight:bold" fill="#111">(a)</text>
<defs><linearGradient id="cb" x1="0" y1="1" x2="0" y2="0">
<stop offset="0.0000" stop-color="#000080"/>
<stop offset="0.0312" stop-color="#00009f"/>
<stop offset="0.0625" stop-color="#0000bf"/>
<stop offset="0.0938" stop-color="#0000df"/>
<stop offset="0.1250" stop-color="#0000ff"/>
<stop offset="0.1562" stop-color="#0020ff"/>
<stop offset="0.1875" stop-color="#0040ff"/>
<stop offset="0.2188" stop-color="#0060ff"/>
<stop offset="0.2500" stop-color="#0080ff"/>
<stop offset="0.2812" stop-color="#009fff"/>
<stop offset="0.3125" stop-color="#00bfff"/>
<stop offset="0.3438" stop-color="#00dfff"/>
<stop offset="0.3750" stop-color="#00ffff"/>
<stop offset="0.4062" stop-color="#20ffdf"/>
<stop offset="0.4375" stop-color="#40ffbf"/>
<stop offset="0.4688" stop-color="#60ff9f"/>
<stop offset="0.5000" stop-color="#80ff80"/>
<stop offset="0.5312" stop-color="#9fff60"/>
<stop offset="0.5625" stop-color="#bfff40"/>
<stop offset="0.5938" stop-color="#dfff20"/>
<stop offset="0.6250" stop-color="#ffff00"/>
<stop offset="0.6562" stop-color="#ffdf00"/>
<stop offset="0.6875" stop-color="#ffbf00"/>
<stop offset="0.7188" stop-color="#ff9f00"/>
<stop offset="0.7500" stop-color="#ff8000"/>
<stop offset="0.7812" stop-color="#ff6000"/>
<stop offset="0.8125" stop-color="#ff4000"/>
<stop offset="0.8438" stop-color="#ff2000"/>
<stop offset="0.8750" stop-color="#ff0000"/>
<stop offset="0.9062" stop-color="#df0000"/>
<stop offset="0.9375" stop-color="#bf0000"/>
<stop offset="0.9688" stop-color="#9f0000"/>
<stop offset="1.0000" stop-color="#800000"/>
</linearGradient></defs>
<rect x="223.9" y="2.1" width="13.9" height="174.6" fill="url(#cb)" stroke="#333" stroke-width="0.5"/>
<line x1="237.8" y1="166.4" x2="236.0" y2="166.4" stroke="#222" stroke-width="0.5"/>
<text x="238.8" y="168.8" style="font-family:'Liberation Sans',Arial,sans-serif;font-size:6.5px" fill="#333">0.64</text>
<line x1="237.8" y1="148.7" x2="236.0" y2="148.7" stroke="#222" stroke-width="0.5"/>
<text x="238.8" y="151.1" style="font-family:'Liberation Sans',Arial,sans-serif;font-size:6.5px" fill="#333">0.66</text>
<line x1="237.8" y1="130.9" x2="236.0" y2="130.9" stroke="#222" stroke-width="0.5"/>
<text x="238.8" y="133.3" style="font-family:'Liberation Sans',Arial,sans-serif;font-size:6.5px" fill="#333">0.68</text>
<line x1="237.8" y1="113.2" x2="236.0" y2="113.2" stroke="#222" stroke-width="0.5"/>
<text x="238.8" y="115.6" style="font-family:'Liberation Sans',Arial,sans-serif;font-size:6.5px" fill="#333">0.7</text>
<line x1="237.8" y1="95.4" x2="236.0" y2="95.4" stroke="#222" stroke-width="0.5"/>
<text x="238.8" y="97.8" style="font-family:'Liberation Sans',Arial,sans-serif;font-size:6.5px" fill="#333">0.72</text>
<line x1="237.8" y1="77.7" x2="236.0" y2="77.7" stroke="#222" stroke-width="0.5"/>
<text x="238.8" y="80.1" style="font-family:'Liberation Sans',Arial,sans-serif;font-size:6.5px" fill="#333">0.74</text>
<line x1="237.8" y1="60.0" x2="236.0" y2="60.0" stroke="#222" stroke-width="0.5"/>
<text x="238.8" y="62.4" style="font-family:'Liberation Sans',Arial,sans-serif;font-size:6.5px" fill="#333">0.76</text>
<line x1="237.8" y1="42.2" x2="236.0" y2="42.2" stroke="#222" stroke-width="0.5"/>
<text x="238.8" y="44.6" style="font-family:'Liberation Sans',Arial,sans-serif;font-size:6.5px" fill="#333">0.78</text>
<line x1="237.8" y1="24.5" x2="236.0" y2="24.5" stroke="#222" stroke-width="0.5"/>
<text x="238.8" y="26.9" style="font-family:'Liberation Sans',Arial,sans-serif;font-size:6.5px" fill="#333">0.8</text>
<line x1="237.8" y1="6.7" x2="236.0" y2="6.7" stroke="#222" stroke-width="0.5"/>
<text x="238.8" y="9.1" style="font-family:'Liberation Sans',Arial,sans-serif;font-size:6.5px" fill="#333">0.82</text>
<path d="M293.8 4.3H512.4V175.5" fill="none" stroke="#3a3a3a" stroke-width="0.9"/>
<path d="M293.8 3.9V175.5H512.8" fill="none" stroke="#6a6a6a" stroke-width="1.4"/>
<line x1="293.8" y1="175.5" x2="293.8" y2="173.3" stroke="#4a4a4a" stroke-width="0.7"/>
<line x1="293.8" y1="4.3" x2="293.8" y2="6.5" stroke="#4a4a4a" stroke-width="0.7"/>
<text x="293.8" y="184.3" text-anchor="middle" style="font-family:'Liberation Sans',Arial,sans-serif;font-size:6.3px" fill="#222">190</text>
<line x1="321.1" y1="175.5" x2="321.1" y2="173.3" stroke="#4a4a4a" stroke-width="0.7"/>
<line x1="321.1" y1="4.3" x2="321.1" y2="6.5" stroke="#4a4a4a" stroke-width="0.7"/>
<text x="321.1" y="184.3" text-anchor="middle" style="font-family:'Liberation Sans',Arial,sans-serif;font-size:6.3px" fill="#222">195</text>
<line x1="348.4" y1="175.5" x2="348.4" y2="173.3" stroke="#4a4a4a" stroke-width="0.7"/>
<line x1="348.4" y1="4.3" x2="348.4" y2="6.5" stroke="#4a4a4a" stroke-width="0.7"/>
<text x="348.4" y="184.3" text-anchor="middle" style="font-family:'Liberation Sans',Arial,sans-serif;font-size:6.3px" fill="#222">200</text>
<line x1="375.8" y1="175.5" x2="375.8" y2="173.3" stroke="#4a4a4a" stroke-width="0.7"/>
<line x1="375.8" y1="4.3" x2="375.8" y2="6.5" stroke="#4a4a4a" stroke-width="0.7"/>
<text x="375.8" y="184.3" text-anchor="middle" style="font-family:'Liberation Sans',Arial,sans-serif;font-size:6.3px" fill="#222">205</text>
<line x1="403.1" y1="175.5" x2="403.1" y2="173.3" stroke="#4a4a4a" stroke-width="0.7"/>
<line x1="403.1" y1="4.3" x2="403.1" y2="6.5" stroke="#4a4a4a" stroke-width="0.7"/>
<text x="403.1" y="184.3" text-anchor="middle" style="font-family:'Liberation Sans',Arial,sans-serif;font-size:6.3px" fill="#222">210</text>
<line x1="430.4" y1="175.5" x2="430.4" y2="173.3" stroke="#4a4a4a" stroke-width="0.7"/>
<line x1="430.4" y1="4.3" x2="430.4" y2="6.5" stroke="#4a4a4a" stroke-width="0.7"/>
<text x="430.4" y="184.3" text-anchor="middle" style="font-family:'Liberation Sans',Arial,sans-serif;font-size:6.3px" fill="#222">215</text>
<line x1="457.8" y1="175.5" x2="457.8" y2="173.3" stroke="#4a4a4a" stroke-width="0.7"/>
<line x1="457.8" y1="4.3" x2="457.8" y2="6.5" stroke="#4a4a4a" stroke-width="0.7"/>
<text x="457.8" y="184.3" text-anchor="middle" style="font-family:'Liberation Sans',Arial,sans-serif;font-size:6.3px" fill="#222">220</text>
<line x1="485.1" y1="175.5" x2="485.1" y2="173.3" stroke="#4a4a4a" stroke-width="0.7"/>
<line x1="485.1" y1="4.3" x2="485.1" y2="6.5" stroke="#4a4a4a" stroke-width="0.7"/>
<text x="485.1" y="184.3" text-anchor="middle" style="font-family:'Liberation Sans',Arial,sans-serif;font-size:6.3px" fill="#222">225</text>
<line x1="512.4" y1="175.5" x2="512.4" y2="173.3" stroke="#4a4a4a" stroke-width="0.7"/>
<line x1="512.4" y1="4.3" x2="512.4" y2="6.5" stroke="#4a4a4a" stroke-width="0.7"/>
<text x="512.4" y="184.3" text-anchor="middle" style="font-family:'Liberation Sans',Arial,sans-serif;font-size:6.3px" fill="#222">230</text>
<line x1="293.8" y1="141.3" x2="296.0" y2="141.3" stroke="#4a4a4a" stroke-width="0.7"/>
<line x1="512.4" y1="141.3" x2="510.2" y2="141.3" stroke="#4a4a4a" stroke-width="0.7"/>
<text x="290.6" y="143.6" text-anchor="end" style="font-family:'Liberation Sans',Arial,sans-serif;font-size:6.3px" fill="#222">0.65</text>
<line x1="293.8" y1="107.0" x2="296.0" y2="107.0" stroke="#4a4a4a" stroke-width="0.7"/>
<line x1="512.4" y1="107.0" x2="510.2" y2="107.0" stroke="#4a4a4a" stroke-width="0.7"/>
<text x="290.6" y="109.3" text-anchor="end" style="font-family:'Liberation Sans',Arial,sans-serif;font-size:6.3px" fill="#222">0.7</text>
<line x1="293.8" y1="72.8" x2="296.0" y2="72.8" stroke="#4a4a4a" stroke-width="0.7"/>
<line x1="512.4" y1="72.8" x2="510.2" y2="72.8" stroke="#4a4a4a" stroke-width="0.7"/>
<text x="290.6" y="75.1" text-anchor="end" style="font-family:'Liberation Sans',Arial,sans-serif;font-size:6.3px" fill="#222">0.75</text>
<line x1="293.8" y1="38.5" x2="296.0" y2="38.5" stroke="#4a4a4a" stroke-width="0.7"/>
<line x1="512.4" y1="38.5" x2="510.2" y2="38.5" stroke="#4a4a4a" stroke-width="0.7"/>
<text x="290.6" y="40.8" text-anchor="end" style="font-family:'Liberation Sans',Arial,sans-serif;font-size:6.3px" fill="#222">0.8</text>
<line x1="293.8" y1="4.3" x2="296.0" y2="4.3" stroke="#4a4a4a" stroke-width="0.7"/>
<line x1="512.4" y1="4.3" x2="510.2" y2="4.3" stroke="#4a4a4a" stroke-width="0.7"/>
<text x="290.6" y="6.6" text-anchor="end" style="font-family:'Liberation Sans',Arial,sans-serif;font-size:6.3px" fill="#222">0.85</text>
<polyline points="293.8,156.3 321.1,131.8 348.4,112.5 375.8,96.7 403.1,82.9 430.4,71.8 457.8,61.3 485.1,55.5 512.4,54.4" fill="none" stroke="#40e040" stroke-width="0.8"/>
<rect x="290.4" y="152.9" width="6.8" height="6.8" fill="#00e000" stroke="#0a3a0a" stroke-width="0.7"/>
<rect x="317.7" y="128.4" width="6.8" height="6.8" fill="#00e000" stroke="#0a3a0a" stroke-width="0.7"/>
<rect x="345.1" y="109.1" width="6.8" height="6.8" fill="#00e000" stroke="#0a3a0a" stroke-width="0.7"/>
<rect x="372.4" y="93.3" width="6.8" height="6.8" fill="#00e000" stroke="#0a3a0a" stroke-width="0.7"/>
<rect x="399.7" y="79.5" width="6.8" height="6.8" fill="#00e000" stroke="#0a3a0a" stroke-width="0.7"/>
<rect x="427.0" y="68.4" width="6.8" height="6.8" fill="#00e000" stroke="#0a3a0a" stroke-width="0.7"/>
<rect x="454.4" y="57.9" width="6.8" height="6.8" fill="#00e000" stroke="#0a3a0a" stroke-width="0.7"/>
<rect x="481.7" y="52.1" width="6.8" height="6.8" fill="#00e000" stroke="#0a3a0a" stroke-width="0.7"/>
<rect x="509.0" y="51.0" width="6.8" height="6.8" fill="#00e000" stroke="#0a3a0a" stroke-width="0.7"/>
<polyline points="293.8,92.6 321.1,78.3 348.4,67.0 375.8,57.0 403.1,48.6 430.4,43.3 457.8,40.3 485.1,38.5 512.4,38.1" fill="none" stroke="#3030d0" stroke-width="0.8"/>
<circle cx="293.8" cy="92.6" r="3.5" fill="#0000e8" stroke="#101050" stroke-width="0.6"/>
<circle cx="321.1" cy="78.3" r="3.5" fill="#0000e8" stroke="#101050" stroke-width="0.6"/>
<circle cx="348.4" cy="67.0" r="3.5" fill="#0000e8" stroke="#101050" stroke-width="0.6"/>
<circle cx="375.8" cy="57.0" r="3.5" fill="#0000e8" stroke="#101050" stroke-width="0.6"/>
<circle cx="403.1" cy="48.6" r="3.5" fill="#0000e8" stroke="#101050" stroke-width="0.6"/>
<circle cx="430.4" cy="43.3" r="3.5" fill="#0000e8" stroke="#101050" stroke-width="0.6"/>
<circle cx="457.8" cy="40.3" r="3.5" fill="#0000e8" stroke="#101050" stroke-width="0.6"/>
<circle cx="485.1" cy="38.5" r="3.5" fill="#0000e8" stroke="#101050" stroke-width="0.6"/>
<circle cx="512.4" cy="38.1" r="3.5" fill="#0000e8" stroke="#101050" stroke-width="0.6"/>
<polyline points="293.8,50.2 321.1,40.6 348.4,34.3 375.8,29.6 403.1,26.9 430.4,25.5 457.8,25.5 485.1,26.2 512.4,28.3" fill="none" stroke="#e83030" stroke-width="0.8"/>
<path d="M293.8 45.9L297.5 50.2L293.8 54.5L290.1 50.2Z" fill="#e80000" stroke="#501010" stroke-width="0.6"/>
<path d="M321.1 36.3L324.8 40.6L321.1 44.9L317.4 40.6Z" fill="#e80000" stroke="#501010" stroke-width="0.6"/>
<path d="M348.4 30.0L352.1 34.3L348.4 38.6L344.8 34.3Z" fill="#e80000" stroke="#501010" stroke-width="0.6"/>
<path d="M375.8 25.3L379.5 29.6L375.8 33.9L372.1 29.6Z" fill="#e80000" stroke="#501010" stroke-width="0.6"/>
<path d="M403.1 22.6L406.8 26.9L403.1 31.2L399.4 26.9Z" fill="#e80000" stroke="#501010" stroke-width="0.6"/>
<path d="M430.4 21.2L434.1 25.5L430.4 29.8L426.7 25.5Z" fill="#e80000" stroke="#501010" stroke-width="0.6"/>
<path d="M457.8 21.2L461.4 25.5L457.8 29.8L454.1 25.5Z" fill="#e80000" stroke="#501010" stroke-width="0.6"/>
<path d="M485.1 21.9L488.8 26.2L485.1 30.5L481.4 26.2Z" fill="#e80000" stroke="#501010" stroke-width="0.6"/>
<path d="M512.4 24.0L516.1 28.3L512.4 32.6L508.7 28.3Z" fill="#e80000" stroke="#501010" stroke-width="0.6"/>
<text x="402.4" y="194.2" text-anchor="middle" style="font-family:'Liberation Sans',Arial,sans-serif;font-size:9.7px;font-weight:bold;word-spacing:1.3px" fill="#111">W [nm]</text>
<text transform="translate(272.3,90.4) rotate(-90)" text-anchor="middle" style="font-family:'Liberation Sans',Arial,sans-serif;font-size:9.7px;font-weight:bold" fill="#111">Sensitivity</text>
<text x="407.6" y="213.4" text-anchor="middle" style="font-family:'Liberation Serif','Times New Roman',serif;font-size:14.5px;font-weight:bold" fill="#111">(b)</text>
<rect x="442.3" y="91.3" width="65.4" height="29.5" fill="#fff" stroke="#4a4a4a" stroke-width="0.8"/>
<line x1="446" y1="97.2" x2="468" y2="97.2" stroke="#e83030" stroke-width="0.8"/>
<path d="M457.0 93.4L460.3 97.2L457.0 101.0L453.7 97.2Z" fill="#e80000" stroke="#501010" stroke-width="0.6"/>
<text x="469.5" y="99.0" style="font-family:'Liberation Sans',Arial,sans-serif;font-size:6.2px;word-spacing:1px" fill="#222">g = 90 nm</text>
<line x1="446" y1="106.4" x2="468" y2="106.4" stroke="#3030d0" stroke-width="0.8"/>
<circle cx="457.0" cy="106.4" r="3.4" fill="#0000e8" stroke="#101050" stroke-width="0.6"/>
<text x="469.5" y="108.2" style="font-family:'Liberation Sans',Arial,sans-serif;font-size:6.2px;word-spacing:1px" fill="#222">g = 120 nm</text>
<line x1="446" y1="115.6" x2="468" y2="115.6" stroke="#40e040" stroke-width="0.8"/>
<rect x="454.0" y="112.6" width="6.0" height="6.0" fill="#00e000" stroke="#0a3a0a" stroke-width="0.7"/>
<text x="469.5" y="117.4" style="font-family:'Liberation Sans',Arial,sans-serif;font-size:6.2px;word-spacing:1px" fill="#222">g = 160 nm</text>
<rect x="27" y="260.8" width="209.2" height="54.3" fill="#dbeef4" stroke="#0f1e33" stroke-width="0.8"/>
<rect x="27" y="315.1" width="209.2" height="30.3" fill="#a6a6a6" stroke="#0f1e33" stroke-width="0.8"/>
<path d="M27 345.4H236.2V373.6C222 381 204 385 186 384.2C150 382 110 367 73 367C56 367 40 369.8 27 374.8Z" fill="#254061" stroke="#0f1e33" stroke-width="0.8"/>
<rect x="111.2" y="293.2" width="47.7" height="21.8" fill="#254061" stroke="#0f1e33" stroke-width="0.8"/>
<g stroke="#111" stroke-width="0.7" fill="#111"><line x1="114" y1="287.4" x2="157" y2="287.4"/><path d="M111.6 287.4l4.8 -2.2v4.4z M159.4 287.4l-4.8 -2.2v4.4z" stroke="none"/>
<line x1="165.7" y1="295" x2="165.7" y2="312"/><path d="M165.7 293.2l-2.2 4.8h4.4z M165.7 314.6l-2.2 -4.8h4.4z" stroke="none"/></g>
<text x="126.2" y="283.8" style="font-family:'Liberation Sans',Arial,sans-serif;font-size:8.8px" fill="#14233f" stroke="#14233f" stroke-width="0.15">W<tspan dy="1.8" style="font-size:5.6px">W</tspan></text>
<text x="169.6" y="307" style="font-family:'Liberation Sans',Arial,sans-serif;font-size:8.8px" fill="#14233f" stroke="#14233f" stroke-width="0.15">H<tspan dy="1.8" style="font-size:5.6px">W</tspan></text>
<text transform="translate(135.9,307.8) scale(1,1.12)" text-anchor="middle" style="font-family:'Liberation Sans',Arial,sans-serif;font-size:9.1px;font-weight:bold" fill="#fff">Si</text>
<text transform="translate(86.4,337.3) scale(1,1.14)" text-anchor="middle" style="font-family:'Liberation Sans',Arial,sans-serif;font-size:8.5px;font-weight:bold" fill="#fff">BOX</text>
<text transform="translate(196,375) scale(1,1.12)" text-anchor="middle" style="font-family:'Liberation Sans',Arial,sans-serif;font-size:9.1px;font-weight:bold" fill="#fff">Si</text>
<text x="122.3" y="404.5" text-anchor="middle" style="font-family:'Liberation Serif','Times New Roman',serif;font-size:14.5px;font-weight:bold" fill="#111">(c)</text>
<rect x="296.4" y="237.3" width="216.1" height="165.1" fill="none" stroke="#2a2a2a" stroke-width="1"/>
<line x1="296.4" y1="402.4" x2="296.4" y2="399.4" stroke="#222" stroke-width="0.8"/>
<line x1="296.4" y1="237.3" x2="296.4" y2="240.3" stroke="#222" stroke-width="0.8"/>
<text x="296.4" y="411.6" text-anchor="middle" style="font-family:'Liberation Sans',Arial,sans-serif;font-size:6.3px" fill="#222">200</text>
<line x1="327.3" y1="402.4" x2="327.3" y2="399.4" stroke="#222" stroke-width="0.8"/>
<line x1="327.3" y1="237.3" x2="327.3" y2="240.3" stroke="#222" stroke-width="0.8"/>
<text x="327.3" y="411.6" text-anchor="middle" style="font-family:'Liberation Sans',Arial,sans-serif;font-size:6.3px" fill="#222">250</text>
<line x1="358.1" y1="402.4" x2="358.1" y2="399.4" stroke="#222" stroke-width="0.8"/>
<line x1="358.1" y1="237.3" x2="358.1" y2="240.3" stroke="#222" stroke-width="0.8"/>
<text x="358.1" y="411.6" text-anchor="middle" style="font-family:'Liberation Sans',Arial,sans-serif;font-size:6.3px" fill="#222">300</text>
<line x1="389.0" y1="402.4" x2="389.0" y2="399.4" stroke="#222" stroke-width="0.8"/>
<line x1="389.0" y1="237.3" x2="389.0" y2="240.3" stroke="#222" stroke-width="0.8"/>
<text x="389.0" y="411.6" text-anchor="middle" style="font-family:'Liberation Sans',Arial,sans-serif;font-size:6.3px" fill="#222">350</text>
<line x1="419.9" y1="402.4" x2="419.9" y2="399.4" stroke="#222" stroke-width="0.8"/>
<line x1="419.9" y1="237.3" x2="419.9" y2="240.3" stroke="#222" stroke-width="0.8"/>
<text x="419.9" y="411.6" text-anchor="middle" style="font-family:'Liberation Sans',Arial,sans-serif;font-size:6.3px" fill="#222">400</text>
<line x1="450.8" y1="402.4" x2="450.8" y2="399.4" stroke="#222" stroke-width="0.8"/>
<line x1="450.8" y1="237.3" x2="450.8" y2="240.3" stroke="#222" stroke-width="0.8"/>
<text x="450.8" y="411.6" text-anchor="middle" style="font-family:'Liberation Sans',Arial,sans-serif;font-size:6.3px" fill="#222">450</text>
<line x1="481.6" y1="402.4" x2="481.6" y2="399.4" stroke="#222" stroke-width="0.8"/>
<line x1="481.6" y1="237.3" x2="481.6" y2="240.3" stroke="#222" stroke-width="0.8"/>
<text x="481.6" y="411.6" text-anchor="middle" style="font-family:'Liberation Sans',Arial,sans-serif;font-size:6.3px" fill="#222">500</text>
<line x1="512.5" y1="402.4" x2="512.5" y2="399.4" stroke="#222" stroke-width="0.8"/>
<line x1="512.5" y1="237.3" x2="512.5" y2="240.3" stroke="#222" stroke-width="0.8"/>
<text x="512.5" y="411.6" text-anchor="middle" style="font-family:'Liberation Sans',Arial,sans-serif;font-size:6.3px" fill="#222">550</text>
<line x1="296.4" y1="402.4" x2="299.4" y2="402.4" stroke="#222" stroke-width="0.8"/>
<line x1="512.5" y1="402.4" x2="509.5" y2="402.4" stroke="#222" stroke-width="0.8"/>
<text x="293.6" y="404.7" text-anchor="end" style="font-family:'Liberation Sans',Arial,sans-serif;font-size:6.3px" fill="#222">0.1</text>
<line x1="296.4" y1="377.0" x2="299.4" y2="377.0" stroke="#222" stroke-width="0.8"/>
<line x1="512.5" y1="377.0" x2="509.5" y2="377.0" stroke="#222" stroke-width="0.8"/>
<text x="293.6" y="379.3" text-anchor="end" style="font-family:'Liberation Sans',Arial,sans-serif;font-size:6.3px" fill="#222">0.2</text>
<line x1="296.4" y1="351.6" x2="299.4" y2="351.6" stroke="#222" stroke-width="0.8"/>
<line x1="512.5" y1="351.6" x2="509.5" y2="351.6" stroke="#222" stroke-width="0.8"/>
<text x="293.6" y="353.9" text-anchor="end" style="font-family:'Liberation Sans',Arial,sans-serif;font-size:6.3px" fill="#222">0.3</text>
<line x1="296.4" y1="326.2" x2="299.4" y2="326.2" stroke="#222" stroke-width="0.8"/>
<line x1="512.5" y1="326.2" x2="509.5" y2="326.2" stroke="#222" stroke-width="0.8"/>
<text x="293.6" y="328.5" text-anchor="end" style="font-family:'Liberation Sans',Arial,sans-serif;font-size:6.3px" fill="#222">0.4</text>
<line x1="296.4" y1="300.8" x2="299.4" y2="300.8" stroke="#222" stroke-width="0.8"/>
<line x1="512.5" y1="300.8" x2="509.5" y2="300.8" stroke="#222" stroke-width="0.8"/>
<text x="293.6" y="303.1" text-anchor="end" style="font-family:'Liberation Sans',Arial,sans-serif;font-size:6.3px" fill="#222">0.5</text>
<line x1="296.4" y1="275.4" x2="299.4" y2="275.4" stroke="#222" stroke-width="0.8"/>
<line x1="512.5" y1="275.4" x2="509.5" y2="275.4" stroke="#222" stroke-width="0.8"/>
<text x="293.6" y="277.7" text-anchor="end" style="font-family:'Liberation Sans',Arial,sans-serif;font-size:6.3px" fill="#222">0.6</text>
<line x1="296.4" y1="250.0" x2="299.4" y2="250.0" stroke="#222" stroke-width="0.8"/>
<line x1="512.5" y1="250.0" x2="509.5" y2="250.0" stroke="#222" stroke-width="0.8"/>
<text x="293.6" y="252.3" text-anchor="end" style="font-family:'Liberation Sans',Arial,sans-serif;font-size:6.3px" fill="#222">0.7</text>
<polyline points="314.9,279.3 318.0,269.1 321.1,259.8 324.2,252.3 327.3,246.5 330.4,242.4 333.4,239.5 336.5,237.9 339.6,238.2 342.7,240.3 345.8,243.9 348.9,247.6 352.0,251.7 355.1,256.5 358.1,262.5 361.2,269.0 364.3,275.2 367.4,281.3 370.5,287.1 373.6,292.6 376.7,297.9 379.8,303.1 382.8,308.6 385.9,315.1 389.0,321.8 392.1,327.8 395.2,333.5 398.3,339.0 401.4,344.1 404.4,348.4 407.5,352.2 410.6,355.5 413.7,358.5 416.8,361.3 419.9,363.8 423.0,366.1 426.1,368.3 429.1,370.3 432.2,372.2 435.3,374.0 438.4,375.6 441.5,377.2 444.6,378.7 447.7,380.0 450.8,381.3 453.8,382.6 456.9,383.8 460.0,384.9 463.1,386.0 466.2,386.9 469.3,387.7 472.4,388.5 475.5,389.2 478.5,390.0 481.6,390.8 484.7,391.6 487.8,392.3" fill="none" stroke="#3030d0" stroke-width="0.8"/>
<g fill="#0000e0" stroke="#10104a" stroke-width="0.5">
<circle cx="314.9" cy="279.3" r="3.55"/>
<circle cx="318.0" cy="269.1" r="3.55"/>
<circle cx="321.1" cy="259.8" r="3.55"/>
<circle cx="324.2" cy="252.3" r="3.55"/>
<circle cx="327.3" cy="246.5" r="3.55"/>
<circle cx="330.4" cy="242.4" r="3.55"/>
<circle cx="333.4" cy="239.5" r="3.55"/>
<circle cx="336.5" cy="237.9" r="3.55"/>
<circle cx="339.6" cy="238.2" r="3.55"/>
<circle cx="342.7" cy="240.3" r="3.55"/>
<circle cx="345.8" cy="243.9" r="3.55"/>
<circle cx="348.9" cy="247.6" r="3.55"/>
<circle cx="352.0" cy="251.7" r="3.55"/>
<circle cx="355.1" cy="256.5" r="3.55"/>
<circle cx="358.1" cy="262.5" r="3.55"/>
<circle cx="361.2" cy="269.0" r="3.55"/>
<circle cx="364.3" cy="275.2" r="3.55"/>
<circle cx="367.4" cy="281.3" r="3.55"/>
<circle cx="370.5" cy="287.1" r="3.55"/>
<circle cx="373.6" cy="292.6" r="3.55"/>
<circle cx="376.7" cy="297.9" r="3.55"/>
<circle cx="379.8" cy="303.1" r="3.55"/>
<circle cx="382.8" cy="308.6" r="3.55"/>
<circle cx="385.9" cy="315.1" r="3.55"/>
<circle cx="389.0" cy="321.8" r="3.55"/>
<circle cx="392.1" cy="327.8" r="3.55"/>
<circle cx="395.2" cy="333.5" r="3.55"/>
<circle cx="398.3" cy="339.0" r="3.55"/>
<circle cx="401.4" cy="344.1" r="3.55"/>
<circle cx="404.4" cy="348.4" r="3.55"/>
<circle cx="407.5" cy="352.2" r="3.55"/>
<circle cx="410.6" cy="355.5" r="3.55"/>
<circle cx="413.7" cy="358.5" r="3.55"/>
<circle cx="416.8" cy="361.3" r="3.55"/>
<circle cx="419.9" cy="363.8" r="3.55"/>
<circle cx="423.0" cy="366.1" r="3.55"/>
<circle cx="426.1" cy="368.3" r="3.55"/>
<circle cx="429.1" cy="370.3" r="3.55"/>
<circle cx="432.2" cy="372.2" r="3.55"/>
<circle cx="435.3" cy="374.0" r="3.55"/>
<circle cx="438.4" cy="375.6" r="3.55"/>
<circle cx="441.5" cy="377.2" r="3.55"/>
<circle cx="444.6" cy="378.7" r="3.55"/>
<circle cx="447.7" cy="380.0" r="3.55"/>
<circle cx="450.8" cy="381.3" r="3.55"/>
<circle cx="453.8" cy="382.6" r="3.55"/>
<circle cx="456.9" cy="383.8" r="3.55"/>
<circle cx="460.0" cy="384.9" r="3.55"/>
<circle cx="463.1" cy="386.0" r="3.55"/>
<circle cx="466.2" cy="386.9" r="3.55"/>
<circle cx="469.3" cy="387.7" r="3.55"/>
<circle cx="472.4" cy="388.5" r="3.55"/>
<circle cx="475.5" cy="389.2" r="3.55"/>
<circle cx="478.5" cy="390.0" r="3.55"/>
<circle cx="481.6" cy="390.8" r="3.55"/>
<circle cx="484.7" cy="391.6" r="3.55"/>
<circle cx="487.8" cy="392.3" r="3.55"/>
</g>
<polyline points="302.6,339.2 305.7,335.4 308.7,331.9 311.8,328.5 314.9,325.3 318.0,322.5 321.1,319.9 324.2,317.6 327.3,315.4 330.4,313.3 333.4,311.4 336.5,309.5 339.6,307.8 342.7,306.2 345.8,304.7 348.9,303.5 352.0,302.3 355.1,301.3 358.1,300.5 361.2,299.7 364.3,299.1 367.4,298.5 370.5,298.1 373.6,297.7 376.7,297.3 379.8,297.0 382.8,296.8 385.9,296.5 389.0,296.3 392.1,296.0 395.2,295.8 398.3,295.6 401.4,295.4 404.4,295.3 407.5,295.3 410.6,295.3 413.7,295.2 416.8,295.2 419.9,295.2 423.0,295.2 426.1,295.3 429.1,295.4 432.2,295.6 435.3,295.7 438.4,295.9 441.5,296.0 444.6,296.2 447.7,296.4 450.8,296.6 453.8,296.9 456.9,297.2 460.0,297.4 463.1,297.7 466.2,298.0 469.3,298.4 472.4,298.8 475.5,299.1 478.5,299.6 481.6,300.0 484.7,300.5 487.8,301.0" fill="none" stroke="#e03030" stroke-width="0.8"/>
<g fill="#e60000" stroke="#4a1010" stroke-width="0.5">
<path d="M302.6 335.2L306.6 339.2L302.6 343.2L298.6 339.2Z"/>
<path d="M305.7 331.4L309.7 335.4L305.7 339.4L301.7 335.4Z"/>
<path d="M308.7 327.9L312.7 331.9L308.7 335.9L304.7 331.9Z"/>
<path d="M311.8 324.5L315.8 328.5L311.8 332.5L307.8 328.5Z"/>
<path d="M314.9 321.3L318.9 325.3L314.9 329.3L310.9 325.3Z"/>
<path d="M318.0 318.5L322.0 322.5L318.0 326.5L314.0 322.5Z"/>
<path d="M321.1 315.9L325.1 319.9L321.1 323.9L317.1 319.9Z"/>
<path d="M324.2 313.6L328.2 317.6L324.2 321.6L320.2 317.6Z"/>
<path d="M327.3 311.4L331.3 315.4L327.3 319.4L323.3 315.4Z"/>
<path d="M330.4 309.3L334.4 313.3L330.4 317.3L326.4 313.3Z"/>
<path d="M333.4 307.4L337.4 311.4L333.4 315.4L329.4 311.4Z"/>
<path d="M336.5 305.5L340.5 309.5L336.5 313.5L332.5 309.5Z"/>
<path d="M339.6 303.8L343.6 307.8L339.6 311.8L335.6 307.8Z"/>
<path d="M342.7 302.2L346.7 306.2L342.7 310.2L338.7 306.2Z"/>
<path d="M345.8 300.7L349.8 304.7L345.8 308.7L341.8 304.7Z"/>
<path d="M348.9 299.5L352.9 303.5L348.9 307.5L344.9 303.5Z"/>
<path d="M352.0 298.3L356.0 302.3L352.0 306.3L348.0 302.3Z"/>
<path d="M355.1 297.3L359.1 301.3L355.1 305.3L351.1 301.3Z"/>
<path d="M358.1 296.5L362.1 300.5L358.1 304.5L354.1 300.5Z"/>
<path d="M361.2 295.7L365.2 299.7L361.2 303.7L357.2 299.7Z"/>
<path d="M364.3 295.1L368.3 299.1L364.3 303.1L360.3 299.1Z"/>
<path d="M367.4 294.5L371.4 298.5L367.4 302.5L363.4 298.5Z"/>
<path d="M370.5 294.1L374.5 298.1L370.5 302.1L366.5 298.1Z"/>
<path d="M373.6 293.7L377.6 297.7L373.6 301.7L369.6 297.7Z"/>
<path d="M376.7 293.3L380.7 297.3L376.7 301.3L372.7 297.3Z"/>
<path d="M379.8 293.0L383.8 297.0L379.8 301.0L375.8 297.0Z"/>
<path d="M382.8 292.8L386.8 296.8L382.8 300.8L378.8 296.8Z"/>
<path d="M385.9 292.5L389.9 296.5L385.9 300.5L381.9 296.5Z"/>
<path d="M389.0 292.3L393.0 296.3L389.0 300.3L385.0 296.3Z"/>
<path d="M392.1 292.0L396.1 296.0L392.1 300.0L388.1 296.0Z"/>
<path d="M395.2 291.8L399.2 295.8L395.2 299.8L391.2 295.8Z"/>
<path d="M398.3 291.6L402.3 295.6L398.3 299.6L394.3 295.6Z"/>
<path d="M401.4 291.4L405.4 295.4L401.4 299.4L397.4 295.4Z"/>
<path d="M404.4 291.3L408.4 295.3L404.4 299.3L400.4 295.3Z"/>
<path d="M407.5 291.3L411.5 295.3L407.5 299.3L403.5 295.3Z"/>
<path d="M410.6 291.3L414.6 295.3L410.6 299.3L406.6 295.3Z"/>
<path d="M413.7 291.2L417.7 295.2L413.7 299.2L409.7 295.2Z"/>
<path d="M416.8 291.2L420.8 295.2L416.8 299.2L412.8 295.2Z"/>
<path d="M419.9 291.2L423.9 295.2L419.9 299.2L415.9 295.2Z"/>
<path d="M423.0 291.2L427.0 295.2L423.0 299.2L419.0 295.2Z"/>
<path d="M426.1 291.3L430.1 295.3L426.1 299.3L422.1 295.3Z"/>
<path d="M429.1 291.4L433.1 295.4L429.1 299.4L425.1 295.4Z"/>
<path d="M432.2 291.6L436.2 295.6L432.2 299.6L428.2 295.6Z"/>
<path d="M435.3 291.7L439.3 295.7L435.3 299.7L431.3 295.7Z"/>
<path d="M438.4 291.9L442.4 295.9L438.4 299.9L434.4 295.9Z"/>
<path d="M441.5 292.0L445.5 296.0L441.5 300.0L437.5 296.0Z"/>
<path d="M444.6 292.2L448.6 296.2L444.6 300.2L440.6 296.2Z"/>
<path d="M447.7 292.4L451.7 296.4L447.7 300.4L443.7 296.4Z"/>
<path d="M450.8 292.6L454.8 296.6L450.8 300.6L446.8 296.6Z"/>
<path d="M453.8 292.9L457.8 296.9L453.8 300.9L449.8 296.9Z"/>
<path d="M456.9 293.2L460.9 297.2L456.9 301.2L452.9 297.2Z"/>
<path d="M460.0 293.4L464.0 297.4L460.0 301.4L456.0 297.4Z"/>
<path d="M463.1 293.7L467.1 297.7L463.1 301.7L459.1 297.7Z"/>
<path d="M466.2 294.0L470.2 298.0L466.2 302.0L462.2 298.0Z"/>
<path d="M469.3 294.4L473.3 298.4L469.3 302.4L465.3 298.4Z"/>
<path d="M472.4 294.8L476.4 298.8L472.4 302.8L468.4 298.8Z"/>
<path d="M475.5 295.1L479.5 299.1L475.5 303.1L471.5 299.1Z"/>
<path d="M478.5 295.6L482.5 299.6L478.5 303.6L474.5 299.6Z"/>
<path d="M481.6 296.0L485.6 300.0L481.6 304.0L477.6 300.0Z"/>
<path d="M484.7 296.5L488.7 300.5L484.7 304.5L480.7 300.5Z"/>
<path d="M487.8 297.0L491.8 301.0L487.8 305.0L483.8 301.0Z"/>
</g>
<text x="384.1" y="421.8" style="font-family:'Liberation Sans',Arial,sans-serif;font-size:9.6px;font-weight:bold" fill="#111">W<tspan dy="4.9" style="font-size:6.2px">W</tspan><tspan x="402.6" dy="-4.9">[nm]</tspan></text>
<text transform="translate(278.7,320.7) rotate(-90)" text-anchor="middle" style="font-family:'Liberation Sans',Arial,sans-serif;font-size:9.6px;font-weight:bold" fill="#111">Sensitivity</text>
<text x="410" y="443.2" text-anchor="middle" style="font-family:'Liberation Serif','Times New Roman',serif;font-size:14.5px;font-weight:bold" fill="#111">(d)</text>
<rect x="438.5" y="240.5" width="70.8" height="20.1" fill="#fff" stroke="#4a4a4a" stroke-width="0.8"/>
<line x1="442.2" y1="246.6" x2="463.2" y2="246.3" stroke="#3030d0" stroke-width="0.8"/>
<circle cx="452.5" cy="246.6" r="3.6" fill="#0000e0" stroke="#10104a" stroke-width="0.5"/>
<text x="465.6" y="249" style="font-family:'Liberation Sans',Arial,sans-serif;font-size:6.8px" fill="#222">TE-like mode</text>
<line x1="442.2" y1="255.4" x2="463.2" y2="255.2" stroke="#e03030" stroke-width="0.8"/>
<path d="M452.5 251.3L456.0 255.4L452.5 259.5L449.0 255.4Z" fill="#e60000" stroke="#4a1010" stroke-width="0.6"/>
<text x="465.6" y="257.9" style="font-family:'Liberation Sans',Arial,sans-serif;font-size:6.8px" fill="#222">TM-like mode</text>
</svg>
</body></html>
